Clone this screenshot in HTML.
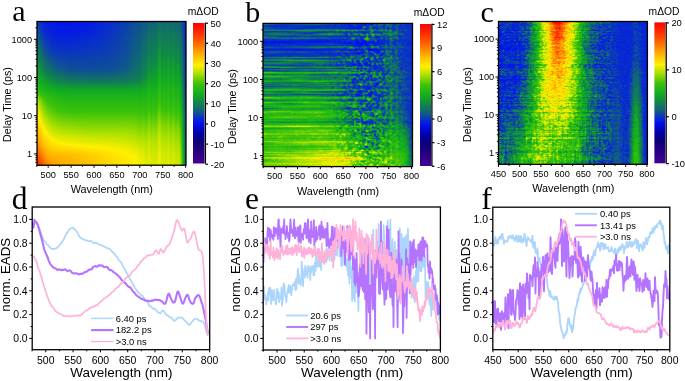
<!DOCTYPE html>
<html><head><meta charset="utf-8"><title>TA figure</title>
<style>
html,body{margin:0;padding:0;background:#fff;}
body{width:685px;height:381px;overflow:hidden;position:relative;font-family:"Liberation Sans",sans-serif;}
canvas{position:absolute;filter:blur(0.45px);}
svg{position:absolute;left:0;top:0;}
</style></head><body>
<canvas id="ha" width="149" height="145" style="left:37px;top:21px;width:149px;height:145px;background:linear-gradient(to right,rgba(0,0,0,0) 70%,rgba(40,190,40,0.5) 80%,rgba(0,20,200,0.8) 100%),linear-gradient(to bottom,#0a28d8 0%,#1050b0 25%,#106890 38%,#20b020 48%,#60c810 68%,#c8e000 82%,#ffd000 94%,#ff9000 100%)"></canvas><canvas id="hb" width="150" height="144" style="left:263px;top:23px;width:150px;height:144px;background:linear-gradient(to right,rgba(0,0,0,0) 50%,rgba(10,50,220,0.55) 65%,rgba(10,40,230,0.7) 92%,rgba(0,20,240,0.95) 100%),linear-gradient(to bottom,#1868a8 0%,#1a80a0 35%,#20a050 60%,#70c818 82%,#d8e400 100%)"></canvas><canvas id="hc" width="150" height="144" style="left:498px;top:21px;width:150px;height:144px;background:linear-gradient(to right,#1040d0 0%,#1050c0 14%,#20a040 22%,#d0e000 28%,#ffb000 35%,#ff5000 40%,#ffb000 45%,#e0e000 52%,#20a040 60%,#1048c0 68%,#0a30e0 85%,#20a050 93%,#0a30e0 98%)"></canvas>
<svg width="685" height="381" viewBox="0 0 685 381" font-family="Liberation Sans" fill="#000">
<defs><linearGradient id="cmg" x1="0" y1="0" x2="0" y2="1"><stop offset="0.000" stop-color="rgb(255,0,0)"/><stop offset="0.070" stop-color="rgb(255,45,0)"/><stop offset="0.140" stop-color="rgb(255,100,0)"/><stop offset="0.220" stop-color="rgb(255,175,0)"/><stop offset="0.300" stop-color="rgb(255,240,0)"/><stop offset="0.360" stop-color="rgb(170,225,0)"/><stop offset="0.430" stop-color="rgb(60,195,10)"/><stop offset="0.500" stop-color="rgb(20,175,30)"/><stop offset="0.536" stop-color="rgb(16,155,50)"/><stop offset="0.571" stop-color="rgb(16,130,80)"/><stop offset="0.607" stop-color="rgb(16,110,105)"/><stop offset="0.643" stop-color="rgb(14,80,150)"/><stop offset="0.679" stop-color="rgb(8,45,205)"/><stop offset="0.714" stop-color="rgb(0,15,240)"/><stop offset="0.780" stop-color="rgb(0,0,170)"/><stop offset="0.840" stop-color="rgb(10,0,120)"/><stop offset="0.920" stop-color="rgb(40,0,130)"/><stop offset="1.000" stop-color="rgb(70,0,150)"/></linearGradient></defs>
<rect x="37.00" y="21.50" width="149.00" height="143.70" fill="none" stroke="#000" stroke-width="1.3"/>
<line x1="36.75" y1="165.20" x2="36.75" y2="166.80" stroke="#000" stroke-width="1.0"/>
<line x1="48.20" y1="165.20" x2="48.20" y2="167.80" stroke="#000" stroke-width="1.0"/>
<text x="48.20" y="177.50" font-size="9.2" text-anchor="middle" >500</text>
<line x1="59.65" y1="165.20" x2="59.65" y2="166.80" stroke="#000" stroke-width="1.0"/>
<line x1="71.10" y1="165.20" x2="71.10" y2="167.80" stroke="#000" stroke-width="1.0"/>
<text x="71.10" y="177.50" font-size="9.2" text-anchor="middle" >550</text>
<line x1="82.55" y1="165.20" x2="82.55" y2="166.80" stroke="#000" stroke-width="1.0"/>
<line x1="94.00" y1="165.20" x2="94.00" y2="167.80" stroke="#000" stroke-width="1.0"/>
<text x="94.00" y="177.50" font-size="9.2" text-anchor="middle" >600</text>
<line x1="105.45" y1="165.20" x2="105.45" y2="166.80" stroke="#000" stroke-width="1.0"/>
<line x1="116.90" y1="165.20" x2="116.90" y2="167.80" stroke="#000" stroke-width="1.0"/>
<text x="116.90" y="177.50" font-size="9.2" text-anchor="middle" >650</text>
<line x1="128.35" y1="165.20" x2="128.35" y2="166.80" stroke="#000" stroke-width="1.0"/>
<line x1="139.80" y1="165.20" x2="139.80" y2="167.80" stroke="#000" stroke-width="1.0"/>
<text x="139.80" y="177.50" font-size="9.2" text-anchor="middle" >700</text>
<line x1="151.25" y1="165.20" x2="151.25" y2="166.80" stroke="#000" stroke-width="1.0"/>
<line x1="162.70" y1="165.20" x2="162.70" y2="167.80" stroke="#000" stroke-width="1.0"/>
<text x="162.70" y="177.50" font-size="9.2" text-anchor="middle" >750</text>
<line x1="174.15" y1="165.20" x2="174.15" y2="166.80" stroke="#000" stroke-width="1.0"/>
<line x1="185.60" y1="165.20" x2="185.60" y2="167.80" stroke="#000" stroke-width="1.0"/>
<text x="185.60" y="177.50" font-size="9.2" text-anchor="middle" >800</text>
<line x1="35.40" y1="162.37" x2="37.00" y2="162.37" stroke="#000" stroke-width="1.0"/>
<line x1="35.40" y1="159.82" x2="37.00" y2="159.82" stroke="#000" stroke-width="1.0"/>
<line x1="35.40" y1="157.60" x2="37.00" y2="157.60" stroke="#000" stroke-width="1.0"/>
<line x1="35.40" y1="155.65" x2="37.00" y2="155.65" stroke="#000" stroke-width="1.0"/>
<line x1="34.00" y1="153.90" x2="37.00" y2="153.90" stroke="#000" stroke-width="1.0"/>
<text x="32.00" y="157.10" font-size="9.2" text-anchor="end" >1</text>
<line x1="35.40" y1="142.40" x2="37.00" y2="142.40" stroke="#000" stroke-width="1.0"/>
<line x1="35.40" y1="135.67" x2="37.00" y2="135.67" stroke="#000" stroke-width="1.0"/>
<line x1="35.40" y1="130.90" x2="37.00" y2="130.90" stroke="#000" stroke-width="1.0"/>
<line x1="35.40" y1="127.20" x2="37.00" y2="127.20" stroke="#000" stroke-width="1.0"/>
<line x1="35.40" y1="124.17" x2="37.00" y2="124.17" stroke="#000" stroke-width="1.0"/>
<line x1="35.40" y1="121.62" x2="37.00" y2="121.62" stroke="#000" stroke-width="1.0"/>
<line x1="35.40" y1="119.40" x2="37.00" y2="119.40" stroke="#000" stroke-width="1.0"/>
<line x1="35.40" y1="117.45" x2="37.00" y2="117.45" stroke="#000" stroke-width="1.0"/>
<line x1="34.00" y1="115.70" x2="37.00" y2="115.70" stroke="#000" stroke-width="1.0"/>
<text x="32.00" y="118.90" font-size="9.2" text-anchor="end" >10</text>
<line x1="35.40" y1="104.20" x2="37.00" y2="104.20" stroke="#000" stroke-width="1.0"/>
<line x1="35.40" y1="97.47" x2="37.00" y2="97.47" stroke="#000" stroke-width="1.0"/>
<line x1="35.40" y1="92.70" x2="37.00" y2="92.70" stroke="#000" stroke-width="1.0"/>
<line x1="35.40" y1="89.00" x2="37.00" y2="89.00" stroke="#000" stroke-width="1.0"/>
<line x1="35.40" y1="85.97" x2="37.00" y2="85.97" stroke="#000" stroke-width="1.0"/>
<line x1="35.40" y1="83.42" x2="37.00" y2="83.42" stroke="#000" stroke-width="1.0"/>
<line x1="35.40" y1="81.20" x2="37.00" y2="81.20" stroke="#000" stroke-width="1.0"/>
<line x1="35.40" y1="79.25" x2="37.00" y2="79.25" stroke="#000" stroke-width="1.0"/>
<line x1="34.00" y1="77.50" x2="37.00" y2="77.50" stroke="#000" stroke-width="1.0"/>
<text x="32.00" y="80.70" font-size="9.2" text-anchor="end" >100</text>
<line x1="35.40" y1="66.00" x2="37.00" y2="66.00" stroke="#000" stroke-width="1.0"/>
<line x1="35.40" y1="59.27" x2="37.00" y2="59.27" stroke="#000" stroke-width="1.0"/>
<line x1="35.40" y1="54.50" x2="37.00" y2="54.50" stroke="#000" stroke-width="1.0"/>
<line x1="35.40" y1="50.80" x2="37.00" y2="50.80" stroke="#000" stroke-width="1.0"/>
<line x1="35.40" y1="47.77" x2="37.00" y2="47.77" stroke="#000" stroke-width="1.0"/>
<line x1="35.40" y1="45.22" x2="37.00" y2="45.22" stroke="#000" stroke-width="1.0"/>
<line x1="35.40" y1="43.00" x2="37.00" y2="43.00" stroke="#000" stroke-width="1.0"/>
<line x1="35.40" y1="41.05" x2="37.00" y2="41.05" stroke="#000" stroke-width="1.0"/>
<line x1="34.00" y1="39.30" x2="37.00" y2="39.30" stroke="#000" stroke-width="1.0"/>
<text x="32.00" y="42.50" font-size="9.2" text-anchor="end" >1000</text>
<line x1="35.40" y1="27.80" x2="37.00" y2="27.80" stroke="#000" stroke-width="1.0"/>
<text x="111.80" y="193.10" font-size="10.85" text-anchor="middle" >Wavelength (nm)</text>
<text x="0.00" y="0.00" font-size="10.7" text-anchor="middle" transform="translate(10.60,104.50) rotate(-90)">Delay Time (ps)</text>
<rect x="193.00" y="23.00" width="11.50" height="140.50" fill="url(#cmg)"/>
<line x1="205.40" y1="22.70" x2="205.40" y2="163.80" stroke="#000" stroke-width="1.3"/>
<line x1="205.40" y1="23.20" x2="208.00" y2="23.20" stroke="#000" stroke-width="1.2"/>
<text x="210.60" y="26.60" font-size="9.4" text-anchor="start" >50</text>
<line x1="205.40" y1="43.35" x2="208.00" y2="43.35" stroke="#000" stroke-width="1.2"/>
<text x="210.60" y="46.75" font-size="9.4" text-anchor="start" >40</text>
<line x1="205.40" y1="63.50" x2="208.00" y2="63.50" stroke="#000" stroke-width="1.2"/>
<text x="210.60" y="66.90" font-size="9.4" text-anchor="start" >30</text>
<line x1="205.40" y1="83.65" x2="208.00" y2="83.65" stroke="#000" stroke-width="1.2"/>
<text x="210.60" y="87.05" font-size="9.4" text-anchor="start" >20</text>
<line x1="205.40" y1="103.80" x2="208.00" y2="103.80" stroke="#000" stroke-width="1.2"/>
<text x="210.60" y="107.20" font-size="9.4" text-anchor="start" >10</text>
<line x1="205.40" y1="123.95" x2="208.00" y2="123.95" stroke="#000" stroke-width="1.2"/>
<text x="210.60" y="127.35" font-size="9.4" text-anchor="start" >0</text>
<line x1="205.40" y1="144.10" x2="208.00" y2="144.10" stroke="#000" stroke-width="1.2"/>
<text x="210.60" y="147.50" font-size="9.4" text-anchor="start" >-10</text>
<line x1="205.40" y1="164.25" x2="208.00" y2="164.25" stroke="#000" stroke-width="1.2"/>
<text x="210.60" y="167.65" font-size="9.4" text-anchor="start" >-20</text>
<text x="187.80" y="14.60" font-size="10.3" text-anchor="start" >m&#916;OD</text>
<text x="12.30" y="21.20" font-size="30" text-anchor="start" font-family="Liberation Serif">a</text>
<rect x="263.00" y="23.40" width="149.50" height="143.20" fill="none" stroke="#000" stroke-width="1.3"/>
<line x1="263.30" y1="166.60" x2="263.30" y2="168.20" stroke="#000" stroke-width="1.0"/>
<line x1="274.70" y1="166.60" x2="274.70" y2="169.20" stroke="#000" stroke-width="1.0"/>
<text x="274.70" y="179.10" font-size="9.2" text-anchor="middle" >500</text>
<line x1="286.10" y1="166.60" x2="286.10" y2="168.20" stroke="#000" stroke-width="1.0"/>
<line x1="297.50" y1="166.60" x2="297.50" y2="169.20" stroke="#000" stroke-width="1.0"/>
<text x="297.50" y="179.10" font-size="9.2" text-anchor="middle" >550</text>
<line x1="308.90" y1="166.60" x2="308.90" y2="168.20" stroke="#000" stroke-width="1.0"/>
<line x1="320.30" y1="166.60" x2="320.30" y2="169.20" stroke="#000" stroke-width="1.0"/>
<text x="320.30" y="179.10" font-size="9.2" text-anchor="middle" >600</text>
<line x1="331.70" y1="166.60" x2="331.70" y2="168.20" stroke="#000" stroke-width="1.0"/>
<line x1="343.10" y1="166.60" x2="343.10" y2="169.20" stroke="#000" stroke-width="1.0"/>
<text x="343.10" y="179.10" font-size="9.2" text-anchor="middle" >650</text>
<line x1="354.50" y1="166.60" x2="354.50" y2="168.20" stroke="#000" stroke-width="1.0"/>
<line x1="365.90" y1="166.60" x2="365.90" y2="169.20" stroke="#000" stroke-width="1.0"/>
<text x="365.90" y="179.10" font-size="9.2" text-anchor="middle" >700</text>
<line x1="377.30" y1="166.60" x2="377.30" y2="168.20" stroke="#000" stroke-width="1.0"/>
<line x1="388.70" y1="166.60" x2="388.70" y2="169.20" stroke="#000" stroke-width="1.0"/>
<text x="388.70" y="179.10" font-size="9.2" text-anchor="middle" >750</text>
<line x1="400.10" y1="166.60" x2="400.10" y2="168.20" stroke="#000" stroke-width="1.0"/>
<line x1="411.50" y1="166.60" x2="411.50" y2="169.20" stroke="#000" stroke-width="1.0"/>
<text x="411.50" y="179.10" font-size="9.2" text-anchor="middle" >800</text>
<line x1="261.40" y1="164.05" x2="263.00" y2="164.05" stroke="#000" stroke-width="1.0"/>
<line x1="261.40" y1="161.50" x2="263.00" y2="161.50" stroke="#000" stroke-width="1.0"/>
<line x1="261.40" y1="159.29" x2="263.00" y2="159.29" stroke="#000" stroke-width="1.0"/>
<line x1="261.40" y1="157.34" x2="263.00" y2="157.34" stroke="#000" stroke-width="1.0"/>
<line x1="260.00" y1="155.60" x2="263.00" y2="155.60" stroke="#000" stroke-width="1.0"/>
<text x="258.00" y="158.80" font-size="9.2" text-anchor="end" >1</text>
<line x1="261.40" y1="144.13" x2="263.00" y2="144.13" stroke="#000" stroke-width="1.0"/>
<line x1="261.40" y1="137.42" x2="263.00" y2="137.42" stroke="#000" stroke-width="1.0"/>
<line x1="261.40" y1="132.66" x2="263.00" y2="132.66" stroke="#000" stroke-width="1.0"/>
<line x1="261.40" y1="128.97" x2="263.00" y2="128.97" stroke="#000" stroke-width="1.0"/>
<line x1="261.40" y1="125.95" x2="263.00" y2="125.95" stroke="#000" stroke-width="1.0"/>
<line x1="261.40" y1="123.40" x2="263.00" y2="123.40" stroke="#000" stroke-width="1.0"/>
<line x1="261.40" y1="121.19" x2="263.00" y2="121.19" stroke="#000" stroke-width="1.0"/>
<line x1="261.40" y1="119.24" x2="263.00" y2="119.24" stroke="#000" stroke-width="1.0"/>
<line x1="260.00" y1="117.50" x2="263.00" y2="117.50" stroke="#000" stroke-width="1.0"/>
<text x="258.00" y="120.70" font-size="9.2" text-anchor="end" >10</text>
<line x1="261.40" y1="106.03" x2="263.00" y2="106.03" stroke="#000" stroke-width="1.0"/>
<line x1="261.40" y1="99.32" x2="263.00" y2="99.32" stroke="#000" stroke-width="1.0"/>
<line x1="261.40" y1="94.56" x2="263.00" y2="94.56" stroke="#000" stroke-width="1.0"/>
<line x1="261.40" y1="90.87" x2="263.00" y2="90.87" stroke="#000" stroke-width="1.0"/>
<line x1="261.40" y1="87.85" x2="263.00" y2="87.85" stroke="#000" stroke-width="1.0"/>
<line x1="261.40" y1="85.30" x2="263.00" y2="85.30" stroke="#000" stroke-width="1.0"/>
<line x1="261.40" y1="83.09" x2="263.00" y2="83.09" stroke="#000" stroke-width="1.0"/>
<line x1="261.40" y1="81.14" x2="263.00" y2="81.14" stroke="#000" stroke-width="1.0"/>
<line x1="260.00" y1="79.40" x2="263.00" y2="79.40" stroke="#000" stroke-width="1.0"/>
<text x="258.00" y="82.60" font-size="9.2" text-anchor="end" >100</text>
<line x1="261.40" y1="67.93" x2="263.00" y2="67.93" stroke="#000" stroke-width="1.0"/>
<line x1="261.40" y1="61.22" x2="263.00" y2="61.22" stroke="#000" stroke-width="1.0"/>
<line x1="261.40" y1="56.46" x2="263.00" y2="56.46" stroke="#000" stroke-width="1.0"/>
<line x1="261.40" y1="52.77" x2="263.00" y2="52.77" stroke="#000" stroke-width="1.0"/>
<line x1="261.40" y1="49.75" x2="263.00" y2="49.75" stroke="#000" stroke-width="1.0"/>
<line x1="261.40" y1="47.20" x2="263.00" y2="47.20" stroke="#000" stroke-width="1.0"/>
<line x1="261.40" y1="44.99" x2="263.00" y2="44.99" stroke="#000" stroke-width="1.0"/>
<line x1="261.40" y1="43.04" x2="263.00" y2="43.04" stroke="#000" stroke-width="1.0"/>
<line x1="260.00" y1="41.30" x2="263.00" y2="41.30" stroke="#000" stroke-width="1.0"/>
<text x="258.00" y="44.50" font-size="9.2" text-anchor="end" >1000</text>
<line x1="261.40" y1="29.83" x2="263.00" y2="29.83" stroke="#000" stroke-width="1.0"/>
<text x="338.05" y="195.00" font-size="10.85" text-anchor="middle" >Wavelength (nm)</text>
<text x="0.00" y="0.00" font-size="10.7" text-anchor="middle" transform="translate(236.00,106.50) rotate(-90)">Delay Time (ps)</text>
<rect x="420.00" y="24.00" width="11.00" height="142.00" fill="url(#cmg)"/>
<line x1="431.90" y1="23.70" x2="431.90" y2="166.30" stroke="#000" stroke-width="1.3"/>
<line x1="431.90" y1="24.40" x2="434.50" y2="24.40" stroke="#000" stroke-width="1.2"/>
<text x="437.10" y="27.80" font-size="9.4" text-anchor="start" >12</text>
<line x1="431.90" y1="48.05" x2="434.50" y2="48.05" stroke="#000" stroke-width="1.2"/>
<text x="437.10" y="51.45" font-size="9.4" text-anchor="start" >9</text>
<line x1="431.90" y1="71.70" x2="434.50" y2="71.70" stroke="#000" stroke-width="1.2"/>
<text x="437.10" y="75.10" font-size="9.4" text-anchor="start" >6</text>
<line x1="431.90" y1="95.35" x2="434.50" y2="95.35" stroke="#000" stroke-width="1.2"/>
<text x="437.10" y="98.75" font-size="9.4" text-anchor="start" >3</text>
<line x1="431.90" y1="119.00" x2="434.50" y2="119.00" stroke="#000" stroke-width="1.2"/>
<text x="437.10" y="122.40" font-size="9.4" text-anchor="start" >0</text>
<line x1="431.90" y1="142.65" x2="434.50" y2="142.65" stroke="#000" stroke-width="1.2"/>
<text x="437.10" y="146.05" font-size="9.4" text-anchor="start" >-3</text>
<line x1="431.90" y1="166.30" x2="434.50" y2="166.30" stroke="#000" stroke-width="1.2"/>
<text x="437.10" y="169.70" font-size="9.4" text-anchor="start" >-6</text>
<text x="413.70" y="16.20" font-size="10.3" text-anchor="start" >m&#916;OD</text>
<text x="245.30" y="21.90" font-size="30" text-anchor="start" font-family="Liberation Serif">b</text>
<rect x="498.50" y="21.50" width="148.90" height="142.80" fill="none" stroke="#000" stroke-width="1.3"/>
<line x1="498.50" y1="164.30" x2="498.50" y2="166.90" stroke="#000" stroke-width="1.0"/>
<text x="498.50" y="176.70" font-size="9.2" text-anchor="middle" >450</text>
<line x1="509.10" y1="164.30" x2="509.10" y2="165.90" stroke="#000" stroke-width="1.0"/>
<line x1="519.70" y1="164.30" x2="519.70" y2="166.90" stroke="#000" stroke-width="1.0"/>
<text x="519.70" y="176.70" font-size="9.2" text-anchor="middle" >500</text>
<line x1="530.30" y1="164.30" x2="530.30" y2="165.90" stroke="#000" stroke-width="1.0"/>
<line x1="540.90" y1="164.30" x2="540.90" y2="166.90" stroke="#000" stroke-width="1.0"/>
<text x="540.90" y="176.70" font-size="9.2" text-anchor="middle" >550</text>
<line x1="551.50" y1="164.30" x2="551.50" y2="165.90" stroke="#000" stroke-width="1.0"/>
<line x1="562.10" y1="164.30" x2="562.10" y2="166.90" stroke="#000" stroke-width="1.0"/>
<text x="562.10" y="176.70" font-size="9.2" text-anchor="middle" >600</text>
<line x1="572.70" y1="164.30" x2="572.70" y2="165.90" stroke="#000" stroke-width="1.0"/>
<line x1="583.30" y1="164.30" x2="583.30" y2="166.90" stroke="#000" stroke-width="1.0"/>
<text x="583.30" y="176.70" font-size="9.2" text-anchor="middle" >650</text>
<line x1="593.90" y1="164.30" x2="593.90" y2="165.90" stroke="#000" stroke-width="1.0"/>
<line x1="604.50" y1="164.30" x2="604.50" y2="166.90" stroke="#000" stroke-width="1.0"/>
<text x="604.50" y="176.70" font-size="9.2" text-anchor="middle" >700</text>
<line x1="615.10" y1="164.30" x2="615.10" y2="165.90" stroke="#000" stroke-width="1.0"/>
<line x1="625.70" y1="164.30" x2="625.70" y2="166.90" stroke="#000" stroke-width="1.0"/>
<text x="625.70" y="176.70" font-size="9.2" text-anchor="middle" >750</text>
<line x1="636.30" y1="164.30" x2="636.30" y2="165.90" stroke="#000" stroke-width="1.0"/>
<line x1="646.90" y1="164.30" x2="646.90" y2="166.90" stroke="#000" stroke-width="1.0"/>
<text x="646.90" y="176.70" font-size="9.2" text-anchor="middle" >800</text>
<line x1="496.90" y1="161.21" x2="498.50" y2="161.21" stroke="#000" stroke-width="1.0"/>
<line x1="496.90" y1="158.67" x2="498.50" y2="158.67" stroke="#000" stroke-width="1.0"/>
<line x1="496.90" y1="156.47" x2="498.50" y2="156.47" stroke="#000" stroke-width="1.0"/>
<line x1="496.90" y1="154.53" x2="498.50" y2="154.53" stroke="#000" stroke-width="1.0"/>
<line x1="495.50" y1="152.80" x2="498.50" y2="152.80" stroke="#000" stroke-width="1.0"/>
<text x="494.20" y="156.00" font-size="9.2" text-anchor="end" >1</text>
<line x1="496.90" y1="141.39" x2="498.50" y2="141.39" stroke="#000" stroke-width="1.0"/>
<line x1="496.90" y1="134.72" x2="498.50" y2="134.72" stroke="#000" stroke-width="1.0"/>
<line x1="496.90" y1="129.98" x2="498.50" y2="129.98" stroke="#000" stroke-width="1.0"/>
<line x1="496.90" y1="126.31" x2="498.50" y2="126.31" stroke="#000" stroke-width="1.0"/>
<line x1="496.90" y1="123.31" x2="498.50" y2="123.31" stroke="#000" stroke-width="1.0"/>
<line x1="496.90" y1="120.77" x2="498.50" y2="120.77" stroke="#000" stroke-width="1.0"/>
<line x1="496.90" y1="118.57" x2="498.50" y2="118.57" stroke="#000" stroke-width="1.0"/>
<line x1="496.90" y1="116.63" x2="498.50" y2="116.63" stroke="#000" stroke-width="1.0"/>
<line x1="495.50" y1="114.90" x2="498.50" y2="114.90" stroke="#000" stroke-width="1.0"/>
<text x="494.20" y="118.10" font-size="9.2" text-anchor="end" >10</text>
<line x1="496.90" y1="103.49" x2="498.50" y2="103.49" stroke="#000" stroke-width="1.0"/>
<line x1="496.90" y1="96.82" x2="498.50" y2="96.82" stroke="#000" stroke-width="1.0"/>
<line x1="496.90" y1="92.08" x2="498.50" y2="92.08" stroke="#000" stroke-width="1.0"/>
<line x1="496.90" y1="88.41" x2="498.50" y2="88.41" stroke="#000" stroke-width="1.0"/>
<line x1="496.90" y1="85.41" x2="498.50" y2="85.41" stroke="#000" stroke-width="1.0"/>
<line x1="496.90" y1="82.87" x2="498.50" y2="82.87" stroke="#000" stroke-width="1.0"/>
<line x1="496.90" y1="80.67" x2="498.50" y2="80.67" stroke="#000" stroke-width="1.0"/>
<line x1="496.90" y1="78.73" x2="498.50" y2="78.73" stroke="#000" stroke-width="1.0"/>
<line x1="495.50" y1="77.00" x2="498.50" y2="77.00" stroke="#000" stroke-width="1.0"/>
<text x="494.20" y="80.20" font-size="9.2" text-anchor="end" >100</text>
<line x1="496.90" y1="65.59" x2="498.50" y2="65.59" stroke="#000" stroke-width="1.0"/>
<line x1="496.90" y1="58.92" x2="498.50" y2="58.92" stroke="#000" stroke-width="1.0"/>
<line x1="496.90" y1="54.18" x2="498.50" y2="54.18" stroke="#000" stroke-width="1.0"/>
<line x1="496.90" y1="50.51" x2="498.50" y2="50.51" stroke="#000" stroke-width="1.0"/>
<line x1="496.90" y1="47.51" x2="498.50" y2="47.51" stroke="#000" stroke-width="1.0"/>
<line x1="496.90" y1="44.97" x2="498.50" y2="44.97" stroke="#000" stroke-width="1.0"/>
<line x1="496.90" y1="42.77" x2="498.50" y2="42.77" stroke="#000" stroke-width="1.0"/>
<line x1="496.90" y1="40.83" x2="498.50" y2="40.83" stroke="#000" stroke-width="1.0"/>
<line x1="495.50" y1="39.10" x2="498.50" y2="39.10" stroke="#000" stroke-width="1.0"/>
<text x="494.20" y="42.30" font-size="9.2" text-anchor="end" >1000</text>
<line x1="496.90" y1="27.69" x2="498.50" y2="27.69" stroke="#000" stroke-width="1.0"/>
<text x="573.25" y="192.20" font-size="10.85" text-anchor="middle" >Wavelength (nm)</text>
<text x="0.00" y="0.00" font-size="10.7" text-anchor="middle" transform="translate(471.40,104.50) rotate(-90)">Delay Time (ps)</text>
<rect x="654.40" y="22.40" width="10.90" height="140.90" fill="url(#cmg)"/>
<line x1="666.20" y1="22.10" x2="666.20" y2="163.60" stroke="#000" stroke-width="1.3"/>
<line x1="666.20" y1="22.90" x2="668.80" y2="22.90" stroke="#000" stroke-width="1.2"/>
<text x="671.40" y="26.30" font-size="9.4" text-anchor="start" >20</text>
<line x1="666.20" y1="69.80" x2="668.80" y2="69.80" stroke="#000" stroke-width="1.2"/>
<text x="671.40" y="73.20" font-size="9.4" text-anchor="start" >10</text>
<line x1="666.20" y1="116.70" x2="668.80" y2="116.70" stroke="#000" stroke-width="1.2"/>
<text x="671.40" y="120.10" font-size="9.4" text-anchor="start" >0</text>
<line x1="666.20" y1="163.60" x2="668.80" y2="163.60" stroke="#000" stroke-width="1.2"/>
<text x="671.40" y="167.00" font-size="9.4" text-anchor="start" >-10</text>
<text x="648.60" y="14.60" font-size="10.3" text-anchor="start" >m&#916;OD</text>
<text x="480.50" y="21.50" font-size="30" text-anchor="start" font-family="Liberation Serif">c</text>
<clipPath id="cd"><rect x="32.2" y="207.0" width="177.5" height="142.7"/></clipPath>
<clipPath id="ce"><rect x="263.2" y="207.0" width="177.2" height="143.0"/></clipPath>
<clipPath id="cf"><rect x="492.8" y="207.2" width="176.99999999999994" height="142.5"/></clipPath>
<polyline points="32.8,219.4 33.4,219.4 34.0,219.8 34.6,220.3 35.2,221.0 35.8,221.8 36.4,222.7 37.0,223.7 37.6,225.1 38.2,226.8 38.8,228.2 39.4,229.3 40.0,230.9 40.6,232.7 41.2,234.1 41.8,235.5 42.4,236.9 43.0,238.4 43.6,239.6 44.2,240.6 44.8,241.4 45.4,242.0 46.0,242.7 46.6,243.8 47.2,244.5 47.8,244.8 48.4,245.5 49.0,246.2 49.6,247.0 50.2,247.7 50.8,248.4 51.4,248.9 52.0,249.0 52.6,248.9 53.2,249.0 53.8,249.1 54.4,248.9 55.0,248.6 55.6,248.5 56.2,248.5 56.8,247.9 57.4,247.2 58.0,246.9 58.6,246.3 59.2,245.5 59.8,244.9 60.4,244.3 61.0,243.4 61.6,242.5 62.2,241.6 62.8,240.6 63.4,239.7 64.0,238.7 64.6,237.4 65.2,236.0 65.8,234.7 66.4,233.5 67.0,232.8 67.6,232.3 68.2,231.4 68.8,230.3 69.4,229.2 70.0,228.6 70.6,228.5 71.2,228.2 71.8,228.0 72.4,227.8 73.0,227.9 73.6,228.3 74.2,228.7 74.8,229.3 75.4,230.0 76.0,230.7 76.6,231.5 77.2,232.4 77.8,233.6 78.4,234.7 79.0,236.0 79.6,236.9 80.2,237.1 80.8,237.8 81.4,238.4 82.0,238.8 82.6,239.1 83.2,239.4 83.8,239.5 84.4,239.8 85.0,240.0 85.6,240.3 86.2,240.4 86.8,240.3 87.4,240.5 88.0,241.3 88.6,241.4 89.2,241.2 89.8,241.2 90.4,241.2 91.0,240.9 91.6,241.0 92.2,241.7 92.8,242.5 93.4,243.1 94.0,243.4 94.6,243.3 95.2,242.8 95.8,242.5 96.4,242.7 97.0,243.5 97.6,243.9 98.2,243.9 98.8,244.3 99.4,244.8 100.0,245.0 100.6,245.1 101.2,245.2 101.8,245.2 102.4,245.5 103.0,246.1 103.6,246.1 104.2,246.4 104.8,247.0 105.4,247.3 106.0,247.5 106.6,247.9 107.2,248.2 107.8,248.3 108.4,248.4 109.0,248.5 109.6,249.0 110.2,249.6 110.8,250.0 111.4,250.6 112.0,251.6 112.6,252.3 113.2,252.4 113.8,252.8 114.4,253.8 115.0,254.7 115.6,255.7 116.2,256.3 116.8,256.6 117.4,257.1 118.0,258.3 118.6,259.6 119.2,260.7 119.8,261.2 120.4,261.6 121.0,262.2 121.6,263.2 122.2,264.6 122.8,265.9 123.4,266.9 124.0,268.0 124.6,268.9 125.2,269.9 125.8,271.3 126.4,272.7 127.0,273.5 127.6,274.5 128.2,275.7 128.8,276.6 129.4,277.7 130.0,278.8 130.6,279.9 131.2,281.0 131.8,282.0 132.4,282.9 133.0,284.2 133.6,285.5 134.2,286.6 134.8,287.8 135.4,288.9 136.0,289.3 136.6,289.8 137.2,290.9 137.8,291.9 138.4,292.6 139.0,293.3 139.6,293.6 140.2,294.2 140.8,294.9 141.4,295.3 142.0,295.4 142.6,295.9 143.2,296.8 143.8,297.7 144.4,298.5 145.0,299.2 145.6,299.9 146.2,300.6 146.8,301.2 147.4,302.1 148.0,303.1 148.6,304.3 149.2,305.7 149.8,306.5 150.4,306.6 151.0,306.7 151.6,307.1 152.2,307.7 152.8,308.4 153.4,308.8 154.0,308.6 154.6,308.6 155.2,309.3 155.8,309.8 156.4,310.3 157.0,311.0 157.6,311.9 158.2,312.6 158.8,312.9 159.4,313.1 160.0,313.4 160.6,313.2 161.2,312.4 161.8,311.4 162.4,310.7 163.0,310.8 163.6,311.2 164.2,311.7 164.8,312.5 165.4,313.5 166.0,314.5 166.6,315.1 167.2,315.4 167.8,315.6 168.4,316.0 169.0,316.7 169.6,317.2 170.2,317.3 170.8,317.3 171.4,317.7 172.0,318.4 172.6,319.3 173.2,320.0 173.8,320.7 174.4,320.9 175.0,320.6 175.6,320.0 176.2,319.4 176.8,318.8 177.4,318.2 178.0,317.7 178.6,317.5 179.2,317.5 179.8,317.6 180.4,317.6 181.0,317.5 181.6,317.4 182.2,317.7 182.8,318.4 183.4,319.0 184.0,319.8 184.6,320.4 185.2,320.8 185.8,321.5 186.4,322.3 187.0,323.0 187.6,323.5 188.2,324.1 188.8,324.9 189.4,324.9 190.0,324.3 190.6,323.7 191.2,323.0 191.8,322.1 192.4,321.2 193.0,320.5 193.6,319.8 194.2,319.3 194.8,319.0 195.4,319.0 196.0,319.0 196.6,318.8 197.2,319.0 197.8,319.7 198.4,320.1 199.0,320.4 199.6,320.6 200.2,320.7 200.8,321.1 201.4,321.4 202.0,321.3 202.6,321.4 203.2,322.2 203.8,323.0 204.4,324.0 205.0,326.2 205.6,328.8 206.2,330.9 206.8,333.0 207.4,334.8 208.0,336.0" fill="none" stroke="#abd5fa" stroke-width="1.7" stroke-linejoin="round" clip-path="url(#cd)"/>
<polyline points="32.8,223.0 33.4,227.6 34.0,223.9 34.6,220.1 35.2,221.3 35.8,221.9 36.4,222.5 37.0,223.2 37.6,224.5 38.2,226.1 38.8,227.9 39.4,230.0 40.0,232.5 40.6,234.9 41.2,237.0 41.8,239.2 42.4,241.4 43.0,244.0 43.6,246.7 44.2,249.1 44.8,250.9 45.4,252.5 46.0,253.8 46.6,254.9 47.2,256.2 47.8,257.8 48.4,259.6 49.0,261.2 49.6,262.5 50.2,263.7 50.8,264.7 51.4,265.4 52.0,266.0 52.6,266.7 53.2,267.3 53.8,267.8 54.4,268.3 55.0,268.3 55.6,268.3 56.2,268.9 56.8,269.6 57.4,269.9 58.0,269.7 58.6,269.5 59.2,269.4 59.8,269.6 60.4,269.8 61.0,269.9 61.6,270.2 62.2,270.0 62.8,269.8 63.4,269.9 64.0,269.7 64.6,269.4 65.2,269.5 65.8,269.7 66.4,270.1 67.0,270.8 67.6,271.2 68.2,270.9 68.8,270.6 69.4,270.4 70.0,270.5 70.6,270.9 71.2,271.7 71.8,272.5 72.4,273.0 73.0,273.2 73.6,273.4 74.2,273.5 74.8,273.4 75.4,273.3 76.0,273.3 76.6,273.4 77.2,273.6 77.8,273.9 78.4,274.3 79.0,274.4 79.6,274.3 80.2,274.1 80.8,273.7 81.4,273.9 82.0,273.9 82.6,273.6 83.2,273.2 83.8,272.8 84.4,272.4 85.0,272.1 85.6,271.9 86.2,271.7 86.8,271.5 87.4,271.2 88.0,270.4 88.6,269.8 89.2,269.9 89.8,269.7 90.4,269.3 91.0,269.3 91.6,269.2 92.2,268.5 92.8,267.4 93.4,266.7 94.0,266.6 94.6,266.4 95.2,266.1 95.8,266.3 96.4,266.7 97.0,266.7 97.6,266.4 98.2,265.9 98.8,265.3 99.4,265.2 100.0,265.6 100.6,265.8 101.2,265.6 101.8,265.4 102.4,265.6 103.0,266.2 103.6,266.8 104.2,267.2 104.8,267.3 105.4,267.1 106.0,266.9 106.6,266.9 107.2,267.1 107.8,267.6 108.4,268.6 109.0,269.5 109.6,270.0 110.2,270.1 110.8,269.9 111.4,270.2 112.0,270.6 112.6,271.0 113.2,271.9 113.8,272.4 114.4,272.5 115.0,272.9 115.6,273.6 116.2,274.1 116.8,274.4 117.4,274.9 118.0,275.5 118.6,276.2 119.2,276.8 119.8,277.3 120.4,278.1 121.0,279.1 121.6,279.9 122.2,280.5 122.8,281.0 123.4,281.7 124.0,282.2 124.6,282.6 125.2,283.1 125.8,283.7 126.4,284.4 127.0,285.1 127.6,285.8 128.2,286.5 128.8,286.9 129.4,287.0 130.0,287.3 130.6,287.9 131.2,288.7 131.8,289.6 132.4,290.5 133.0,291.2 133.6,291.9 134.2,292.6 134.8,293.2 135.4,294.0 136.0,294.9 136.6,295.5 137.2,295.9 137.8,296.3 138.4,296.8 139.0,297.1 139.6,297.5 140.2,298.0 140.8,298.5 141.4,298.9 142.0,298.9 142.6,299.1 143.2,299.6 143.8,299.8 144.4,300.0 145.0,300.4 145.6,300.6 146.2,300.8 146.8,300.9 147.4,300.8 148.0,300.8 148.6,300.9 149.2,301.1 149.8,301.3 150.4,301.2 151.0,300.9 151.6,300.6 152.2,300.5 152.8,300.7 153.4,300.5 154.0,299.9 154.6,299.6 155.2,299.7 155.8,299.8 156.4,299.9 157.0,299.8 157.6,299.9 158.2,300.0 158.8,300.1 159.4,300.1 160.0,300.3 160.6,300.7 161.2,301.1 161.8,301.3 162.4,301.7 163.0,302.4 163.6,303.2 164.2,303.8 164.8,303.9 165.4,303.5 166.0,302.1 166.6,300.0 167.2,297.6 167.8,295.3 168.4,293.7 169.0,293.6 169.6,294.8 170.2,296.5 170.8,298.2 171.4,299.4 172.0,300.5 172.6,301.8 173.2,302.5 173.8,302.5 174.4,302.3 175.0,301.4 175.6,299.4 176.2,296.8 176.8,294.1 177.4,292.0 178.0,291.4 178.6,292.2 179.2,294.0 179.8,295.9 180.4,297.6 181.0,299.5 181.6,301.7 182.2,303.2 182.8,303.7 183.4,303.1 184.0,301.9 184.6,300.2 185.2,298.4 185.8,297.0 186.4,296.0 187.0,295.0 187.6,294.8 188.2,295.9 188.8,297.8 189.4,299.7 190.0,301.0 190.6,302.1 191.2,303.1 191.8,303.5 192.4,303.7 193.0,303.8 193.6,303.0 194.2,301.4 194.8,299.3 195.4,297.7 196.0,297.2 196.6,296.5 197.2,295.8 197.8,295.1 198.4,295.0 199.0,295.4 199.6,296.3 200.2,297.8 200.8,299.9 201.4,301.8 202.0,303.4 202.6,305.3 203.2,307.8 203.8,310.7 204.4,313.7 205.0,316.6 205.6,319.6 206.2,323.0 206.8,326.6 207.4,330.0 208.0,333.6" fill="none" stroke="#b474ff" stroke-width="2.1" stroke-linejoin="round" clip-path="url(#cd)"/>
<polyline points="32.8,256.2 33.4,256.2 34.0,256.8 34.6,257.8 35.2,258.9 35.8,260.2 36.4,261.7 37.0,263.4 37.6,265.6 38.2,267.7 38.8,269.3 39.4,270.7 40.0,272.6 40.6,274.8 41.2,276.7 41.8,278.5 42.4,280.7 43.0,283.1 43.6,285.0 44.2,286.6 44.8,288.4 45.4,290.5 46.0,292.5 46.6,294.2 47.2,296.1 47.8,297.9 48.4,299.4 49.0,300.7 49.6,302.1 50.2,303.3 50.8,304.6 51.4,305.8 52.0,306.3 52.6,306.9 53.2,307.8 53.8,308.6 54.4,309.4 55.0,310.5 55.6,311.2 56.2,311.5 56.8,312.1 57.4,312.4 58.0,312.7 58.6,313.1 59.2,313.5 59.8,313.9 60.4,314.4 61.0,314.5 61.6,314.5 62.2,314.6 62.8,315.2 63.4,315.9 64.0,316.2 64.6,316.2 65.2,316.1 65.8,316.0 66.4,316.0 67.0,316.0 67.6,315.8 68.2,316.0 68.8,316.3 69.4,316.3 70.0,316.4 70.6,316.6 71.2,316.4 71.8,316.1 72.4,316.0 73.0,316.0 73.6,315.8 74.2,315.7 74.8,315.8 75.4,315.8 76.0,315.8 76.6,315.7 77.2,315.5 77.8,315.4 78.4,315.2 79.0,315.5 79.6,315.9 80.2,315.5 80.8,315.0 81.4,314.8 82.0,314.2 82.6,313.4 83.2,313.0 83.8,312.7 84.4,312.1 85.0,311.3 85.6,310.6 86.2,310.3 86.8,310.6 87.4,310.6 88.0,309.6 88.6,308.8 89.2,308.6 89.8,308.4 90.4,308.0 91.0,307.3 91.6,307.1 92.2,307.2 92.8,307.2 93.4,306.9 94.0,306.6 94.6,306.1 95.2,305.7 95.8,305.3 96.4,305.2 97.0,305.3 97.6,304.8 98.2,303.9 98.8,303.4 99.4,302.9 100.0,302.2 100.6,301.7 101.2,301.4 101.8,301.0 102.4,300.5 103.0,299.8 103.6,299.0 104.2,298.5 104.8,298.3 105.4,298.0 106.0,297.4 106.6,296.8 107.2,296.4 107.8,296.1 108.4,295.6 109.0,295.3 109.6,294.7 110.2,294.1 110.8,293.5 111.4,292.9 112.0,292.3 112.6,291.9 113.2,291.6 113.8,291.2 114.4,290.3 115.0,289.2 115.6,288.6 116.2,288.4 116.8,287.8 117.4,287.3 118.0,287.0 118.6,286.5 119.2,285.6 119.8,284.7 120.4,284.3 121.0,283.9 121.6,283.1 122.2,282.4 122.8,282.1 123.4,281.6 124.0,280.6 124.6,279.4 125.2,278.7 125.8,278.3 126.4,277.8 127.0,277.0 127.6,276.3 128.2,276.4 128.8,276.5 129.4,275.7 130.0,274.8 130.6,274.2 131.2,273.4 131.8,272.5 132.4,271.6 133.0,270.9 133.6,270.5 134.2,270.1 134.8,269.5 135.4,268.9 136.0,268.2 136.6,267.4 137.2,266.6 137.8,265.8 138.4,265.2 139.0,264.4 139.6,263.6 140.2,262.6 140.8,261.9 141.4,261.3 142.0,260.7 142.6,260.1 143.2,259.2 143.8,258.5 144.4,258.1 145.0,257.8 145.6,257.3 146.2,256.5 146.8,255.8 147.4,255.4 148.0,255.6 148.6,255.6 149.2,255.1 149.8,254.9 150.4,255.0 151.0,255.0 151.6,255.0 152.2,254.9 152.8,254.6 153.4,254.2 154.0,253.3 154.6,252.2 155.2,251.1 155.8,250.3 156.4,250.5 157.0,251.6 157.6,252.8 158.2,253.8 158.8,254.0 159.4,252.5 160.0,250.4 160.6,249.0 161.2,249.1 161.8,250.0 162.4,251.2 163.0,252.4 163.6,252.6 164.2,251.4 164.8,250.2 165.4,249.3 166.0,248.2 166.6,246.9 167.2,245.8 167.8,245.6 168.4,245.5 169.0,244.7 169.6,243.7 170.2,242.3 170.8,240.8 171.4,239.3 172.0,237.3 172.6,235.4 173.2,233.7 173.8,232.0 174.4,229.7 175.0,226.7 175.6,223.7 176.2,221.4 176.8,220.0 177.4,220.1 178.0,221.1 178.6,222.5 179.2,224.2 179.8,226.0 180.4,227.6 181.0,229.1 181.6,230.1 182.2,230.6 182.8,229.9 183.4,228.7 184.0,228.3 184.6,229.5 185.2,232.2 185.8,235.6 186.4,239.4 187.0,242.1 187.6,242.6 188.2,241.9 188.8,240.8 189.4,239.8 190.0,239.1 190.6,238.5 191.2,237.3 191.8,235.3 192.4,233.6 193.0,232.3 193.6,231.7 194.2,231.9 194.8,233.3 195.4,235.5 196.0,238.1 196.6,240.9 197.2,244.2 197.8,247.3 198.4,249.2 199.0,250.0 199.6,250.3 200.2,250.3 200.8,250.7 201.4,251.4 202.0,252.4 202.6,256.0 203.2,262.3 203.8,269.3 204.4,279.0 205.0,292.2 205.6,306.3 206.2,318.5 206.8,326.4 207.4,331.5 208.0,335.9" fill="none" stroke="#ffb1d9" stroke-width="1.7" stroke-linejoin="round" clip-path="url(#cd)"/>
<polyline points="263.5,291.9 263.9,286.0 264.4,298.9 264.8,299.7 265.3,294.6 265.7,297.9 266.2,304.5 266.6,301.4 267.1,299.6 267.5,299.4 268.0,291.9 268.4,300.5 268.9,288.0 269.3,294.2 269.8,293.7 270.2,287.5 270.7,295.5 271.1,304.1 271.6,294.5 272.0,290.2 272.5,295.8 272.9,300.6 273.4,297.5 273.8,296.5 274.3,289.8 274.7,299.1 275.2,299.4 275.6,303.7 276.1,304.4 276.5,300.4 277.0,288.9 277.4,289.7 277.9,291.3 278.3,297.9 278.8,292.6 279.2,302.4 279.7,297.0 280.1,297.1 280.6,298.6 281.0,296.1 281.5,287.4 281.9,305.7 282.4,300.9 282.8,300.6 283.3,289.1 283.7,283.4 284.2,284.8 284.6,287.0 285.1,296.4 285.5,296.5 286.0,299.2 286.4,302.3 286.9,294.2 287.3,293.0 287.8,289.3 288.2,289.1 288.7,285.0 289.1,292.9 289.6,291.8 290.0,287.9 290.5,285.7 290.9,291.6 291.4,295.3 291.8,288.9 292.3,289.2 292.7,284.6 293.2,285.4 293.6,284.5 294.1,284.1 294.5,282.0 295.0,286.4 295.4,290.1 295.9,278.8 296.3,289.5 296.8,280.3 297.2,279.7 297.7,270.5 298.1,268.9 298.6,283.8 299.0,274.8 299.5,283.5 299.9,279.6 300.4,280.2 300.8,285.1 301.3,277.6 301.7,261.6 302.2,268.6 302.6,281.8 303.1,286.5 303.5,275.9 304.0,272.3 304.4,268.6 304.9,277.5 305.3,265.8 305.8,268.0 306.2,274.5 306.7,274.0 307.1,271.9 307.6,277.8 308.0,266.2 308.5,265.9 308.9,269.4 309.4,271.4 309.8,269.3 310.3,280.1 310.7,267.2 311.2,272.6 311.6,266.4 312.1,270.3 312.5,266.2 313.0,266.2 313.4,275.5 313.9,265.9 314.3,275.2 314.8,262.9 315.2,263.8 315.7,270.9 316.1,253.1 316.6,256.5 317.0,264.6 317.5,266.6 317.9,266.6 318.4,261.8 318.8,256.0 319.3,266.7 319.7,264.4 320.2,256.3 320.6,261.9 321.1,269.9 321.5,261.1 322.0,254.0 322.4,257.2 322.9,257.1 323.3,260.2 323.8,262.4 324.2,252.8 324.7,253.7 325.1,261.6 325.6,260.0 326.0,262.4 326.5,248.1 326.9,250.2 327.4,259.6 327.8,249.8 328.3,255.7 328.7,253.6 329.2,250.1 329.6,260.7 330.1,253.2 330.5,250.4 331.0,251.9 331.4,253.7 331.9,243.9 332.3,247.2 332.8,244.7 333.2,240.0 333.7,257.3 334.1,260.1 334.6,258.4 335.0,240.7 335.5,253.3 335.9,255.0 336.4,247.3 336.8,255.6 337.3,243.2 337.7,243.0 338.2,244.4 338.6,245.0 339.1,243.2 339.5,256.4 340.0,242.5 340.4,246.5 340.9,245.8 341.3,266.2 341.8,244.6 342.2,254.9 342.7,265.3 343.1,243.4 343.6,246.3 344.0,250.7 344.5,243.9 344.9,264.4 345.4,251.9 345.8,266.1 346.3,263.0 346.7,259.4 347.2,270.5 347.6,258.7 348.1,275.5 348.5,248.6 349.0,256.7 349.4,283.8 349.9,240.3 350.3,277.7 350.8,267.0 351.2,266.5 351.7,266.6 352.1,301.2 352.6,257.6 353.0,298.5 353.5,294.8 353.9,281.3 354.4,288.0 354.8,301.6 355.3,279.7 355.7,263.9 356.2,292.5 356.6,273.0 357.1,278.6 357.5,285.0 358.0,295.1 358.4,311.1 358.9,285.0 359.3,279.3 359.8,289.4 360.2,278.8 360.7,244.5 361.1,260.5 361.6,249.1 362.0,279.9 362.5,288.3 362.9,271.4 363.4,247.3 363.8,276.0 364.3,246.7 364.7,265.7 365.2,241.6 365.6,238.1 366.1,238.2 366.5,261.7 367.0,251.1 367.4,268.7 367.9,240.6 368.3,269.6 368.8,252.2 369.2,283.0 369.7,279.3 370.1,258.7 370.6,263.8 371.0,266.2 371.5,269.7 371.9,257.9 372.4,280.1 372.8,253.3 373.3,229.8 373.7,265.5 374.2,260.5 374.6,276.0 375.1,272.2 375.5,264.4 376.0,263.9 376.4,264.0 376.9,250.7 377.3,241.3 377.8,247.9 378.2,259.6 378.7,224.0 379.1,253.8 379.6,245.5 380.0,260.0 380.5,248.2 380.9,262.1 381.4,257.3 381.8,281.4 382.3,253.5 382.7,253.7 383.2,256.6 383.6,225.0 384.1,236.5 384.5,277.2 385.0,261.4 385.4,253.4 385.9,268.8 386.3,247.5 386.8,245.7 387.2,244.4 387.7,220.6 388.1,265.4 388.6,247.7 389.0,249.2 389.5,245.5 389.9,240.4 390.4,219.4 390.8,255.2 391.3,290.0 391.7,270.8 392.2,249.4 392.6,239.2 393.1,255.4 393.5,261.7 394.0,254.4 394.4,270.2 394.9,241.8 395.3,275.4 395.8,261.1 396.2,249.8 396.7,254.8 397.1,266.0 397.6,273.4 398.0,262.6 398.5,271.8 398.9,301.5 399.4,234.6 399.8,228.1 400.3,262.6 400.7,245.5 401.2,262.2 401.6,233.5 402.1,261.5 402.5,280.6 403.0,275.8 403.4,238.0 403.9,249.7 404.3,269.1 404.8,283.3 405.2,236.4 405.7,237.4 406.1,267.7 406.6,244.6 407.0,234.8 407.5,265.4 407.9,228.6 408.4,245.2 408.8,270.6 409.3,253.7 409.7,274.6 410.2,254.5 410.6,282.2 411.1,282.6 411.5,298.0 412.0,280.0 412.4,280.3 412.9,284.1 413.3,295.8 413.8,276.4 414.2,281.7 414.7,302.2 415.1,288.4 415.6,285.4 416.0,270.7 416.5,282.4 416.9,259.7 417.4,254.4 417.8,258.8 418.3,281.4 418.7,267.4 419.2,254.7 419.6,259.0 420.1,265.9 420.5,271.5 421.0,243.3 421.4,271.3 421.9,267.2 422.3,251.6 422.8,255.5 423.2,265.7 423.7,260.8 424.1,267.4 424.6,259.0 425.0,255.6 425.5,298.3 425.9,280.9 426.4,284.0 426.8,289.2 427.3,298.9 427.7,297.3 428.2,281.9 428.6,292.3 429.1,296.6 429.5,304.9 430.0,295.0 430.4,305.3 430.9,305.6 431.3,316.2 431.8,282.4 432.2,305.3 432.7,307.6 433.1,309.8 433.6,303.1 434.0,295.5 434.5,307.2 434.9,303.9 435.4,293.1 435.8,288.7 436.3,304.4 436.7,293.5 437.2,306.4 437.6,314.4 438.1,305.0 438.5,306.3 439.0,307.2 439.4,318.9 439.9,321.0" fill="none" stroke="#abd5fa" stroke-width="1.7" stroke-linejoin="round" clip-path="url(#ce)"/>
<polyline points="263.5,262.5 263.9,246.1 264.4,242.1 264.8,244.1 265.3,238.2 265.7,251.3 266.2,245.8 266.6,242.5 267.1,245.1 267.5,232.5 268.0,227.6 268.4,236.3 268.9,235.6 269.3,228.6 269.8,236.2 270.2,241.4 270.7,229.8 271.1,233.7 271.6,234.5 272.0,235.2 272.5,238.1 272.9,235.6 273.4,239.9 273.8,227.2 274.3,228.9 274.7,236.2 275.2,228.9 275.6,228.1 276.1,231.0 276.5,233.2 277.0,228.4 277.4,234.7 277.9,239.0 278.3,220.6 278.8,219.4 279.2,235.1 279.7,226.6 280.1,239.7 280.6,247.9 281.0,230.4 281.5,228.8 281.9,231.0 282.4,232.7 282.8,230.8 283.3,225.9 283.7,233.4 284.2,219.5 284.6,233.4 285.1,232.1 285.5,239.1 286.0,232.6 286.4,234.3 286.9,226.1 287.3,232.7 287.8,236.4 288.2,237.9 288.7,232.8 289.1,241.4 289.6,239.6 290.0,228.0 290.5,219.4 290.9,225.4 291.4,232.4 291.8,233.1 292.3,230.5 292.7,229.8 293.2,236.1 293.6,228.7 294.1,219.7 294.5,230.5 295.0,238.4 295.4,227.7 295.9,236.4 296.3,236.1 296.8,232.7 297.2,235.1 297.7,227.4 298.1,233.2 298.6,241.8 299.0,232.5 299.5,226.5 299.9,241.5 300.4,225.3 300.8,242.8 301.3,233.9 301.7,236.9 302.2,235.4 302.6,233.6 303.1,239.8 303.5,233.0 304.0,228.6 304.4,233.6 304.9,223.2 305.3,232.5 305.8,223.1 306.2,233.8 306.7,238.3 307.1,237.8 307.6,232.9 308.0,219.4 308.5,231.0 308.9,241.6 309.4,230.5 309.8,237.2 310.3,230.3 310.7,243.3 311.2,221.5 311.6,230.7 312.1,231.7 312.5,237.0 313.0,234.1 313.4,234.5 313.9,220.2 314.3,245.4 314.8,234.9 315.2,229.8 315.7,241.6 316.1,226.8 316.6,235.4 317.0,239.4 317.5,238.0 317.9,234.7 318.4,232.5 318.8,227.0 319.3,234.9 319.7,225.5 320.2,239.5 320.6,238.5 321.1,233.2 321.5,221.7 322.0,237.2 322.4,237.3 322.9,227.0 323.3,231.1 323.8,234.7 324.2,238.2 324.7,231.8 325.1,229.1 325.6,231.1 326.0,228.8 326.5,245.6 326.9,246.1 327.4,222.8 327.8,232.8 328.3,245.1 328.7,244.5 329.2,248.1 329.6,243.9 330.1,239.1 330.5,238.4 331.0,245.1 331.4,239.4 331.9,226.9 332.3,237.7 332.8,226.6 333.2,242.5 333.7,240.0 334.1,237.3 334.6,239.8 335.0,227.9 335.5,235.4 335.9,235.3 336.4,239.8 336.8,238.2 337.3,240.8 337.7,241.2 338.2,231.5 338.6,232.7 339.1,247.3 339.5,235.5 340.0,239.8 340.4,246.1 340.9,239.3 341.3,256.1 341.8,235.1 342.2,236.8 342.7,226.5 343.1,248.3 343.6,239.3 344.0,247.6 344.5,247.5 344.9,264.6 345.4,248.6 345.8,239.9 346.3,239.8 346.7,251.8 347.2,226.1 347.6,239.8 348.1,229.7 348.5,236.2 349.0,260.0 349.4,237.9 349.9,243.4 350.3,258.8 350.8,231.1 351.2,251.6 351.7,235.4 352.1,254.7 352.6,247.0 353.0,269.4 353.5,254.7 353.9,265.0 354.4,282.6 354.8,259.5 355.3,285.6 355.7,277.1 356.2,282.4 356.6,253.0 357.1,272.2 357.5,273.0 358.0,287.1 358.4,296.5 358.9,295.2 359.3,287.7 359.8,264.1 360.2,265.8 360.7,286.1 361.1,252.8 361.6,269.7 362.0,275.6 362.5,288.0 362.9,290.3 363.4,255.2 363.8,292.1 364.3,240.0 364.7,266.3 365.2,299.4 365.6,275.0 366.1,290.7 366.5,333.7 367.0,277.9 367.4,277.0 367.9,238.1 368.3,288.8 368.8,312.2 369.2,287.0 369.7,285.1 370.1,338.4 370.6,286.8 371.0,285.7 371.5,284.1 371.9,261.0 372.4,297.7 372.8,309.3 373.3,305.0 373.7,298.9 374.2,265.5 374.6,271.5 375.1,338.4 375.5,254.7 376.0,250.2 376.4,277.6 376.9,247.3 377.3,252.0 377.8,247.1 378.2,253.3 378.7,273.6 379.1,293.4 379.6,281.4 380.0,294.0 380.5,268.9 380.9,221.6 381.4,260.2 381.8,241.8 382.3,282.9 382.7,289.4 383.2,266.3 383.6,276.1 384.1,292.7 384.5,304.6 385.0,265.4 385.4,299.6 385.9,271.3 386.3,298.7 386.8,226.3 387.2,272.6 387.7,289.7 388.1,255.8 388.6,229.4 389.0,257.2 389.5,277.9 389.9,293.4 390.4,297.4 390.8,283.9 391.3,252.7 391.7,261.7 392.2,296.1 392.6,305.5 393.1,289.6 393.5,327.1 394.0,274.7 394.4,286.8 394.9,291.7 395.3,282.9 395.8,259.6 396.2,259.4 396.7,289.2 397.1,298.6 397.6,327.3 398.0,290.3 398.5,231.1 398.9,258.3 399.4,254.0 399.8,269.4 400.3,299.6 400.7,296.3 401.2,295.5 401.6,259.4 402.1,280.9 402.5,288.9 403.0,333.1 403.4,317.2 403.9,285.1 404.3,306.3 404.8,290.4 405.2,280.7 405.7,278.5 406.1,249.3 406.6,317.7 407.0,287.8 407.5,258.7 407.9,271.5 408.4,267.3 408.8,272.3 409.3,264.4 409.7,293.3 410.2,241.3 410.6,274.1 411.1,256.6 411.5,264.3 412.0,247.8 412.4,242.3 412.9,251.8 413.3,267.9 413.8,240.0 414.2,256.2 414.7,262.3 415.1,254.4 415.6,249.5 416.0,267.1 416.5,251.0 416.9,256.9 417.4,252.3 417.8,254.7 418.3,246.1 418.7,244.2 419.2,260.2 419.6,250.9 420.1,254.7 420.5,241.3 421.0,257.8 421.4,261.0 421.9,251.5 422.3,237.7 422.8,255.9 423.2,237.5 423.7,254.6 424.1,256.6 424.6,240.7 425.0,245.7 425.5,241.7 425.9,246.9 426.4,244.4 426.8,244.2 427.3,245.9 427.7,265.8 428.2,264.3 428.6,272.7 429.1,264.2 429.5,278.5 430.0,261.4 430.4,272.0 430.9,272.8 431.3,268.4 431.8,272.1 432.2,271.2 432.7,282.4 433.1,278.8 433.6,288.4 434.0,289.5 434.5,287.4 434.9,285.3 435.4,289.9 435.8,299.6 436.3,297.5 436.7,295.5 437.2,298.4 437.6,314.6 438.1,302.2 438.5,305.4 439.0,313.8 439.4,308.8 439.9,304.7" fill="none" stroke="#b474ff" stroke-width="1.8" stroke-linejoin="round" clip-path="url(#ce)"/>
<polyline points="263.5,240.2 263.9,242.4 264.4,242.0 264.8,246.8 265.3,244.6 265.7,253.3 266.2,244.6 266.6,245.1 267.1,244.7 267.5,251.3 268.0,246.4 268.4,254.6 268.9,248.6 269.3,254.4 269.8,258.8 270.2,249.2 270.7,241.1 271.1,254.6 271.6,255.0 272.0,252.7 272.5,253.1 272.9,257.3 273.4,247.4 273.8,253.3 274.3,260.1 274.7,251.7 275.2,253.4 275.6,253.5 276.1,257.6 276.5,248.2 277.0,252.5 277.4,257.2 277.9,258.6 278.3,249.9 278.8,255.5 279.2,253.3 279.7,255.5 280.1,259.3 280.6,248.2 281.0,250.4 281.5,252.2 281.9,245.5 282.4,246.6 282.8,252.1 283.3,255.1 283.7,253.2 284.2,250.8 284.6,252.4 285.1,254.0 285.5,253.5 286.0,246.4 286.4,245.9 286.9,254.5 287.3,245.1 287.8,254.6 288.2,253.7 288.7,248.6 289.1,251.4 289.6,253.5 290.0,249.7 290.5,248.1 290.9,253.5 291.4,253.3 291.8,255.0 292.3,247.2 292.7,252.2 293.2,251.0 293.6,254.6 294.1,249.9 294.5,247.1 295.0,252.0 295.4,244.6 295.9,247.1 296.3,250.3 296.8,255.3 297.2,245.6 297.7,249.1 298.1,249.2 298.6,243.4 299.0,252.3 299.5,248.7 299.9,249.8 300.4,251.6 300.8,246.2 301.3,246.3 301.7,256.1 302.2,250.9 302.6,255.1 303.1,256.5 303.5,252.4 304.0,247.4 304.4,258.0 304.9,250.1 305.3,248.8 305.8,252.5 306.2,254.5 306.7,253.1 307.1,249.6 307.6,254.5 308.0,248.2 308.5,252.5 308.9,250.0 309.4,247.4 309.8,253.7 310.3,252.9 310.7,249.0 311.2,248.8 311.6,251.7 312.1,255.2 312.5,256.9 313.0,249.8 313.4,254.3 313.9,255.8 314.3,247.7 314.8,251.5 315.2,246.5 315.7,251.9 316.1,255.2 316.6,254.0 317.0,256.4 317.5,253.3 317.9,248.6 318.4,253.1 318.8,259.2 319.3,249.2 319.7,262.6 320.2,254.2 320.6,254.2 321.1,251.5 321.5,260.8 322.0,243.1 322.4,257.7 322.9,261.9 323.3,256.7 323.8,257.4 324.2,264.1 324.7,251.2 325.1,259.1 325.6,252.4 326.0,255.6 326.5,260.4 326.9,252.1 327.4,256.0 327.8,249.9 328.3,253.3 328.7,255.8 329.2,255.0 329.6,251.1 330.1,251.4 330.5,252.4 331.0,249.2 331.4,246.9 331.9,261.4 332.3,249.8 332.8,241.9 333.2,267.4 333.7,251.0 334.1,240.9 334.6,244.7 335.0,239.2 335.5,252.5 335.9,252.2 336.4,224.6 336.8,228.4 337.3,238.8 337.7,228.9 338.2,234.8 338.6,235.2 339.1,247.6 339.5,248.2 340.0,243.6 340.4,225.1 340.9,231.4 341.3,228.2 341.8,234.9 342.2,234.6 342.7,231.5 343.1,240.7 343.6,235.6 344.0,226.4 344.5,238.1 344.9,234.0 345.4,235.5 345.8,237.7 346.3,230.6 346.7,241.0 347.2,228.2 347.6,255.3 348.1,243.3 348.5,243.8 349.0,226.2 349.4,237.1 349.9,225.4 350.3,227.3 350.8,241.6 351.2,251.3 351.7,240.4 352.1,242.7 352.6,228.8 353.0,219.4 353.5,255.4 353.9,226.5 354.4,232.4 354.8,238.9 355.3,221.3 355.7,225.3 356.2,241.3 356.6,232.0 357.1,240.0 357.5,250.3 358.0,245.1 358.4,243.9 358.9,248.0 359.3,228.4 359.8,241.4 360.2,266.8 360.7,257.5 361.1,244.0 361.6,230.6 362.0,242.9 362.5,251.3 362.9,237.7 363.4,263.4 363.8,239.0 364.3,244.0 364.7,246.2 365.2,251.9 365.6,246.5 366.1,273.6 366.5,233.9 367.0,254.2 367.4,253.6 367.9,235.5 368.3,243.8 368.8,238.6 369.2,238.5 369.7,250.3 370.1,261.7 370.6,242.4 371.0,253.8 371.5,247.4 371.9,234.7 372.4,246.0 372.8,249.6 373.3,273.8 373.7,253.6 374.2,249.5 374.6,257.0 375.1,262.9 375.5,254.1 376.0,259.3 376.4,229.7 376.9,245.4 377.3,245.2 377.8,253.6 378.2,255.5 378.7,259.3 379.1,255.4 379.6,257.2 380.0,253.1 380.5,262.9 380.9,254.9 381.4,242.9 381.8,266.4 382.3,255.0 382.7,268.3 383.2,258.0 383.6,256.1 384.1,254.7 384.5,243.2 385.0,266.4 385.4,281.6 385.9,255.6 386.3,262.9 386.8,258.2 387.2,249.5 387.7,250.6 388.1,270.7 388.6,269.7 389.0,256.3 389.5,271.7 389.9,258.1 390.4,256.8 390.8,258.6 391.3,278.4 391.7,270.9 392.2,261.6 392.6,277.5 393.1,274.7 393.5,264.5 394.0,249.9 394.4,258.2 394.9,259.9 395.3,273.7 395.8,273.5 396.2,279.1 396.7,264.2 397.1,266.7 397.6,299.1 398.0,283.4 398.5,295.1 398.9,279.3 399.4,277.0 399.8,274.9 400.3,284.1 400.7,303.6 401.2,278.2 401.6,277.6 402.1,281.3 402.5,266.3 403.0,275.4 403.4,276.6 403.9,284.0 404.3,288.4 404.8,292.8 405.2,282.0 405.7,288.3 406.1,283.5 406.6,275.9 407.0,266.2 407.5,286.4 407.9,280.1 408.4,282.8 408.8,286.6 409.3,281.7 409.7,287.9 410.2,288.2 410.6,290.8 411.1,286.7 411.5,278.2 412.0,283.3 412.4,292.0 412.9,288.9 413.3,293.1 413.8,298.3 414.2,293.6 414.7,289.6 415.1,293.7 415.6,287.6 416.0,300.9 416.5,296.2 416.9,292.0 417.4,304.3 417.8,303.0 418.3,310.8 418.7,307.3 419.2,309.8 419.6,314.9 420.1,321.2 420.5,309.6 421.0,313.1 421.4,314.3 421.9,315.0 422.3,306.4 422.8,310.3 423.2,311.3 423.7,306.9 424.1,308.1 424.6,301.4 425.0,306.1 425.5,303.1 425.9,298.9 426.4,299.4 426.8,300.0 427.3,290.6 427.7,296.1 428.2,288.2 428.6,297.6 429.1,295.8 429.5,287.5 430.0,293.4 430.4,291.4 430.9,289.8 431.3,291.0 431.8,291.2 432.2,287.4 432.7,300.7 433.1,293.4 433.6,297.6 434.0,308.7 434.5,302.2 434.9,309.8 435.4,312.5 435.8,314.7 436.3,318.3 436.7,322.4 437.2,322.9 437.6,322.9 438.1,332.2 438.5,329.6 439.0,334.3 439.4,333.2 439.9,338.4" fill="none" stroke="#ffb1d9" stroke-width="1.7" stroke-linejoin="round" clip-path="url(#ce)"/>
<polyline points="493.0,243.4 493.5,245.1 494.0,245.9 494.5,240.2 495.0,239.8 495.5,237.0 496.0,242.8 496.5,243.8 497.0,241.5 497.5,240.0 498.0,243.5 498.5,240.0 499.0,237.3 499.5,238.3 500.0,236.8 500.5,239.0 501.0,237.7 501.5,234.3 502.0,238.5 502.5,233.9 503.0,237.7 503.5,240.3 504.0,243.9 504.5,240.2 505.0,241.9 505.5,241.1 506.0,241.4 506.5,241.4 507.0,241.2 507.5,241.6 508.0,238.0 508.5,236.6 509.0,235.9 509.5,237.9 510.0,236.8 510.5,237.3 511.0,236.5 511.5,235.7 512.0,238.6 512.5,237.8 513.0,235.5 513.5,238.4 514.0,238.1 514.5,240.8 515.0,240.6 515.5,238.0 516.0,235.6 516.5,237.1 517.0,239.7 517.5,241.8 518.0,238.7 518.5,235.5 519.0,241.3 519.5,239.1 520.0,237.0 520.5,241.4 521.0,236.0 521.5,242.6 522.0,239.6 522.5,241.6 523.0,242.0 523.5,237.8 524.0,237.5 524.5,233.7 525.0,237.4 525.5,242.2 526.0,240.0 526.5,246.3 527.0,242.1 527.5,237.3 528.0,239.7 528.5,237.9 529.0,239.1 529.5,239.9 530.0,240.1 530.5,240.9 531.0,240.6 531.5,242.6 532.0,238.7 532.5,235.6 533.0,245.7 533.5,247.8 534.0,247.5 534.5,242.0 535.0,242.7 535.5,252.6 536.0,250.9 536.5,253.9 537.0,254.0 537.5,248.5 538.0,259.3 538.5,259.0 539.0,260.9 539.5,258.0 540.0,260.9 540.5,264.7 541.0,263.8 541.5,264.0 542.0,265.5 542.5,267.6 543.0,268.8 543.5,271.0 544.0,272.4 544.5,272.7 545.0,272.5 545.5,269.8 546.0,273.7 546.5,277.5 547.0,278.7 547.5,286.3 548.0,288.0 548.5,290.4 549.0,291.4 549.5,296.1 550.0,290.7 550.5,292.8 551.0,296.6 551.5,297.5 552.0,297.0 552.5,296.4 553.0,298.5 553.5,299.6 554.0,298.8 554.5,299.3 555.0,296.6 555.5,298.0 556.0,299.0 556.5,296.5 557.0,297.7 557.5,300.1 558.0,302.3 558.5,310.0 559.0,311.9 559.5,313.9 560.0,321.7 560.5,326.0 561.0,326.3 561.5,330.7 562.0,331.4 562.5,332.7 563.0,333.1 563.5,338.4 564.0,337.3 564.5,335.2 565.0,335.1 565.5,334.6 566.0,331.5 566.5,333.1 567.0,330.9 567.5,324.3 568.0,319.0 568.5,318.3 569.0,318.4 569.5,322.5 570.0,326.0 570.5,326.3 571.0,328.1 571.5,325.3 572.0,332.2 572.5,330.4 573.0,329.8 573.5,323.6 574.0,319.4 574.5,315.4 575.0,314.0 575.5,308.2 576.0,307.4 576.5,306.6 577.0,303.7 577.5,299.3 578.0,301.3 578.5,297.5 579.0,294.2 579.5,292.2 580.0,293.4 580.5,288.4 581.0,290.5 581.5,289.1 582.0,288.4 582.5,286.5 583.0,283.8 583.5,284.6 584.0,281.9 584.5,278.8 585.0,279.1 585.5,278.8 586.0,274.2 586.5,270.6 587.0,267.8 587.5,268.6 588.0,266.0 588.5,261.0 589.0,262.2 589.5,267.0 590.0,267.0 590.5,261.9 591.0,259.2 591.5,261.7 592.0,256.7 592.5,256.9 593.0,259.0 593.5,254.0 594.0,250.6 594.5,252.2 595.0,255.6 595.5,251.8 596.0,248.6 596.5,247.6 597.0,246.0 597.5,246.0 598.0,242.5 598.5,247.2 599.0,246.9 599.5,244.4 600.0,250.7 600.5,248.9 601.0,242.9 601.5,245.8 602.0,242.8 602.5,243.5 603.0,245.1 603.5,249.4 604.0,249.1 604.5,244.0 605.0,244.0 605.5,244.7 606.0,248.0 606.5,247.9 607.0,248.4 607.5,247.9 608.0,247.3 608.5,249.8 609.0,251.6 609.5,251.3 610.0,251.4 610.5,251.2 611.0,248.5 611.5,247.1 612.0,249.5 612.5,251.1 613.0,251.1 613.5,252.4 614.0,253.1 614.5,250.7 615.0,248.4 615.5,253.8 616.0,254.7 616.5,257.0 617.0,252.9 617.5,249.4 618.0,252.5 618.5,251.5 619.0,248.3 619.5,247.2 620.0,247.1 620.5,250.2 621.0,248.4 621.5,246.9 622.0,244.1 622.5,245.9 623.0,247.1 623.5,245.7 624.0,253.1 624.5,246.7 625.0,247.1 625.5,248.7 626.0,247.3 626.5,243.3 627.0,241.6 627.5,246.4 628.0,247.4 628.5,246.4 629.0,245.6 629.5,241.1 630.0,242.1 630.5,244.4 631.0,246.8 631.5,242.1 632.0,245.2 632.5,246.5 633.0,242.3 633.5,244.8 634.0,244.3 634.5,241.3 635.0,243.0 635.5,239.2 636.0,241.9 636.5,239.4 637.0,248.0 637.5,244.4 638.0,240.6 638.5,242.9 639.0,251.2 639.5,246.2 640.0,246.5 640.5,245.3 641.0,244.2 641.5,247.3 642.0,247.0 642.5,250.6 643.0,248.2 643.5,242.2 644.0,244.8 644.5,247.8 645.0,243.8 645.5,241.7 646.0,237.9 646.5,239.7 647.0,244.3 647.5,240.3 648.0,240.8 648.5,236.9 649.0,237.2 649.5,237.2 650.0,233.0 650.5,232.4 651.0,231.9 651.5,233.9 652.0,232.9 652.5,228.1 653.0,230.6 653.5,232.5 654.0,231.7 654.5,226.5 655.0,229.1 655.5,228.2 656.0,226.3 656.5,225.5 657.0,227.2 657.5,224.0 658.0,223.8 658.5,223.4 659.0,222.2 659.5,223.8 660.0,220.3 660.5,221.2 661.0,225.0 661.5,223.1 662.0,228.9 662.5,229.5 663.0,225.7 663.5,233.3 664.0,235.5 664.5,243.0 665.0,242.0 665.5,245.5 666.0,249.1 666.5,247.0 667.0,246.3 667.5,251.7 668.0,253.6 668.5,249.1 669.0,244.2" fill="none" stroke="#abd5fa" stroke-width="1.8" stroke-linejoin="round" clip-path="url(#cf)"/>
<polyline points="493.0,322.2 493.5,309.4 494.0,301.1 494.5,322.1 495.0,301.3 495.5,323.1 496.0,316.0 496.5,326.6 497.0,309.3 497.5,310.1 498.0,308.6 498.5,317.4 499.0,321.5 499.5,320.9 500.0,313.2 500.5,321.8 501.0,329.7 501.5,316.8 502.0,311.1 502.5,322.2 503.0,323.2 503.5,313.5 504.0,313.7 504.5,323.7 505.0,314.2 505.5,297.4 506.0,310.9 506.5,314.4 507.0,320.2 507.5,311.5 508.0,294.2 508.5,328.2 509.0,296.5 509.5,305.7 510.0,289.7 510.5,289.6 511.0,313.8 511.5,314.8 512.0,301.1 512.5,290.9 513.0,289.9 513.5,310.7 514.0,314.2 514.5,311.6 515.0,320.0 515.5,312.6 516.0,300.2 516.5,299.6 517.0,296.9 517.5,290.0 518.0,291.1 518.5,304.4 519.0,295.2 519.5,319.0 520.0,283.1 520.5,296.8 521.0,316.1 521.5,287.0 522.0,290.4 522.5,318.6 523.0,284.4 523.5,289.8 524.0,295.5 524.5,308.5 525.0,319.1 525.5,283.8 526.0,293.9 526.5,291.9 527.0,273.4 527.5,280.4 528.0,283.8 528.5,298.1 529.0,283.9 529.5,309.2 530.0,274.7 530.5,278.1 531.0,276.0 531.5,279.5 532.0,278.4 532.5,286.1 533.0,273.2 533.5,265.3 534.0,276.2 534.5,270.7 535.0,257.5 535.5,293.6 536.0,270.1 536.5,275.5 537.0,276.3 537.5,261.8 538.0,270.0 538.5,268.0 539.0,297.5 539.5,281.7 540.0,298.0 540.5,271.5 541.0,278.0 541.5,265.1 542.0,270.1 542.5,270.6 543.0,256.7 543.5,282.1 544.0,291.1 544.5,269.8 545.0,261.5 545.5,255.3 546.0,261.6 546.5,275.9 547.0,254.8 547.5,253.2 548.0,272.2 548.5,257.7 549.0,259.2 549.5,268.2 550.0,270.7 550.5,237.3 551.0,252.4 551.5,272.9 552.0,273.9 552.5,259.5 553.0,255.0 553.5,248.5 554.0,257.3 554.5,251.5 555.0,264.3 555.5,267.7 556.0,246.5 556.5,254.2 557.0,256.7 557.5,260.8 558.0,247.3 558.5,238.5 559.0,244.3 559.5,233.6 560.0,235.3 560.5,243.1 561.0,219.4 561.5,238.2 562.0,266.1 562.5,229.2 563.0,238.7 563.5,261.2 564.0,261.5 564.5,256.7 565.0,231.7 565.5,227.2 566.0,258.7 566.5,276.5 567.0,231.1 567.5,245.6 568.0,241.3 568.5,254.6 569.0,263.6 569.5,277.9 570.0,268.6 570.5,257.9 571.0,265.1 571.5,256.1 572.0,256.0 572.5,276.6 573.0,264.5 573.5,257.0 574.0,259.8 574.5,259.0 575.0,238.2 575.5,241.4 576.0,262.8 576.5,261.8 577.0,250.5 577.5,264.8 578.0,277.4 578.5,241.9 579.0,268.5 579.5,275.6 580.0,259.3 580.5,246.6 581.0,253.0 581.5,274.6 582.0,281.8 582.5,260.4 583.0,257.5 583.5,258.4 584.0,262.3 584.5,266.6 585.0,280.9 585.5,261.5 586.0,263.4 586.5,270.8 587.0,276.7 587.5,261.4 588.0,255.1 588.5,265.4 589.0,266.3 589.5,269.2 590.0,271.1 590.5,279.4 591.0,280.8 591.5,271.7 592.0,276.7 592.5,279.3 593.0,289.8 593.5,298.1 594.0,300.0 594.5,305.7 595.0,294.3 595.5,298.1 596.0,289.7 596.5,308.4 597.0,282.7 597.5,298.3 598.0,292.5 598.5,296.4 599.0,296.7 599.5,288.2 600.0,305.3 600.5,297.1 601.0,297.6 601.5,294.1 602.0,301.6 602.5,287.2 603.0,288.4 603.5,290.0 604.0,298.0 604.5,294.6 605.0,287.2 605.5,297.0 606.0,291.7 606.5,279.8 607.0,296.6 607.5,285.0 608.0,288.3 608.5,279.7 609.0,278.8 609.5,276.3 610.0,269.7 610.5,275.9 611.0,270.0 611.5,271.2 612.0,270.5 612.5,267.9 613.0,269.7 613.5,265.5 614.0,273.3 614.5,260.8 615.0,261.5 615.5,265.1 616.0,254.9 616.5,262.5 617.0,270.6 617.5,267.7 618.0,270.7 618.5,264.6 619.0,260.9 619.5,270.1 620.0,261.8 620.5,261.8 621.0,265.8 621.5,262.6 622.0,264.2 622.5,274.7 623.0,277.5 623.5,290.8 624.0,277.9 624.5,282.1 625.0,275.6 625.5,277.6 626.0,280.0 626.5,269.9 627.0,256.9 627.5,267.8 628.0,278.7 628.5,267.6 629.0,276.9 629.5,270.8 630.0,266.2 630.5,276.2 631.0,266.9 631.5,259.4 632.0,272.7 632.5,272.0 633.0,274.8 633.5,261.4 634.0,264.1 634.5,279.9 635.0,266.7 635.5,273.4 636.0,281.8 636.5,291.0 637.0,282.5 637.5,274.9 638.0,286.7 638.5,279.2 639.0,286.2 639.5,291.0 640.0,278.3 640.5,282.2 641.0,283.9 641.5,283.0 642.0,286.3 642.5,291.7 643.0,280.1 643.5,280.0 644.0,290.1 644.5,281.8 645.0,284.9 645.5,273.3 646.0,285.7 646.5,286.9 647.0,284.0 647.5,278.5 648.0,288.9 648.5,290.0 649.0,283.5 649.5,280.6 650.0,289.4 650.5,293.2 651.0,294.3 651.5,298.7 652.0,301.6 652.5,307.0 653.0,300.3 653.5,291.0 654.0,293.2 654.5,301.1 655.0,277.1 655.5,289.6 656.0,293.0 656.5,290.7 657.0,290.8 657.5,291.7 658.0,296.6 658.5,311.9 659.0,325.3 659.5,322.4 660.0,325.3 660.5,337.8 661.0,333.2 661.5,336.6 662.0,319.4 662.5,310.8 663.0,307.1 663.5,294.9 664.0,285.5 664.5,283.5 665.0,286.9 665.5,271.0 666.0,279.7 666.5,279.3 667.0,298.4 667.5,286.0 668.0,293.0 668.5,293.3 669.0,299.8" fill="none" stroke="#b474ff" stroke-width="1.9" stroke-linejoin="round" clip-path="url(#cf)"/>
<polyline points="493.0,333.0 493.5,331.6 494.0,329.5 494.5,329.6 495.0,330.3 495.5,328.6 496.0,325.6 496.5,325.6 497.0,325.9 497.5,326.3 498.0,326.3 498.5,324.4 499.0,327.7 499.5,327.3 500.0,325.0 500.5,323.9 501.0,322.6 501.5,323.1 502.0,326.1 502.5,323.8 503.0,320.7 503.5,322.0 504.0,324.7 504.5,326.2 505.0,329.6 505.5,328.0 506.0,325.6 506.5,324.5 507.0,320.9 507.5,320.6 508.0,322.7 508.5,323.5 509.0,323.4 509.5,320.4 510.0,320.8 510.5,323.9 511.0,328.0 511.5,328.1 512.0,326.0 512.5,323.0 513.0,322.6 513.5,325.0 514.0,325.9 514.5,326.2 515.0,324.8 515.5,323.6 516.0,321.7 516.5,322.1 517.0,323.8 517.5,322.9 518.0,322.6 518.5,324.6 519.0,325.3 519.5,327.3 520.0,327.5 520.5,323.8 521.0,324.0 521.5,323.3 522.0,322.5 522.5,320.6 523.0,319.4 523.5,317.6 524.0,317.0 524.5,318.8 525.0,318.2 525.5,317.7 526.0,319.3 526.5,321.7 527.0,322.8 527.5,319.5 528.0,315.8 528.5,316.6 529.0,319.2 529.5,318.2 530.0,317.8 530.5,316.6 531.0,315.0 531.5,313.8 532.0,315.0 532.5,312.6 533.0,310.1 533.5,308.5 534.0,307.5 534.5,309.4 535.0,311.2 535.5,310.8 536.0,307.5 536.5,304.2 537.0,301.6 537.5,298.6 538.0,297.1 538.5,296.8 539.0,297.7 539.5,299.0 540.0,298.4 540.5,296.1 541.0,292.1 541.5,287.5 542.0,281.5 542.5,278.1 543.0,279.0 543.5,277.1 544.0,276.7 544.5,276.5 545.0,274.9 545.5,274.1 546.0,275.1 546.5,276.0 547.0,272.4 547.5,268.3 548.0,265.4 548.5,264.2 549.0,262.8 549.5,263.3 550.0,262.0 550.5,260.5 551.0,256.2 551.5,250.7 552.0,250.7 552.5,250.8 553.0,250.2 553.5,251.0 554.0,248.0 554.5,244.2 555.0,242.0 555.5,244.0 556.0,246.5 556.5,246.2 557.0,242.4 557.5,241.9 558.0,241.4 558.5,240.4 559.0,239.7 559.5,237.7 560.0,234.1 560.5,231.8 561.0,231.8 561.5,230.1 562.0,225.1 562.5,223.0 563.0,223.4 563.5,220.1 564.0,221.7 564.5,221.9 565.0,221.4 565.5,222.8 566.0,223.9 566.5,225.2 567.0,228.9 567.5,231.9 568.0,233.0 568.5,233.6 569.0,235.0 569.5,237.9 570.0,240.7 570.5,240.2 571.0,238.5 571.5,241.2 572.0,245.1 572.5,244.2 573.0,242.5 573.5,242.6 574.0,245.9 574.5,247.6 575.0,250.1 575.5,250.5 576.0,248.0 576.5,249.5 577.0,252.9 577.5,257.2 578.0,258.1 578.5,257.6 579.0,257.8 579.5,259.2 580.0,260.3 580.5,261.7 581.0,262.9 581.5,266.4 582.0,268.9 582.5,270.3 583.0,272.0 583.5,272.2 584.0,271.8 584.5,272.6 585.0,274.0 585.5,275.9 586.0,278.9 586.5,281.9 587.0,284.5 587.5,284.0 588.0,284.0 588.5,286.5 589.0,288.3 589.5,289.2 590.0,291.4 590.5,292.0 591.0,292.7 591.5,294.8 592.0,295.2 592.5,297.9 593.0,302.1 593.5,304.8 594.0,305.5 594.5,305.5 595.0,305.4 595.5,306.1 596.0,308.8 596.5,311.6 597.0,312.5 597.5,312.6 598.0,312.8 598.5,313.2 599.0,313.4 599.5,313.6 600.0,313.8 600.5,314.3 601.0,314.9 601.5,316.9 602.0,319.0 602.5,319.3 603.0,318.9 603.5,318.2 604.0,318.9 604.5,319.6 605.0,320.5 605.5,322.3 606.0,322.8 606.5,323.8 607.0,323.8 607.5,323.5 608.0,324.3 608.5,324.8 609.0,325.1 609.5,325.7 610.0,325.4 610.5,323.9 611.0,323.1 611.5,323.9 612.0,324.2 612.5,324.9 613.0,326.7 613.5,326.9 614.0,325.5 614.5,326.2 615.0,327.2 615.5,326.7 616.0,326.2 616.5,326.2 617.0,327.4 617.5,327.0 618.0,326.3 618.5,327.3 619.0,327.4 619.5,327.8 620.0,329.5 620.5,330.2 621.0,329.9 621.5,329.1 622.0,327.6 622.5,326.7 623.0,328.4 623.5,328.7 624.0,328.3 624.5,328.4 625.0,327.8 625.5,328.3 626.0,327.5 626.5,327.2 627.0,327.7 627.5,328.1 628.0,327.4 628.5,327.8 629.0,327.3 629.5,328.2 630.0,329.4 630.5,328.5 631.0,328.4 631.5,328.7 632.0,328.9 632.5,329.1 633.0,328.7 633.5,330.0 634.0,332.5 634.5,331.8 635.0,330.3 635.5,330.4 636.0,331.1 636.5,332.3 637.0,332.5 637.5,331.9 638.0,330.4 638.5,330.5 639.0,331.5 639.5,331.7 640.0,332.0 640.5,332.5 641.0,332.1 641.5,331.1 642.0,330.3 642.5,330.7 643.0,331.3 643.5,331.6 644.0,332.4 644.5,331.9 645.0,331.2 645.5,331.4 646.0,332.0 646.5,332.1 647.0,331.7 647.5,329.1 648.0,327.7 648.5,328.2 649.0,329.4 649.5,329.4 650.0,328.3 650.5,327.0 651.0,326.3 651.5,326.9 652.0,327.0 652.5,326.7 653.0,325.9 653.5,325.2 654.0,326.6 654.5,327.0 655.0,325.7 655.5,324.7 656.0,323.4 656.5,323.2 657.0,323.3 657.5,322.6 658.0,322.2 658.5,321.2 659.0,321.3 659.5,320.3 660.0,321.8 660.5,323.9 661.0,327.2 661.5,328.6 662.0,328.2 662.5,327.8 663.0,328.3 663.5,330.1 664.0,330.5 664.5,329.3 665.0,329.1 665.5,331.3 666.0,332.8 666.5,332.7 667.0,333.3 667.5,334.2 668.0,335.1 668.5,335.0 669.0,335.4" fill="none" stroke="#ffb1d9" stroke-width="1.8" stroke-linejoin="round" clip-path="url(#cf)"/>
<rect x="32.20" y="207.00" width="177.50" height="142.70" fill="none" stroke="#000" stroke-width="1.3"/>
<line x1="32.15" y1="349.70" x2="32.15" y2="351.30" stroke="#000" stroke-width="1.0"/>
<line x1="45.80" y1="349.70" x2="45.80" y2="352.30" stroke="#000" stroke-width="1.0"/>
<text x="45.80" y="363.50" font-size="10.5" text-anchor="middle" >500</text>
<line x1="59.45" y1="349.70" x2="59.45" y2="351.30" stroke="#000" stroke-width="1.0"/>
<line x1="73.10" y1="349.70" x2="73.10" y2="352.30" stroke="#000" stroke-width="1.0"/>
<text x="73.10" y="363.50" font-size="10.5" text-anchor="middle" >550</text>
<line x1="86.75" y1="349.70" x2="86.75" y2="351.30" stroke="#000" stroke-width="1.0"/>
<line x1="100.40" y1="349.70" x2="100.40" y2="352.30" stroke="#000" stroke-width="1.0"/>
<text x="100.40" y="363.50" font-size="10.5" text-anchor="middle" >600</text>
<line x1="114.05" y1="349.70" x2="114.05" y2="351.30" stroke="#000" stroke-width="1.0"/>
<line x1="127.70" y1="349.70" x2="127.70" y2="352.30" stroke="#000" stroke-width="1.0"/>
<text x="127.70" y="363.50" font-size="10.5" text-anchor="middle" >650</text>
<line x1="141.35" y1="349.70" x2="141.35" y2="351.30" stroke="#000" stroke-width="1.0"/>
<line x1="155.00" y1="349.70" x2="155.00" y2="352.30" stroke="#000" stroke-width="1.0"/>
<text x="155.00" y="363.50" font-size="10.5" text-anchor="middle" >700</text>
<line x1="168.65" y1="349.70" x2="168.65" y2="351.30" stroke="#000" stroke-width="1.0"/>
<line x1="182.30" y1="349.70" x2="182.30" y2="352.30" stroke="#000" stroke-width="1.0"/>
<text x="182.30" y="363.50" font-size="10.5" text-anchor="middle" >750</text>
<line x1="195.95" y1="349.70" x2="195.95" y2="351.30" stroke="#000" stroke-width="1.0"/>
<line x1="209.60" y1="349.70" x2="209.60" y2="352.30" stroke="#000" stroke-width="1.0"/>
<text x="209.60" y="363.50" font-size="10.5" text-anchor="middle" >800</text>
<line x1="29.20" y1="338.40" x2="32.20" y2="338.40" stroke="#000" stroke-width="1.0"/>
<text x="27.60" y="342.10" font-size="10.4" text-anchor="end" >0.0</text>
<line x1="30.60" y1="326.50" x2="32.20" y2="326.50" stroke="#000" stroke-width="1.0"/>
<line x1="29.20" y1="314.60" x2="32.20" y2="314.60" stroke="#000" stroke-width="1.0"/>
<text x="27.60" y="318.30" font-size="10.4" text-anchor="end" >0.2</text>
<line x1="30.60" y1="302.70" x2="32.20" y2="302.70" stroke="#000" stroke-width="1.0"/>
<line x1="29.20" y1="290.80" x2="32.20" y2="290.80" stroke="#000" stroke-width="1.0"/>
<text x="27.60" y="294.50" font-size="10.4" text-anchor="end" >0.4</text>
<line x1="30.60" y1="278.90" x2="32.20" y2="278.90" stroke="#000" stroke-width="1.0"/>
<line x1="29.20" y1="267.00" x2="32.20" y2="267.00" stroke="#000" stroke-width="1.0"/>
<text x="27.60" y="270.70" font-size="10.4" text-anchor="end" >0.6</text>
<line x1="30.60" y1="255.10" x2="32.20" y2="255.10" stroke="#000" stroke-width="1.0"/>
<line x1="29.20" y1="243.20" x2="32.20" y2="243.20" stroke="#000" stroke-width="1.0"/>
<text x="27.60" y="246.90" font-size="10.4" text-anchor="end" >0.8</text>
<line x1="30.60" y1="231.30" x2="32.20" y2="231.30" stroke="#000" stroke-width="1.0"/>
<line x1="29.20" y1="219.40" x2="32.20" y2="219.40" stroke="#000" stroke-width="1.0"/>
<text x="27.60" y="223.10" font-size="10.4" text-anchor="end" >1.0</text>
<text x="121.35" y="377.40" font-size="13.5" text-anchor="middle" >Wavelength (nm)</text>
<text x="0.00" y="0.00" font-size="13.3" text-anchor="middle" transform="translate(10.00,274.8) rotate(-90)">norm. EADS</text>
<text x="11.80" y="209.30" font-size="31.5" text-anchor="start" font-family="Liberation Serif">d</text>
<line x1="91.10" y1="318.40" x2="113.40" y2="318.40" stroke="#abd5fa" stroke-width="1.4"/>
<text x="115.70" y="321.70" font-size="9.4" text-anchor="start" >6.40 ps</text>
<line x1="91.10" y1="330.10" x2="113.40" y2="330.10" stroke="#b474ff" stroke-width="2.2"/>
<text x="115.70" y="333.40" font-size="9.4" text-anchor="start" >182.2 ps</text>
<line x1="91.10" y1="341.50" x2="113.40" y2="341.50" stroke="#ffb1d9" stroke-width="1.4"/>
<text x="115.70" y="344.80" font-size="9.4" text-anchor="start" >&gt;3.0 ns</text>
<rect x="263.20" y="207.00" width="177.20" height="143.00" fill="none" stroke="#000" stroke-width="1.3"/>
<line x1="263.38" y1="350.00" x2="263.38" y2="351.60" stroke="#000" stroke-width="1.0"/>
<line x1="277.00" y1="350.00" x2="277.00" y2="352.60" stroke="#000" stroke-width="1.0"/>
<text x="277.00" y="363.50" font-size="10.5" text-anchor="middle" >500</text>
<line x1="290.62" y1="350.00" x2="290.62" y2="351.60" stroke="#000" stroke-width="1.0"/>
<line x1="304.23" y1="350.00" x2="304.23" y2="352.60" stroke="#000" stroke-width="1.0"/>
<text x="304.23" y="363.50" font-size="10.5" text-anchor="middle" >550</text>
<line x1="317.85" y1="350.00" x2="317.85" y2="351.60" stroke="#000" stroke-width="1.0"/>
<line x1="331.46" y1="350.00" x2="331.46" y2="352.60" stroke="#000" stroke-width="1.0"/>
<text x="331.46" y="363.50" font-size="10.5" text-anchor="middle" >600</text>
<line x1="345.07" y1="350.00" x2="345.07" y2="351.60" stroke="#000" stroke-width="1.0"/>
<line x1="358.69" y1="350.00" x2="358.69" y2="352.60" stroke="#000" stroke-width="1.0"/>
<text x="358.69" y="363.50" font-size="10.5" text-anchor="middle" >650</text>
<line x1="372.31" y1="350.00" x2="372.31" y2="351.60" stroke="#000" stroke-width="1.0"/>
<line x1="385.92" y1="350.00" x2="385.92" y2="352.60" stroke="#000" stroke-width="1.0"/>
<text x="385.92" y="363.50" font-size="10.5" text-anchor="middle" >700</text>
<line x1="399.53" y1="350.00" x2="399.53" y2="351.60" stroke="#000" stroke-width="1.0"/>
<line x1="413.15" y1="350.00" x2="413.15" y2="352.60" stroke="#000" stroke-width="1.0"/>
<text x="413.15" y="363.50" font-size="10.5" text-anchor="middle" >750</text>
<line x1="426.76" y1="350.00" x2="426.76" y2="351.60" stroke="#000" stroke-width="1.0"/>
<line x1="440.38" y1="350.00" x2="440.38" y2="352.60" stroke="#000" stroke-width="1.0"/>
<text x="440.38" y="363.50" font-size="10.5" text-anchor="middle" >800</text>
<line x1="261.60" y1="350.30" x2="263.20" y2="350.30" stroke="#000" stroke-width="1.0"/>
<line x1="260.20" y1="338.40" x2="263.20" y2="338.40" stroke="#000" stroke-width="1.0"/>
<text x="258.60" y="342.10" font-size="10.4" text-anchor="end" >0.0</text>
<line x1="261.60" y1="326.50" x2="263.20" y2="326.50" stroke="#000" stroke-width="1.0"/>
<line x1="260.20" y1="314.60" x2="263.20" y2="314.60" stroke="#000" stroke-width="1.0"/>
<text x="258.60" y="318.30" font-size="10.4" text-anchor="end" >0.2</text>
<line x1="261.60" y1="302.70" x2="263.20" y2="302.70" stroke="#000" stroke-width="1.0"/>
<line x1="260.20" y1="290.80" x2="263.20" y2="290.80" stroke="#000" stroke-width="1.0"/>
<text x="258.60" y="294.50" font-size="10.4" text-anchor="end" >0.4</text>
<line x1="261.60" y1="278.90" x2="263.20" y2="278.90" stroke="#000" stroke-width="1.0"/>
<line x1="260.20" y1="267.00" x2="263.20" y2="267.00" stroke="#000" stroke-width="1.0"/>
<text x="258.60" y="270.70" font-size="10.4" text-anchor="end" >0.6</text>
<line x1="261.60" y1="255.10" x2="263.20" y2="255.10" stroke="#000" stroke-width="1.0"/>
<line x1="260.20" y1="243.20" x2="263.20" y2="243.20" stroke="#000" stroke-width="1.0"/>
<text x="258.60" y="246.90" font-size="10.4" text-anchor="end" >0.8</text>
<line x1="261.60" y1="231.30" x2="263.20" y2="231.30" stroke="#000" stroke-width="1.0"/>
<line x1="260.20" y1="219.40" x2="263.20" y2="219.40" stroke="#000" stroke-width="1.0"/>
<text x="258.60" y="223.10" font-size="10.4" text-anchor="end" >1.0</text>
<text x="352.20" y="377.40" font-size="13.5" text-anchor="middle" >Wavelength (nm)</text>
<text x="0.00" y="0.00" font-size="13.3" text-anchor="middle" transform="translate(240.10,274.8) rotate(-90)">norm. EADS</text>
<text x="245.00" y="209.30" font-size="31.5" text-anchor="start" font-family="Liberation Serif">e</text>
<line x1="286.20" y1="315.50" x2="308.20" y2="315.50" stroke="#abd5fa" stroke-width="1.8"/>
<text x="310.20" y="318.80" font-size="9.4" text-anchor="start" >20.6 ps</text>
<line x1="286.20" y1="327.00" x2="308.20" y2="327.00" stroke="#b474ff" stroke-width="1.9"/>
<text x="310.20" y="330.30" font-size="9.4" text-anchor="start" >297 ps</text>
<line x1="286.20" y1="338.40" x2="308.20" y2="338.40" stroke="#ffb1d9" stroke-width="1.8"/>
<text x="310.20" y="341.70" font-size="9.4" text-anchor="start" >&gt;3.0 ns</text>
<rect x="492.80" y="207.20" width="177.00" height="142.50" fill="none" stroke="#000" stroke-width="1.3"/>
<line x1="492.94" y1="349.70" x2="492.94" y2="352.30" stroke="#000" stroke-width="1.0"/>
<text x="492.94" y="363.50" font-size="10.5" text-anchor="middle" >450</text>
<line x1="505.57" y1="349.70" x2="505.57" y2="351.30" stroke="#000" stroke-width="1.0"/>
<line x1="518.20" y1="349.70" x2="518.20" y2="352.30" stroke="#000" stroke-width="1.0"/>
<text x="518.20" y="363.50" font-size="10.5" text-anchor="middle" >500</text>
<line x1="530.83" y1="349.70" x2="530.83" y2="351.30" stroke="#000" stroke-width="1.0"/>
<line x1="543.46" y1="349.70" x2="543.46" y2="352.30" stroke="#000" stroke-width="1.0"/>
<text x="543.46" y="363.50" font-size="10.5" text-anchor="middle" >550</text>
<line x1="556.09" y1="349.70" x2="556.09" y2="351.30" stroke="#000" stroke-width="1.0"/>
<line x1="568.72" y1="349.70" x2="568.72" y2="352.30" stroke="#000" stroke-width="1.0"/>
<text x="568.72" y="363.50" font-size="10.5" text-anchor="middle" >600</text>
<line x1="581.35" y1="349.70" x2="581.35" y2="351.30" stroke="#000" stroke-width="1.0"/>
<line x1="593.98" y1="349.70" x2="593.98" y2="352.30" stroke="#000" stroke-width="1.0"/>
<text x="593.98" y="363.50" font-size="10.5" text-anchor="middle" >650</text>
<line x1="606.61" y1="349.70" x2="606.61" y2="351.30" stroke="#000" stroke-width="1.0"/>
<line x1="619.24" y1="349.70" x2="619.24" y2="352.30" stroke="#000" stroke-width="1.0"/>
<text x="619.24" y="363.50" font-size="10.5" text-anchor="middle" >700</text>
<line x1="631.87" y1="349.70" x2="631.87" y2="351.30" stroke="#000" stroke-width="1.0"/>
<line x1="644.50" y1="349.70" x2="644.50" y2="352.30" stroke="#000" stroke-width="1.0"/>
<text x="644.50" y="363.50" font-size="10.5" text-anchor="middle" >750</text>
<line x1="657.13" y1="349.70" x2="657.13" y2="351.30" stroke="#000" stroke-width="1.0"/>
<line x1="669.76" y1="349.70" x2="669.76" y2="352.30" stroke="#000" stroke-width="1.0"/>
<text x="669.76" y="363.50" font-size="10.5" text-anchor="middle" >800</text>
<line x1="489.80" y1="338.40" x2="492.80" y2="338.40" stroke="#000" stroke-width="1.0"/>
<text x="488.00" y="342.10" font-size="10.4" text-anchor="end" >0.0</text>
<line x1="491.20" y1="326.50" x2="492.80" y2="326.50" stroke="#000" stroke-width="1.0"/>
<line x1="489.80" y1="314.60" x2="492.80" y2="314.60" stroke="#000" stroke-width="1.0"/>
<text x="488.00" y="318.30" font-size="10.4" text-anchor="end" >0.2</text>
<line x1="491.20" y1="302.70" x2="492.80" y2="302.70" stroke="#000" stroke-width="1.0"/>
<line x1="489.80" y1="290.80" x2="492.80" y2="290.80" stroke="#000" stroke-width="1.0"/>
<text x="488.00" y="294.50" font-size="10.4" text-anchor="end" >0.4</text>
<line x1="491.20" y1="278.90" x2="492.80" y2="278.90" stroke="#000" stroke-width="1.0"/>
<line x1="489.80" y1="267.00" x2="492.80" y2="267.00" stroke="#000" stroke-width="1.0"/>
<text x="488.00" y="270.70" font-size="10.4" text-anchor="end" >0.6</text>
<line x1="491.20" y1="255.10" x2="492.80" y2="255.10" stroke="#000" stroke-width="1.0"/>
<line x1="489.80" y1="243.20" x2="492.80" y2="243.20" stroke="#000" stroke-width="1.0"/>
<text x="488.00" y="246.90" font-size="10.4" text-anchor="end" >0.8</text>
<line x1="491.20" y1="231.30" x2="492.80" y2="231.30" stroke="#000" stroke-width="1.0"/>
<line x1="489.80" y1="219.40" x2="492.80" y2="219.40" stroke="#000" stroke-width="1.0"/>
<text x="488.00" y="223.10" font-size="10.4" text-anchor="end" >1.0</text>
<text x="581.70" y="377.40" font-size="13.5" text-anchor="middle" >Wavelength (nm)</text>
<text x="0.00" y="0.00" font-size="13.3" text-anchor="middle" transform="translate(470.20,274.8) rotate(-90)">norm. EADS</text>
<text x="481.20" y="209.30" font-size="31.5" text-anchor="start" font-family="Liberation Serif">f</text>
<line x1="575.00" y1="213.80" x2="596.90" y2="213.80" stroke="#abd5fa" stroke-width="1.8"/>
<text x="599.90" y="217.10" font-size="9.4" text-anchor="start" >0.40 ps</text>
<line x1="575.00" y1="225.30" x2="596.90" y2="225.30" stroke="#b474ff" stroke-width="1.9"/>
<text x="599.90" y="228.60" font-size="9.4" text-anchor="start" >13.41 ps</text>
<line x1="575.00" y1="236.70" x2="596.90" y2="236.70" stroke="#ffb1d9" stroke-width="1.8"/>
<text x="599.90" y="240.00" font-size="9.4" text-anchor="start" >&gt;3.0 ns</text>
</svg>
<script>
(function(){
var C=[[0.0,70,0,150],[0.08,40,0,130],[0.16,10,0,120],[0.22,0,0,170],[0.286,0,15,240],[0.321,8,45,205],[0.357,14,80,150],[0.393,16,110,105],[0.429,16,130,80],[0.464,16,155,50],[0.5,20,175,30],[0.57,60,195,10],[0.64,170,225,0],[0.7,255,240,0],[0.78,255,175,0],[0.86,255,100,0],[0.93,255,45,0],[1.0,255,0,0]];
function col(t){for(var i=1;i<C.length;i++){if(t<=C[i][0]||i==C.length-1){var a=C[i-1],b=C[i];var f=(t-a[0])/(b[0]-a[0]);if(f<0)f=0;if(f>1)f=1;return [a[1]+(b[1]-a[1])*f,a[2]+(b[2]-a[2])*f,a[3]+(b[3]-a[3])*f];}}}
var A="#$%&'()*+,-./0123456789:;=>?@ABCDEFGHIJKLMNOPQRSTUVWXYZ[]^_`abcdefghijklmnopqrstuvwxyz{|}~";var N=A.length;var M={};for(var i=0;i<N;i++)M[A.charAt(i)]=i;
var D={"a":"BOB5AkAA@w@V@7?y?e?T?G?:?/?#>u>m>g>b>]>X>S>O>K>I>H>H>H>H>H>H>H>H>I>J>L>N>P>S>U>W>Z>]>`>b>d>g>i>l>n>p>s>u>y>~?)?1?9?B?K?S?[?d?l?t?}@)@1@9@B@J@S@[@d@m@vA#A,A6A@AIARA]AfAoAxB&B/B9BFBRB`BnB{C,C:CHCUCdCoCxD&D0D:DGDTDoE1E.E)E9EbF?FHE~EnF'FDF5F,F=FiGMGrGVF{F[FhF}FgF[G#GBG#FWFUFzG7FnF@F9FRFJEwEFDbCfBRAF@eBVB;AqAG@|@Z@;?}?h?W?K???2?&>x>p>j>e>`>Z>V>Q>N>K>J>J>J>J>J>J>J>J>K>L>N>P>S>U>W>Z>]>`>b>e>g>i>l>n>q>s>v>x>|?%?,?4?=?E?N?V?_?g?o?x@$@,@4@=@F@N@V@_@h@q@zA'A0A9ADAMAVA`AjAsA|B)B3B>BIBVBdBqC#C0C>CLCYCgCrC|D)D3D?DJDXDsE5E2E-E>EgFEFNF'EsF,FJF;F1FCFpGVG|G`G&FbFoG)FnFbG*GJG*F^F]G%G@FvFGFAFYFQE~ELDgCiBTAG@eBaBFAzAOA(@b@C@'?n?^?P?D?7?+>}>t>n>i>d>_>Y>U>Q>O>N>N>N>N>N>N>N>N>N>P>Q>T>V>Y>[>_>a>d>f>i>k>n>p>r>u>w>z>}?$?*?1?9?B?J?S?[?d?l?u?}@)@1@:@C@K@S@]@e@m@vA#A,A6A@AIARA]AfAoAxB&B/B9BDBOB[BjBwC(C6CDCQC`CmCxD%D/D9DDDPD^DyE=E9E3EEEoFNFWF0E{F5FSFEF:FMF{GcH-GmG2FmFzG5FyFmG6GWG6FiFhG1GMG&FRFKFeF^F,EUDnCnBWAH@fBmBRB(AXA1@j@J@.?t?d?V?I?=?0?&>y>s>m>h>d>_>Y>U>S>R>Q>Q>Q>Q>Q>Q>R>R>S>U>X>Z>^>`>c>e>h>j>m>p>r>u>w>z>|?#?&?*?/?6???G?P?X?a?j?r?z@'@/@7@A@I@Q@Y@c@k@t@}A*A3A=AFAPAYAcAlAvB#B,B5B@BJBUBcBpB}C/C=CJCXCfCsC~D+D5D@DKDVDeE%EEEAE;ELEwFXFcF9F(F@F_FOFFFXG+GqH=G{G@FyG+GCG*FyGDGeGDFuFtG?GZG3F_FWFrFjF8EaDwCtBZAI@fByB^B3AcA9@r@R@5?{?j?]?O?C?6?+>~>x>r>m>h>c>^>Y>W>V>U>U>U>U>U>U>U>V>W>Y>]>_>b>e>g>j>l>o>r>t>w>y>|?#?%?(?+?/?4?;?D?M?U?^?g?o?x@$@,@5@>@G@O@W@a@i@r@zA'A0A9ACAMAVA`AiAsA|B)B2B=BFBPB]BiBvC(C5CCCQC_ClCzD)D2D;DFDQD^DlE,EMEIECETF$FcFmFDF1FIFjFZFPFdG7H#HLH.GMG*G7GPG6G)GQGsGQG%G$GLGiGAFkFdG#FwFEEkE$C{B_AJ@fC)BiB>AmAC@z@Y@=@%?p?c?U?H?;?0?'>}>w>r>l>g>b>^>[>Y>Y>Y>Y>Y>Y>Y>Y>Z>[>^>a>c>f>i>k>n>q>s>v>y>{>~?%?'?*?-?0?4?9?A?J?R?Z?d?l?u?}@*@2@;@D@M@U@^@g@o@xA$A-A6AAAJASA]AgApAyB&B0B9BCBMBWBcBpB}C.C;CJCWCeCsD$D/D8DBDLDWDdDrE3ETEQEKE]F,FmFwFMF;FSFtFeF[FoGEH1H[H=GZG6GEG^GDG6G_H%G_G1G0GYGwGNFwFqG0G(FPEvE,D%BbAL@gC5BuBIAvALA&@b@D@,?w?i?[?N?B?6?,?%>|>v>q>k>f>b>`>^>^>^>^>^>^>^>^>_>`>b>e>h>j>m>p>r>u>x>{>}?$?'?*?,?/?2?5?9?@?G?O?W?a?i?r?z@'@/@8@B@J@S@[@e@m@v@~A+A4A>AGAPAZAdAmAvB$B-B6B@BJBSB^BjBvC'C4CCCPC^ClCyD+D5D?DHDSD_DjDyE:E]EXEREeF5FwG&FWFEF^G#FpFfFzGQH@HkHKGhGCGQGkGPGCGmH3GlG?G=GgH)G[G'F}G>G5F]F%E5D+BeAM@gCBC$BTB%AUA/@j@K@3?}?o?b?T?G?;?2?+?%>{>v>p>k>g>d>c>b>b>b>b>b>b>b>c>d>g>i>l>o>r>t>w>z>}?$?&?)?,?/?2?4?7?:???E?L?U?^?g?o?x@$@-@5@?@H@P@Y@b@k@s@|A(A1A:ADAMAWAaAjAsA}B*B3B=BGBPBYBeBpB|C-C;CICVCeCrD$D1D=DEDODYDeDqE$EBEeEaEYElF?G%G0FaFNFhG.F{FqG)G^HNHzHZGuGPG_GxG^GPGzHBGzGKGJGuH7GjG4G-GKGCFiF/E?D1BiAN@gCPC2BaB1AbA9@s@T@;@)?w?i?[?N?C?8?1?+?%>|>v>q>l>i>h>h>h>h>h>h>h>h>i>j>l>o>r>u>w>z>}?$?'?*?-?/?2?5?8?;???B?F?L?S?[?e?m?v?~@+@3@=@E@N@V@`@i@q@zA&A/A7AAAJATA^AgApAyB'B0B9BCBMBVB`BjBvC&C3CBCOC]CkCxD*D7DCDLDUD`DkDxE+EJEmEiEbEtFHG0G;FlFXFsG:G*F|G5GkH^I.HjH'G^GmH+GlG^H,HQH,GXGWH'HGGxGBG:GYGQFvF;EID9BmAP@hCbCDBqBAApAGA#@`@F@3@$?r?e?W?K?B?9?3?-?(>~>y>t>q>p>p>p>p>p>p>p>p>p>r>t>w>z>|?#?&?)?,?/?2?5?7?:?>?A?D?G?J?N?T?[?d?m?u?}@*@2@;@D@M@U@^@g@o@xA$A-A5A?AGAPAZAdAmAvB#B,B5B?BIBRB[BeBoB{C+C8CGCTCcCpC~D/D>DIDQD[DfDrD~E2EREvEqEkE}FRG;GHFwFdG#GGG6G,GCGzHnI@H{H6GlG|H:G{GlH;HbH;GhGfH6HWH+GPGJGiGaG(FIETDBBsAS@jCwCXC)BSB%AWA2@m@S@@@0?~?p?c?V?L?D?>?7?2?,?&>~>{>z>y>y>y>y>y>y>z>z>|>~?%?(?*?-?0?3?6?9?=?@?C?E?H?K?N?Q?T?X?_?f?n?v?~@*@3@;@D@L@U@^@f@n@vA#A+A3A;AEAMAVA`AiArA{B(B1B:BDBMBVB`BjBtC#C0C>CLCYChCuD'D5DCDNDWDaDlDxE)E9EYE~EzEsF+F]GHGTG&FpG/GUGEG:GQH-I$ISI1HHG|H0HLH/G|HMHtHMGwGvHHHjH=GaGZGzGrG8FWEbDLBzAX@mD0CnC?BhB8AjAC@|@a@M@=@.?|?n?b?W?P?I?D?>?7?2?-?*?)?)?)?)?)?)?)?)?)?+?-?0?3?6?8?;???B?E?H?K?N?Q?S?V?Y?]?`?d?j?q?x@$@,@4@=@E@M@U@^@f@n@v@~A*A2A:ACAKASA]AfAnAwB$B-B6B@BIBRBZBdBmBwC'C3CBCPC_ClCzD,D:DIDTD]DgDrD~E/EAEbF+F'E|F4FhGUGbG3F|G=GdGSGIGaH>I6IgIEHYH1HBH^H@H1H`I*H_H,H*HYH|HNGqGkH/H'GIFgEoDWC&A]@pDHD(CTB}BMA|ASA/@o@Z@J@;@,?z?n?d?[?U?O?I?D?>?9?6?4?4?4?4?4?4?4?4?5?6?9?;???B?E?H?K?N?Q?S?V?Y?]?`?c?f?i?l?p?u?|@'@/@6@?@G@N@V@_@f@n@v@}A)A1A8AAAIAQAYAbAkAtA|B)B2B;BDBMBVB_BhBqB{C*C7CFCTCcCqD#D1D@DNDYDcDlDxE(E6EHEjF4F0F*F?FsGbGoG@G,GJGrGbGWGpHOIIIzIWHlHCHSHpHQHBHqI=HqH>H;HlI2HaH&G|HAH8GYFvE|DcC.Ab@sD_D?CkC6BaB2AeA?@}@i@W@H@9@+?z?p?h?b?[?U?O?J?E?B?A?A?A?A?A?A?A?A?A?C?E?H?K?N?Q?S?V?Y?]?`?c?f?i?l?n?q?t?w?{@$@+@2@9@B@I@P@X@`@h@o@v@~A)A0A8A@AHAOAWA`AhApAyB&B.B7B@BIBQBZBcBlBuC#C.C;CJCXCgCuD'D6DEDSD_DhDrD}E.E>EOErF>F9F3FIF~GoG|GMG9GXH$GpGfH#H`I[J2IkH}HSHeI%HcHSI'IPI'HNHMH~IFHrH7H0HSHKGkG*F.DnC6Ag@vDvDVD$CKBuBEAuANA0@v@e@U@F@7@*?{?s?m?g?a?[?U?Q?N?M?L?L?L?L?L?L?L?M?N?Q?S?V?Y?]?`?c?f?i?l?n?q?t?w?z?}@$@'@+@0@6@>@E@L@S@Z@b@i@p@wA#A*A1A8A@AGANAUA^AeAmAvA~B+B3B;BEBMBVB_BgBpByC&C2C@CNC]CkCzD,D:DJDXDeDnDwE'E5EDEVEzFGFCF=FRG-G{H.GYGFGfH2G~GuH2HpInJFI~I3HeHvI7HuHeI9IcI8H`H_I3IXI(HHHBHeH]G{G9F=DyC?Al@yE0DmD:CaC,BXB*A^A?A(@s@c@S@D@5@+@#?y?s?m?g?b?]?Y?X?X?X?X?X?X?X?X?Y?Z?]?`?c?f?i?l?n?q?t?w?z?}@$@'@*@,@/@3@6@;@B@I@O@V@^@e@l@r@yA$A+A2A8A@AGANAUA[AdAkAsA{B'B0B8BABIBRBZBcBkBtB|C*C5CDCRCaCpC~D1D@DOD^DjDsD}E-E;EKE_F&FPFMFFF]G8H,H;GgGRGsHAH0H'HBI%J%JYJ5IEHvI+III*HvIKIvIKHqHoIFIlI:HYHSHwHnH/GIFJE)CGAq@|EHE'DQCvCABkB:AmAMA5A$@p@`@P@B@7@/@(?~?y?s?m?i?f?e?d?d?d?d?d?d?e?e?g?i?l?n?q?t?w?z?}@$@'@*@,@/@2@5@8@;@?@C@G@M@S@Z@a@h@n@u@{A&A-A3A:AAAHANAUA[AcAjAqAyB%B-B5B>BFBNBVB_BgBoBxC$C.C9CGCVCeCtD'D5DEDTDcDoDxE'E3EBEREfF/FYFVFOFgGDH9HIGsG`H$HPH@H5HPI5J7JnJIIWI+I=I[I;I*I^J,I]I%I$IXI~ILHkHdI,I$HAGXFXE4COAvA#E_E>DgD/CUB}BLA}A[ADA1@}@m@]@N@C@:@4@.@(@#?y?u?r?p?p?p?p?p?p?p?p?q?r?t?w?z?}@$@'@*@,@/@2@5@8@;@?@B@E@G@K@N@S@X@_@e@l@r@x@~A(A/A5A;ABAIAOAUA[AcAiAoAwA~B*B2B:BCBKBSB[BdBlBtB|C(C1C>CKCZCiCxD+D:DJDYDiDtD~E,E9EHEXEmF7FcF`FXFqGOHFHVH$GlH1H_HMHDH`IFJJK%J[IiI;INImILI;IoJ?IoI6I4IjJ4I_H{HuI>I5HQGhFfE@CVA{A'EvEUD}DECjC4B^B1AkARA@A.@z@j@[@P@G@A@:@4@.@)@$?~?|?|?|?|?|?|?|?|?}?~@$@'@*@-@/@2@5@8@;@?@A@D@G@J@M@P@S@V@Y@_@d@j@o@u@{A%A+A1A7A>ADAJAPAVA]AcAiAoAuA|B'B/B7B@BHBOBWB`BhBpBxC#C,C5CACOC_CnC}D0D@DOD_DnDzE'E2E@ENE`EtF?FlFiFbFzGYHRHcH/GxH?HlH[HQHnIUJ[K7JnIyILI_I~I]IKJ$JPJ#IFIEIzJFIoI/I(INIFHaGvFrEJC_B$A*F1ElE8D[D#CHBqBCA{AbANA=A+@w@i@]@T@N@H@B@;@5@1@.@-@,@,@,@,@,@,@,@,@.@0@3@5@8@;@?@A@D@G@J@M@O@R@U@X@Z@^@a@e@i@n@s@yA#A(A.A4A9A@AFAKAQAWA^AcAiAoAtA{B%B-B4B=BEBLBTB]BdBlBtB|C'C/C9CECSCcCrD%D4DDDTDdDsE#E-E7EEEUEfE{FGFtFqFkG'GeH_HpH;H'HJHyHhH_H{IdJkKIJ~J,IYImJ0IkIYJ2JaJ2ITIRJ-JVI~I=I6I^ITHnH'F~ESCfB)A.FIF'EODrD8C^C(BUB0AsA_ALA:A)@v@k@b@[@U@O@I@C@?@;@9@9@9@8@8@8@8@8@9@:@=@?@B@E@G@J@M@O@R@U@W@Z@^@`@c@f@h@k@n@r@w@|A&A+A1A6A=ABAHAMARAXA^AdAiAoAtAzB$B*B1B9BABIBQBXBaBiBpBxC$C+C3C>CICWCgCvD*D9DIDYDiDyE)E2E>EKE[EmF&FOF}FzFsG0GnHjH{HFH1HUI(HsHiI*IqJyKXK0J9IgIyJ?IxIgJ@JoJ@IaI`J:JeJ/IJICIkIbHzH2G+E[ClB.A1FaF?EgE-DOCsC;BhBBB'AoA]AJA8A)@y@p@i@c@]@V@P@L@I@G@G@F@F@F@F@F@F@F@G@I@K@N@P@S@U@X@Z@^@`@c@e@h@j@m@o@r@u@x@|A$A)A.A4A9A?ADAIAOATAYA_AeAjAoAtAyB#B(B/B6B>BFBNBUB^BeBmBtB|C(C/C7CBCMC[CkC{D.D?DND_DoD~E/E8EDEQEbEtF-FVG)G&F{G9GxHuI*HQH;H`I3H~HtI5I}K+KgK?JFIrJ)JKJ'IrJMJ|JLIlIkJGJrJ;IUINIwInI)H=G4EdCrB2A5FxFVE~EEDfD,CPB{BTB8B$AmAYAHA7A+@~@w@q@k@e@_@Y@V@T@T@S@S@S@R@R@R@R@S@U@W@Z@]@_@b@d@f@i@k@n@p@r@u@w@y@|@~A%A)A-A2A7A=ABAGALAQAVA[AaAfAkApAuAzB#B(B-B3B:BCBJBRBYBbBjBqByC$C,C3C;CFCQC`CoD#D3DDDSDdDtE(E4E?EJEXEiEzF4F_G1G.G'GBH%I$I5H[HEHjI?I,H~I@J,K8KuKLJRI}J4JWJ3I}JYK,JXIwIvJSJ~JHIaIYJ&IzI4HGG>ElCxB7A9G3FoF9E[D}DBCeC1BgBJB4A}AjAVAFA9A0A)@~@x@r@l@g@d@b@a@a@a@`@`@`@_@`@a@b@d@f@i@k@m@o@q@t@v@x@z@|A#A%A'A)A,A.A2A6A;A@AEAJAOASAXA^AcAgAlAqAvAzB#B(B-B2B8B@BGBOBVB_BfBnBuB}C(C0C7C@CJCUCdCtD(D8DHDXDiDyE-E:EEEPE_EoF%F;FgG:G6G0GKH/I/IAHfHOHuIII6I,IKJ8KFL'KYJ_J,JAJcJ?J,JeK9JeJ&J%J`K/JTIlIeJ2J*I@HPGGEsC~B;A>GKG*FQEsE7DWCyCEBxB[BEB0AyAfATAGA>A6A0A)A#@y@t@q@o@n@n@m@m@m@l@l@l@m@n@p@r@t@v@x@z@}A#A%A'A)A+A-A/A1A3A5A8A;A@ADAIAMARAVA[A`AeAiAnArAwA{B$B(B-B2B7B>BEBLBSB[BcBkBrByC%C,C4C;CDCMCYChCxD,D=DMD^DoE#E3EAEJEVEeEuF+FCFnGCG@G8GSH8I:ILHpHYI#ITIBI6IUJDKSL4KgJjJ7JLJoJJJ7JqKGJqJ1J0JlK=JaIvIpJ?J5IJHZGPEzD(BAACGdGBFiF.ENDmD1CXC.BmBVBAB,AuAdAUALAEA>A7A1A+A%@~@|@{@{@z@z@y@y@x@x@y@z@|@~A$A&A(A*A,A-A/A1A3A5A7A9A;A>A@ABAEAIAMAQAVAZA_AcAhAlApAuAyA}B%B*B.B2B7B=BBBIBPBXB`BgBoBvB~C)C0C8C@CHCQC^CmC|D1DBDRDcDtE(E8EFEPE]EkE{F2FJFvGKGHGAG]HCIFIWHzHcI-I`ILIAIaJOKaLCKuJvJCJWJ{JVJCJ}KSJ}J=J:JxKIJmJ%I{JJJBIUHeGYF&D.BFAGG{GYG$FFEeE&DECkCAB~BgBQB;B(ArAdAZASALAEA?A8A3A/A-A,A,A+A*A*A)A)A)A)A+A,A.A0A1A3A5A7A8A:A=A?A@ABADAEAGAIAKANARAVAZA_AcAgAkAoAsAwA{B#B'B+B/B3B7B=BABGBNBUB]BdBlBsBzC&C-C4C=CDCLCUCbCqD%D5DGDWDhDyE-E?ELEVEbEqF&F8FPF}GTGPGIGeHLIQIcI(HmI7IkIVIKIkJ[KnLQL&K&JNJdK+JbJNK-KaK-JHJFK(KVJyJ0J*JVJNIaHoGbF-D3BJAKH6GqG=F]E{E;DYC~CRC3BwBbBLB6B$ArAiAaAYASALAFAAA=A:A9A8A8A7A6A6A5A5A6A7A8A:A;A>A?AAACADAFAGAIAKALANAOAQASAUAWA[A_AcAgAkAoArAvAzA~B&B*B-B1B5B9B>BBBFBLBRBYBbBiBpBwC#C*C1C9CACHCPCYCfCuD)D:DKD]DmD~E3EDERE]EhEwF,F@FWG)G]GXGQGnHVI]IoI2HvIBIuIbIUIuJgK{L`L3K2JYJoK7JmJYK9KnK9JSJQK4KcK(J;J5JcJYIlHyGkF5D9BOAOHNH,GTFtF5EQDnD4CeCEC,BrB[BFB3B$AvAoAhAaAZASANAJAHAGAFAFAEADACACABACADAEAFAHAIAKALANAOAPARASAUAVAXAYAZA]A_AaAeAhAlAoAsAvAzA~B%B)B,B0B3B7B;B?BCBGBKBPBWB_BfBmBuB|C'C.C5C>CECLCTC^CjCyD-D?DPDbDrE'E8EJEWEbEnE}F2FFF_G0GeGaGYGvH`IgIzI=I$ILJ$IlI`J$JsL,LnLAK?JeJzKDJyJeKFKzKEJ_J]KAKpK4JGJ@JnJfIvI'GtF=D@BSASHfHDGlG/FLEgE&DHCwCVC=C%BkBUBBB2B(A|AvAoAhAbA[AWAUATASARAQAQAPAOAOAOAPAQARATAUAVAWAYAZA[A]A_A`AaAcAdAeAgAhAkAmAqAtAwA{A~B%B)B,B0B3B6B:B>BABEBHBLBPBUB[BcBkBrByC$C+C2C:CBCICPCXCbCnC}D2DDDUDfDwE,E>EPE^EhEtF'F9FMFfG8GnGjGbH#HjIrJ)IGI.IVJ/IwIjJ.J~L9L|LNKJJpK)KPK(JpKRL+KQJiJhKLK}KAJRJKJzJqJ%I0G}FEDFBXAWH}H[H'GGFcE|E:D[D,ChCNC5B{BeBPBAB6B.B'A|AuAoAiAeAcAbAaA`A_A^A]A]A[A[A]A^A_A`AaAbAdAeAfAgAhAiAjAkAmAnAoApArAtAvAyA|B$B'B*B-B0B3B6B9B>BABDBGBJBMBQBUBZBaBhBoBvB}C(C/C7C?CFCMCTC]CfCrD%D6DHDYDkD}E2EDEUEdEnEzF-F@FTFmG@GvGrGjH+HsI}J4IQI7IaJ:J%ItJ9K.LGM.L[KVJ{K5K[K3J{K_L7K^JtJsKXL-KMJ^JVK*J}J0I:H)FLDLB]A[I8HtH?G^FyF5ENDnD?CyC_CFC.BsB`BOBEB=B5B.B'A|AvArApAoAnAmAlAkAjAiAiAiAiAjAkAlAmAnAoApAqArAsAtAuAvAvAwAxAyA{A}B#B&B)B,B/B2B5B7B:B>BABDBGBJBMBPBSBVBYB_BfBlBsB{C&C-C4C;CCCJCQCXCaCjCvD)D:DMD_DpE&E7EIE[EiEtF$F3FFFZFtGHG~GzGrH4H}J,J@I[IBIkJEJ/I~JDK9LTM=LjKcK*KAKhK?K*KkLEKjK#J~KeL:KYJiJbK5K-J:IEH2FTDRBbA`IQI/HVGuG4FKEdE&DQD.CpCWC?C'BnB_BSBKBDB=B4B.B(B$A}A|A{AzAyAxAwAvAuAuAuAvAwAxAxAyAzA{A|A|A}A~B#B$B$B%B&B'B(B*B,B/B1B4B7B9B=B@BBBEBHBKBMBPBSBUBXB[B_BdBjBqBxC#C*C1C8C@CGCNCUC]CeCnC{D.D@DQDdDuE+E=EOEaEoEzF*F9FMFbF{GPH+H'G{H=I*J7JKIgILIvJPJ:J-JOKFLbMKLwKoK5KMKtKKK5KwLRKvK.K-KqLHKfJtJmKBK9JFIOH;F[DWBgAdIiIGHnH1GLFcEyE:DfDBD&CiCPC7C#BoBdBZBSBKBDB=B6B2B/B.B,B+B*B)B'B&B%B%B%B&B'B'B(B)B)B*B+B+B,B-B-B.B/B/B0B1B2B3B5B8B:B>B@BCBEBHBJBMBOBQBTBVBYB[B_BbBeBjBpBvB}C(C/C6C>CECLCSCZCbCjCsD#D3DEDVDiD{E1ECEUEhEvF$F0FAFTFiG'GXH4H/H'HGI5JDJWIqIVJ$J]JFJ7JZKRLpMYM)K|KBKYL%KWKBL'L`L'K:K9K~LUKsK$JyKOKFJRIZHFFdD^BkAgJ%I`I+HJGeF{F4ERD|DXD;C~CeCLC5C%BvBmBeB]BUBMBGBBB?B=B;B9B8B6B4B3B2B1B1B2B2B3B3B4B5B5B6B6B7B7B8B8B9B9B:B;B;B>B@BBBDBGBIBKBNBPBRBUBWBYB[B_BaBcBfBhBlBpBvB}C(C/C6C>CDCKCRCYCaChCpCyD)D9DKD^DpE%E7EJE]EoE}F+F8FIF[FqG/GbH>H9H1HQIAJPJdI}IbJ0JiJRJDJgK`M#MjM8L-KOKgL3KeKOL5LoL5KHKGL0LeL%K0K*K]KTJ_IfHPFlDeBoAkJ>IyIEHeH#G8FOElE9DqDTD9C{CcCLC:C.C%BxBpBhB`BXBSBOBMBKBIBGBEBCBAB@B?B?B?B?B@B@BABABABBBBBCBCBCBDBDBEBEBFBFBHBIBLBNBPBRBTBWBYB[B^B`BcBeBgBiBkBnBpBsBxB~C(C/C6C>CECLCSCYCaChCoCwD$D0DADRDeDwE-E@EREeEwF)F4FAFQFeFzG8GlHIHEH=H[ILJ^JrJ.IoJ>JwJ`JQJuKoM3M{MIL=K^KuLCKtK^LEM#LEKVKUL@LuL4K?K8KlKcJmIsH[FuDkBsAmJVJ5I_I#H>GTFjF*ETE/DnDRD7CzCdCQCEC:C1C(B{BrBkBeBaB^B[BXBVBSBQBNBLBKBKBKBKBLBLBLBLBMBMBMBNBNBNBNBOBOBOBPBPBRBSBUBWBZB]B_BaBcBeBgBiBlBnBpBrBtBvByB|C$C*C1C7C?CFCMCTCZCbCiCpCwC~D+D8DIDZDmE#E5EHEZEmF$F2F=FJFZFnG(GCGvHTHPHHHhIYJlK$J;I{JKK)JnJ`K&K~MDN1MZLLKmL(LRL&KlLUM3LTKeKdLOM)LDKNKGK{KrJ{J$HgF~DqBwApJoJOIyI>HYGpG)FFEoEJE+DlDQD6C{CiC[CPCFC=C2C)B}BvBrBnBkBhBeBbB_B[BYBXBWBWBWBWBXBXBXBXBXBXBYBYBYBYBYBYBZBZBZB]B^B`BbBdBfBhBjBlBnBqBsBuBwByB{B}C#C%C(C-C2C9CACGCNCUC]CcCjCqCxD#D*D3DADPDcDuE+E?EQEdEvF,F;FFFSFdFxG1GMH%HaH[HSHsIfJzK2JIJ,JYK7J{JmK4L1MUNCMlL]K{L7LcL6K{LeMDLeKtKsL`M9LTK^KVL/L&K.J1HsG,DwBzArK+JiJ6IXHuH/GEFbF.EeEFE)DjDOD6D$CrCfC[CQCGC=C3C,C'C#B{BxBtBpBmBjBgBeBdBdBdBdBdBdBdBdBdBeBeBeBeBeBeBeBeBeBfBgBhBjBlBnBpBrBtBvBxBzB|B~C$C&C(C*C,C.C1C5C;CBCICPCVC^CeCkCrCyD$D*D2D;DIDXDkD}E4EGEYEmF#F5FEFOF]FmG%G;GWH0HlHhH_I#IsK,KAJVJ9JgKFK-J{KCLAMgNUM}LmL.LHLrLFL.LuMULuL'L&LpMKLdKlKfL?L5K=J?I#G5D~B~AtKDK%JQItI3HKGaF}FJF#EaECE'DhDOD:D,C|CqCfCZCOCFC>C8C3C/C+C'C#B{BwBsBqBpBpBpBpBpBpBpBpBpBpBpBpBoBoBoBoBoBoBpBqBrBtBvBxByB{B}C#C%C'C)C+C-C/C0C2C4C6C9C?CDCKCQCXC`CfCmCsCzD%D+D2D:DDDPDaDsE)E=EOEcEuF,F?FMFXFfFwG/GFGbH:HwHsHkI/J$K:KOJeJGJuKTK;K-KRLPMwNfN1L|L>LWM&LUL>M)MfM(L6L5M#M[LtK{KuLOLFKLJMI/G?E(C&AvK]K?JkJ2IOHgG|G;FeF>EzE^E@E$DgDRDCD5D*CzCnCcCXCPCJCEC@C:C6C1C,C(C$B~B}B|B|B|B|B{B{B{B{B{B{BzBzBzBzBzBzBzBzB{B|B~C#C%C'C)C+C-C.C0C2C4C6C7C9C;C>C@CCCGCMCSCZCaChCnCuC|D&D-D3D:DBDLDXDiD{E2EEEXEkE~F4FHFVFbFoG$G8GPGmHFI'I#HwI=J1KHK^JrJUK'KcKKK;KbL`N*NvNBM0LNLgM5LeLNM8MuM8LFLEM3MkM'L/L(L_LUK[J[I;GIE.C*AxKvKXK)JMIkI&H;GWG$FXF8EwEYE=E#DjDYDLD?D2D&CvCkCbC[CUCPCKCEC@C:C5C1C.C-C,C,C,C+C+C+C*C*C*C*C)C)C)C(C(C(C(C(C)C*C,C-C/C1C2C4C6C8C9C;C>C@CACCCECGCICKCPCUC[CcCiCpCvC}D(D.D5D;DCDJDSDaDqE'E:EMEaEtF*F>FQF`FlFyG.GCGZGwHQI2I/I'IIJ>KUKkK$JdK5KrKYKKKpLoN9O)NQM@L^LwMFLuL^MHN)MHLVLTMCM{M7L?L8LnLfKkJkIHGRE5C-A{L2KqKCJhJ*IAHWGsG?FsFSF4ErEUE:E%DpDbDTDGD9D-C}CtCmCfCaCZCTCNCICCC?C;C9C8C8C7C7C7C6C6C5C5C5C4C4C3C3C3C2C2C2C3C4C5C7C9C:C=C?C@CBCDCECGCICJCLCNCOCQCTCXC^CeCkCrCxD#D)D0D6D>DDDKDRD[DiDyE/ECEVEiE|F3FGFZFiFuG&G7GMGeH&H]I?I:I3IVJKKcKxK2JrKDL$KhKZL#L~NIO8NaMOLnM*MUM(LmMXN8MWLfLeMRN.MGLOLHL~LuKzJyIUG]E;C1A}LKL.K^K'JEI]HsH2GZG2FmFNF/EnERE;E*DxDjD[DND@D3D)C~CwCpCjCdC^CVCPCKCHCFCECECDCDCCCCCBCBCACAC@C@C?C?C>C>C=C=C>C?C@CBCCCECFCHCJCKCMCNCPCRCSCUCVCXCZC]CaCgCmCsCzD$D+D1D8D?DFDLDSDZDdDqE%E7EKE_ErF)F=FPFcFrF~G/GBGWGpH1HhIJIGI@IcJXKpL*K@K$KRL2KwKiL2M1NXOHNqM`L}M:MfM8L}MhNIMhLvLtMcN>MWL_LXM1M(L-K+IbGfEBC5B#LdLHKwKBJaIxI2HNGuGMG+FhFHF*EkESEAE1E#DpDbDSDGD;D2D+D$CzCsClCeC_CXCTCRCQCQCPCOCOCNCNCMCLCLCKCJCJCICHCHCGCGCHCICJCLCMCOCPCRCSCUCVCXCYC[C]C_C`CbCcCfCjCoCuC|D&D-D3D9DADGDNDTDZDcDlDxE-E@ESEgEzF1FEFXFlF{G+G9GKGbGzH;HsIUISILIpJfK~L7KNK1KaLAL)KxLBMANhOXO$MoM1MJMuMHM0MxNXMwM)M(MrNNMgLoLhMBM8L>K:IoGpEIC8B%L|LaL5K]J|J7INHjH4GhGEG%FbFCF&EkEXEHE7E(DvDgDYDMDDD=D4D-D%CzCsClCfCbC`C_C^C]C[CZCZCYCXCWCWCVCUCTCTCSCRCRCQCRCSCTCUCWCXCZC[C]C_C`CbCcCeCfCgCiCjClCoCrCxC~D(D.D5D;DBDIDODVD]DcDjDtE$E5EHE[EoF&F:FNFbFuG(G4GCGUGlH(HGH~IbI`IYI|JsL/LFK[K@KoLOL8L*LPMPNxOhO3N#MAMYN)MXMAN+NhN+M9M7N&N^MwL~LwMQMHLMKII{GyEOC=B'M8LzLOKwK:JSIjI)HPH&G`G?F{F[F?F&EoE^EME>E-DzDlD`DVDMDED=D4D-D%CyCsCnClCkCjCiChCgCfCfCeCdCcCbCaC`C_C_C^C]C]C]C^C_C`CbCcCdCfCgChCjCkClCnCoCpCrCsCuCwC{D$D*D1D7D>DDDKDQDWD_DeDkDrD|E,E>EPEdExF/FCFWFkF~G1G>GLG_GvH2HRI-ImIlIfJ-K$L=LSKjKNK}L^LGL9L`M`O+OwODN2MPMjN8MhMPN;NxN:MIMHN5NnN*M1M+MbMXL]KXJ,H'EUCAB*MRM7LjL6KVJpJ)IEHlHBG{GYG8FuFWF?F*EuEeESECE2E$DsDiD`DWDNDFD=D4D,D%C|CzCxCwCvCuCtCsCrCqCqCpCoCnCmClCkCjCiChChCiCjClCmCnCoCqCrCsCtCvCwCxCzC{C|C}D#D%D)D.D4D:DBDHDNDTD[DbDhDnDuD|E)E5EGEYEnF%F8FMFaFtG,G;GHGVGiH$H>H^I9IyIxIrJ:K1LKLbKxK]L/LmLVLILoMoO:P+OSNCMaMyNIMwMaNKO+NKMYMWNFN}N:MBM:MqMhLlKgJ8H0E]CEB,MkMQM(LRKsK0JGIcI-HaH=GwGVG5FtF[FFF4F#EnE]EKE;E.E#DvDmDdDZDQDID@D8D3D0D/D-D,D+D*D)D(D'D&D$D#C~C}C|C{CzCyCxCxCyCzC{C|C~D#D$D%D&D'D)D*D+D,D-D/D0D1D3D7D=DCDIDODUD]DcDiDoDuD{E&E-E5ECETEgEzF1FEFYFmG$G7GGGSGbGuH0HJHjIGJ*J*J%JJKALZLqL+KmL?L}LfLXM#N#OKP:OdNRMqN-NXN+MqN[O;N[MiMhNVO1NJMRMKN%MxL|KvJFH:EdCIB/N'MkMCLnL4KOJhJ(IPI'H`H?GyGYG;F~FiFVFDF2E|EkE[EMEBE7E.E%DwDnDeD[DTDNDKDJDHDGDFDEDCDBDAD?D>D=D;D9D8D7D6D5D4D4D4D5D6D7D8D:D;D=D>D?D@DADBDCDDDEDGDHDJDNDSDXD_DeDkDqDwD}E'E-E3E9EAEJEVEgEyF0FDFVFjF}G3GGGVGbGpH'H?HYHyIVJ:J:J6J[KSLmM'L>K~LQM2LwLjM4N3O[PLOuNdN%N?NjN=N%NlOMNlMzMxNgOCN[McM]N5N,M0L)JSHFEkCNB2NAN(M^M.LSKpK.JMIvINI+HgHFH&GfGLG6G#FmFZFHF5F%EtEhE^ESEJE@E6E,E#DwDrDoDmDkDjDhDgDeDdDcDaD`D^D]D[DYDXDVDUDTDTDTDUDVDWDXDYDZD[D]D^D_D`DaDbDcDdDeDfDhDlDpDvD|E%E+E1E7E>EDEIEOEUE]EeEqF$F5FHFZFmG#G5GHGZGhGsH$H7HOHkI/IiJNJNJJJpKhM%M;LRL6LeMFM.L}MGNFOnP^P*NuN6NPN{NNN6N}O_N}N/N-NxOSNmMtMnNGN>MBL9JbHQEsCSB7NZNCMyMLLrL5KRJtJCIwIVI5HrHSH6GyGdGPG=G*FsFbFPFBF5F+E}EsEiE_EUEKECE>E9E7E5E4E2E1E/E-E,E*E)E'E&E$D~D}D{DzDyDxDyDyDzD{D|D}D~E#E#E$E%E&E'E(E)E)E*E,E-E1E5E;EAEGELEREWE^EdEiEoEuE{F'F2FAFRFdFtG)G:GLG^GoG|H*H6HIHbH}ICI}JcJdJ`K*K~M;MRLiLLLzMZMCM4MZNXP$PpP;O*NHNbO0N`NHO3OpO2NAN@O-OfN~N)N#NYNOMSLJJqH]E{CYB;NsN]N8MiM5LWKwK?JlJFJ%IcICI%HeHLH5G~GkGWGDG1F|FmFaFVFLFBF7F,E~EuEmEgEcEaE_E]E[EYEWEUESEREPENELEKEIEGEEEDECEBEBECEDEDEEEFEGEGEHEIEJEJEKELEMEMENEOEQETEXE^EdEiEnEtEyF#F(F-F3F8F?FGFQF`FoG#G3GDGSGdGtH(H4H=HJH[HtI4IVJ5JwJyJvKAL9MSMjM#LcM3MpMWMHMnNlP6Q%PMO;NZNsOBNqNYOEP%ODNRNQO?OwO3N;N4NkNbMeLZK#HiF(C`BAO0NwNTN*MULzL@KgK8JqJPJ2IqISI7HzHeHPH=H(GqG^GLG=G0G%FwFlFbFWFMFCF9F3F/F-F+F)F'F%F#E}E{EyEwEvEtErEpEnElEjEiEhEhEiEiEjEjEkElElEmEnEnEoEpEpEqEqErEsEuExE|F%F*F/F4F9F?FDFIFOFTFYF`FgFqF}G0G?GNG^GmG{H.H>HIHQH]HoI+IHIjJJK0K2K0KWLPMjN$M9LxMIN(MlM]N%O#PIQ7P`ONNlO(OTO'NlOVP7OVNeNcOQP,OFNMNGN|NsMvLlK1HtF0CgBFOJO4NpNGMuM@LeL1KcK?J|J_JBJ%IfIMI6H~HjHVHBH.GxGiG[GPGFG:G0G%FwFmFdF^FYFVFTFRFPFMFKFIFGFEFCFAF?F=F9F7F5F3F2F1F1F1F2F2F3F3F4F4F5F5F6F7F7F8F8F9F9F:F;F?FCFHFMFQFVF[FaFfFkFpFuFzG#G*G3G@GMG[GjGwH)H7HEHSH^HeHoI%I>IZI~J_KEKHKFKnLhN%N:MOM1M_N=N$MqN8O5P[QJPqO`N}O:OfO8N}OiPIOhNvNuOcP?OWN_NXO2O(N+L|KAI$F9CmBKOcOOO/NeN7MbM-LYL/KjKLK/JoJSJ8I|IfIPI;I'HoHZHHH8H+G|GqGfGZGOGEG9G1G*G&G#F}FzFxFvFtFqFoFmFjFhFfFdFaF_F]FZFXFWFWFWFWFXFXFYFYFYFZFZF[F[F]F]F]F^F^F_F`FcFfFkFoFtFyF}G&G+G/G4G9G?GDGJGSG_GkGwH(H5HBHOH]HiHrHxI&I7IPInJ5JsKZK^K]L(M#N=NRMfMHMtNRN8N(NLOIPnQ]Q'OrO3OLOwOJO3OzPZOzO+O*OuPPOiNqNjODO:N=M0KOI/FBCsBPO|OiOKO&NWN(MRM$LXL7KwK[K@K%JgJNJ8J#IjITI@I+HtHdHVHKH@H4H)GzGoGdGZGTGOGLGJGGGEGBG@G>G:G8G5G3G0G.G+G)G'G$F~F}F}F}F}F~F~F~G#G#G#G#G$G$G$G%G%G%G%G&G'G*G-G1G6G:G@GDGHGMGQGVGZG`GdGjGrG|H,H7HDHOH[HgHsI#I*I/I8IJIdJ%JJK+KpKsKsL@M9NSNiM|M^N-NhNMN=N`O[Q$QnQ8P'OEO_P-O]OEP/PmP/O>O;P*PcO{O&N|OUOLNNMAK^I;FKCyBUP9P'OgODNwNJMxMLM&LcLGL+KmKSK9J}JgJQJ;J&ImIXIEI4I'HwHlHaHUHIH>H3H)G~GzGwGtGrGoGlGjGgGeGbG_G]GYGWGTGQGOGLGJGIGIGIGIGIGIGIGJGJGJGJGJGJGKGKGKGKGKGLGMGOGRGVG[G`GdGhGlGpGuGyG}H%H*H/H7HAHKHVHaHlHvI%I/I:IBIEINI`IxJ:J`KAL)L.L-LWMQNkO$N7MtNCN|NbNQNsOoQ7R%QKP9OWOpP?OnOWPBP~PBOOONP=PtP0O8O1OhO_NaMRKmIHFSD#BZPUPDP'OcO;NmNAMsMOM1LrLXL?L%KhKPK9K$JkJUJ@J+ItIdIVIJI?I2I'HxHmHbHXHQHLHIHFHDHAH>H;H8H5H3H0H-H+H(H%H#G|GyGwGvGvGvGvGvGvGvGvGvGvGvGvGvGvGwGwGwGwGwGxGzG}H%H)H-H1H5H9H=HAHEHIHMHQHWH^HgHpHzI'I1I:IEIOIXI_IbIjIzJ6JUJyK[LDLHLGLpMkO'O;NON/NYO6NxNfO,P'QKR8Q_PLOjP'PRP%OjPUQ5PTOcObPOQ+PDOLOEO{OqNsMdK}ITF^D*B`PtPcPGP'O^O4NgN?MyM[MBM(LlLSL:L$KjKUK@K+JsJ_JKJ:J-I~IsIhI]IQIFI:I1I*I%H~H|HyHvHtHqHoHlHiHgHdHaH_H[HYHVHTHRHPHPHPHPHPHPHPHPHPHPHPHPHPHPHPHPHPHPHPHQHSHVHYH^HaHeHiHlHpHtHwH{H~I&I+I1I9ICIKITI^IgIpIyJ&J+J-J4JDJ[JxK@K|LdLgLeM0N)OBOVNiNHNrONO2N}OBP=QaRMQsPbP#P;PgP9O~PjQJPiOwOvPdQ@PXOaOYP3P)O+MxL2IdFiD2BfQ8Q(PiPIP%OZO1NhNFN*MmMUM=M%LjLTL?L+KsK`KLK8K&JsJgJZJPJEJ9J/J$IvImIgIbI_I]IZIWIUIRIPIMIKIIIFIDIAI?I;I9I7I5I4I3I3I3I3I3I3I3I3I3I3I3I3I3I3I3I3I3I3I4I6I8I;I?ICIFIIIMIPISIVIZI^IaIfIlIsI{J'J/J8JAJIJQJZJ_JaJfJtK.KIKjLHM-M.M*MPNHO_OrO'NcO0OhOLO9OZPUQxRdR-PxP9PRP}PPP8Q$QaQ#P1P0PzQVPoOwOpPJP@OBN0LFItFuD;BmQ]QKQ0PmPJP#OXO3NpNUN=N%MjMSM=M(LqL^LKL8L&KqK`KQKEK:K0K%JwJmJcJXJPJJJFJCJAJ?J=J:J8J5J3J1J/J-J+J(J&J$I~I|IzIyIyIxIxIxIxIxIxIxIxIxIxIxIxIxIxIxIxIyIyI{I}J$J'J)J,J/J2J5J8J;J?JBJEJIJNJUJ]JeJmJuJ|K(K0K8K=K>KCKOKcK{L=LuMWMUMNMrNgO|P2ODN~OKP&OfOSOtPnR3R|REQ2PPPjQ8PhPPQ;QxQ:PIPHQ5QnQ*P1P+PbPWOXNGLZJ(G&DEBtR#QoQTQ4PnPIP#O]O>O#NhNQN:N%MlMXMFM4M#LoL^LML>L0L%KwKmKdKYKPKFK=K4K.K+K)K'K%K#J}J{JyJwJuJtJrJpJnJlJjJhJgJeJdJdJdJdJdJdJdJdJdJdJdJdJdJdJdJdJdJdJdJdJfJhJjJlJoJqJtJvJyJ{J~K$K'K*K-K2K9KAKHKOKWK_KfKnKuKxKyK}L+L=LRLnMFN&M}MsN7O*P?POO`O>OgPBP$OmP0Q*RLS7R^QKPiQ%QPQ#PhQSR3QRPaP`QMR)QBPJPCPyPoOpN^LoJ9G3DOB{RGR5QwQXQ6PoPKP(OgONO7N~NiNSN?N,MxMhMXMIM8M*LxLlLaLWLNLEL;L2L)K}KuKpKmKkKiKhKfKdKcKaK`K^K]KZKXKWKUKTKRKPKOKNKNKNKNKNKNKNKNKNKNKNKNKNKNKNKNKNKNKNKOKPKQKSKUKXKZK]K_KaKcKeKgKjKlKoKtKyL$L+L2L9LALHLNLULXLXL[LeLtM*MCMtNQNIN=NYOJP]PlO|OZP&P]P?P*PJQCReSPRuQcQ$Q=QhQ:Q#QkRKQjPxPwQeRAQYPbPZQ4Q*P+NtM'JKGBDYC'RkRYR?Q|Q[Q8PrPQP4OyOcONO9O%NnN]NMN?N0M~MqMcMVMKMAM7M/M'LzLrLiLaLZLULRLPLOLNLLLKLJLHLGLFLDLCLBLAL?L>L=L:L9L9L8L8L8L8L8L8L8L8L8L8L8L8L8L8L8L8L8L9L9L:L;L>L?LALCLELFLHLJLLLMLOLQLTLXL^LeLkLqLxL~M)M/M6M8M7M9MBMNM^MsNFN|NqNbN|OjPzQ-P=OvPAPwPYPEPdQ]R}ShS0QzQ;QTR#QRQ;R&RcR&Q3Q2Q}RXQqPyPrQLQBPCO.M;J]GODcC.S1R}RcRDR$Q_Q=PzP_PGP2O{OgOSOAO0O#NrNeNXNLN@N4N*M}MuMmMeM]MTMMMEM?M9M7M6M5M4M2M1M0M/M.M-M,M+M*M)M(M'M&M%M%M$M$M$M$M$M$M$M$M$M$M$M$M$M$M$M$M$M$M$M$M%M&M'M)M*M+M-M.M/M1M2M3M5M6M9M=MBMHMNMTMZMaMgMmMsMuMtMuMzN(N5NHNtOJO=O*OBP-Q=QJPXP5P]Q5PtP_P}QuS9T$SHR5QSQlR;QjQSR>RzR>QLQJR8RpR-Q4Q-QdQYPZOEMPJnG]DmC5SUSES*RiRIR(QeQFQ,PrP_PKP7P%OpObOTOIO>O2O'NxNnNeN]NUNMNFN?N7N0N)N#M{MyMxMwMvMuMuMtMsMsMrMqMpMpMoMnMmMmMlMkMkMkMkMkMkMkMkMkMkMkMkMkMkMkMkMkMkMkMkMkMlMlMmMnMoMpMqMrMsMtMuMvMwMxMzM~N&N+N1N6N=NCNHNNNSNUNSNSNWN_NiNyOFOuOeOOOePMQZQhPuPQPxQQQ1PxQ:R1SRT;SaRMQkR'RSR&QkRUS5RUQdQbRPS+REQLQEQ{QqPqO[MeK#GkDwC=S{SkSPS2RoRPR0QoQVQAQ-PwPePSPCP4P)O{OqOhO^OTOKOCO:O4O-O&N|NuNnNhNcN_N]N[N[NZNZNYNYNYNXNXNWNWNVNVNUNUNTNTNTNSNSNSNSNSNSNSNSNSNSNSNSNSNSNSNSNSNSNSNTNTNTNUNUNVNWNWNXNXNYNZNZN[N]N^NaNeNjNoNtNzO#O(O-O2O3O1O0O2O7O@OLOrPCP/OtP*PmQxR(Q5PmQ6QlQLQ5QSRJSjTSSxReR&R?RjR=R%RmSMRlQzQyRgSCR[QcQ]R6R,Q,OrMyK4GxE$CDTLT:S{S]S>RzRZR>R%QlQYQHQ5Q$PqPdPXPOPGP>P5P,P$OyOrOlOeO_OXOROKOFOAO=O;O:O:O:O:O9O9O9O9O8O8O8O8O8O7O7O7O7O6O6O6O6O6O6O6O6O6O6O6O6O6O6O6O6O6O6O6O6O6O7O7O7O7O8O8O8O9O9O9O9O:O:O;O=O?OCOHOLOQOUOZO`OeOiOjOgOeOfOiOnOxP@PkPTP9PJQ.R8RDQPQ+QQR)QeQNQlRbT%TjT1R{R;RUS$RRR;S&ScS%R3R1R|SWRqQxQrRKRAQAP)N/KEH)E.CLU)TrTUT4SoSNS-RlRRR=R*QtQcQQQAQ4Q)P}PtPlPdP[PSPLPFP@P9P3P-P'O}OwOsOpOnOnOnOnOnOmOmOmOmOmOmOmOmOmOmOmOmOlOlOlOlOlOlOlOlOlOlOlOlOlOlOlOlOlOlOlOlOlOlOlOmOmOmOmOmOmOmOmOmOmOnOnOnOoOqOuOyO}P%P)P-P2P6P:P:P7P4P4P6P9PCPeQ1PuPYPhQKRSR^QjQDQjRAQ|QfR&RxT:U#TGS3RPRiS7RfRNS8SuS7RFRDS1SjS&R-R'R^RSQRP:N@KSH5E8CTUnUYU8TqTLT(SaS@S$RjRVRDR2Q|QlQ_QTQKQBQ9Q0Q(P|PuPoPiPcP]PVPPPKPEP@P>P;P;P;P;P;P;P;P;P;P;P;P;P;P;P;P;P;P;P;P;P;P;P;P;P;P;P;P;P;P;P;P;P;P;P;P;P;P;P;P;P;P;P;P;P;P;P;P;P;P;P;P;P;P=P?PBPEPIPMPQPUPXP]PaPaP[PXPWPXP[PcQ'QOQ5PuQ&QeRlRvR%Q[R$RWR5QzR:S0TNU6TYSFRcRzSIRwR_SIT)SGRTRRS@SxS4R=R5RlRbQaPINMKaHAEBC]V^VFU~UVU-TbT9SrSTS;S(RqR^RKR:R,Q}QsQjQaQWQNQFQ>Q7Q1Q+Q%P{PvPpPjPfPcPbPaPaPaPaPaPaPaPaPaPaPaPaPaPaPaPaPaPaPaPaPaPaPaPaPaPaPaPaPaPaPaPaPaPaPaPaPaPaPaPaPaPaPaPaPaPaPaPaPaPaPaPbPbPdPgPjPmPpPtPwPzP~Q%Q$P|PxPwPwPyQ#QCQjQPQ2Q?Q}S(S0R;QrR9RmRKR2RNSCTbUITlSWRsS.SXS*RnSWT6STRbR`SMT(SARIRBRxRnQnPUNYKlHLELCfWOW5VjV>UmU@TpTHT'SkSUSAS-RvReRURIR?R4R*Q}QsQjQbQ[QUQOQIQCQ>Q7Q1Q-Q*Q)Q(Q(Q(Q(Q(Q(Q(Q(Q(Q(Q(Q(Q(Q(Q(Q(Q(Q(Q(Q(Q(Q(Q(Q(Q(Q(Q(Q(Q(Q(Q(Q(Q(Q(Q(Q(Q(Q(Q(Q(Q(Q(Q(Q(Q(Q(Q(Q(Q(Q(Q(Q(Q)Q+Q-Q0Q2Q5Q8Q;Q?QBQEQDQ>Q9Q7Q7Q8Q?Q_R(QkQLQWR8S@SHRRR+ROS%R`RGRbSVTtU[T}ShS'S?SiS9R|SfTESbRoRlSYT4SMRTRNS(RzQyPbNfKxHWEVCnXAX%WUW$VOUzUJT{TWT=T&SnSXSES2R~RrRgR[RQRFR;R1R)Q~QxQsQmQgQaQ[QUQQQNQLQLQLQLQLQLQLQLQLQLQLQLQLQLQLQLQLQLQLQLQLQLQLQLQLQLQLQLQLQLQLQLQLQLQLQLQLQLQLQLQLQLQLQLQLQLQLQLQLQLQLQLQLQMQNQPQRQUQWQYQ]Q_QbQdQcQ]QXQUQTQUQZQyRCR(QeQpRQSWS_RiRBReS:RtRZRuSjU*UmU2SyS8SOSxSIS/StTRSoR{RxSeT@SYRaRYS3S)R)PnNqL'HcE`CwY3XqXAWhW2VXV$UQU+TkTST>T(SoS]SKS>S1S&RwRlRaRVRMRFR@R9R4R.R(Q~QyQtQqQpQpQpQpQpQpQpQpQpQpQpQpQpQpQpQpQpQpQpQpQpQpQpQpQpQpQpQpQpQpQpQpQpQpQpQpQpQpQpQpQpQpQpQpQpQpQpQpQpQpQpQpQpQpQqQsQuQwQyQ{Q}R#R%R'R%Q{QvQsQqQqQvR8R^RBQ~R,RiSoSvS#RWRzSOS,RoS,S|U=V#UDT.SIS_T+SWS>T&T`S|S+S(SqTLSeRmRfS@S5R4PyN}L3HnEjD$Z%YaY,XOWqW6VZV(U[U>U%TjTTT>T)SuSfSYSMSAS4S)RzRqRjRdR^RWRQRLRFR@R;R8R7R6R6R6R6R6R6R6R6R6R6R6R6R6R6R6R6R6R6R6R6R6R6R6R6R6R6R6R6R6R6R6R6R6R6R6R6R6R6R6R6R6R6R6R6R6R6R6R6R6R6R6R7R7R8R9R:R=R>R@RBRCRERFRDR=R7R3R1R1R5RSRxR[R:RES$T)T0S9RnS3SeSAS&S@T3UOV4UUT?SYSoT:SgSLT3TnT-S8S4S}TXSqRxRrSKSARAQ)O,L?HxEtD,ZsZOYtY6XSWqW4VZV/UlURU:U#TiTSTBT2T%StSgSZSMSBS8S1S+S%R{RuRoRjRdR`R]RZRZRZRZRZRZRZRZRZRZRZRZRZRZRZRZRZRZRZRZRZRZRZRZRZRZRZRZRZRZRZRZRZRZRZRZRZRZRZRZRZRZRZRZRZRZRZRZRZRZRZRZRZRZR[R]R^R_R`RaRbRcReRfRcR[RURQRNRMRQRnS5RuRTR^S=TATHSPS'SISySUS:STTFUbVGUgTPSjT#TKSvSZTBT{T:SESAT-TdS|S(R}SWSMRMQ4O8LJI'E}D5[c[=Z^YxY4XNWjW/V_V=U~UfUNU6T|TjTYTLT>T0T#SrSfS[STSNSHSBS;S6S0S*S&S#R~R}R}R}R}R}R}R}R}R}R}R}R}R}R}R}R}R}R}R}R}R}R}R}R}R}R}R}R}R}R}R}R}R}R}R}R}R}R}R}R}R}R}R}R}R}R}R}R}R}R}R}R}R~R~R~S#S$S$S%S&S'S'S(S%RyRsRnRkRjRmS,SPS2RnRvSTTXT_SgS>S_T2SjSOShTYUtVYUyTbS{T3TZT)SjTPU-THSRSMT9TqT-S4S-SdSYRYQAOELVI2F+D>]L]$[BZXYnY'X?W_W.VhVLV2UvU_UGU3U#TqTcTTTFT8T+S~SvSpSjSdS^SXSRSLSHSESDSCSCSCSCSCSCSCSCSCSCSCSCSCSCSCSCSCSCSCSCSCSCSCSCSCSCSCSCSCSCSCSCSCSCSCSCSCSCSCSCSCSCSCSCSCSCSCSCSCSCSCSCSCSDSDSDSESESESFSFSFSGSCS:S4S.S+S)S+SHSkSLS*S2SmTpTvS}STSuTHT#SdS|TnV,VmV/TtT0TETlT:SzTaU=TWSbS]THU#T;SCS=SrShRhQOORLcI>F4DG^*]][x[/ZCYUXkX+WVW2VrVXV?V%UkUVUEU6U'TuTgTXTLTBT9T3T-T'S}SwSrSlShSeSdScScScScScScScScScScScScScScScScScScScScScScScScScScScScScScScScScScScScScScScScScScScScScScScScScScScScScScScSdSdSdSdSdSdSdSdS`SXSQSKSGSDSGSbT(SfSCSKT(U+U0T8SkT/T_T8SyT5U'VAW%VDU,TETYU#TMT1TtUOTjSsSnTZU4TMSUSNT(SzRyQaObLqIIF>DN^Y^.]H[ZZlY}Y4XPWyWTW7VyV_VEV-UuUdUTUFU6U(TvTiT_TWTPTJTET?T8T2T-T(T&T$T$T$T$T$T$T$T$T$T$T$T$T$T$T$T$T$T$T$T$T$T$T$T$T$T$T$T$T$T$T$T$T$T$T$T$T$T$T$T$T$T$T$T$T$T$T$T$T$T$T$T$T$T$T$T$T$T$T$T$T$T$T$T$S|StSmSgScS`SaS|TBT#S]SdTAUDUHTPT&TFTuTPT4TLU>VWW;VZUCT[ToU9TdTGU-UeU#T,T'ToUJTcSjSdT=T2S1QtOtM#ITFFDU_&^W]o]$[3ZDYVXqX>WtWVW:V|VcVJV5V$UqUbUSUDU5U)T{TsTmTgTaTZTUTOTITETBTAT@T@T@T@T@T@T@T@T@T@T@T@T@T@T@T@T@T@T@T@T@T@T@T@T@T@T@T@T@T@T@T@T@T@T@T@T@T@T@T@T@T@T@T@T@T@T@T@T@T@T@T@T@T@T@T@T@T@T@T@T@T@T@T;T3T,T&S}SzS{T9T[T;SuS|TXU[UaThT>T^U0ThTLTdUUVoWSVrUYTrU*UPTzT_UDU|U9TDT?U*UaTyT%SzTTTJSIR-P+M2I`FND[_M^}^8]H[WZgYxY5X]X6WuWXW>W#VgVQV@V0U}UoU`URUEU:U2U,U&T|TvTqTkTeTaT^T]T[T[T[T[T[T[T[T[T[T[T[T[T[T[T[T[T[T[T[T[T[T[T[T[T[T[T[T[T[T[T[T[T[T[T[T[T[T[T[T[T[T[T[T[T[T[T[T[T[T[T[T[T[T[T[T[T[T[T[T[T[T[T[TWTOTHTBT=T8T9TSTuTUT1T8TqUsUxU#TUTuUHU#TdT{UmW*WkW-UrU-UBUhU5TvU[V7UQT[TVUBUxU4T=T5TlTbS`RDP?MBIkFVDb_s_G^^]m[z[,Z=YUX|XUX6WvWZW@W&VmV[VLV=V.U{UnUaUVUNUHUBU;U5U0U*U$T|TyTxTwTwTwTwTwTwTwTwTwTwTwTwTwTwTwTwTwTwTwTwTwTwTwTwTwTwTwTwTwTwTwTwTwTwTwTwTwTwTwTwTwTwTwTwTwTwTwTwTwTwTwTwTwTwTwTwTwTwTwTwTwTwTwTsTkTdT]TWTSTSTnU2TnTJTPU,V.V3U:TmU1U`U:T{U6V(WBX&WEV-UFUYV$UNU1UtVOUjTsTnUYV3ULTTTMU'TySwRZPRMRIwF_Dh`>_m_&^4]A[NZ^YvY@XtXUX7WxW]WCW,VwVhVXVJV:V-U|UrUjUdU^UWUQULUFU@U;U8U7U6U6U6U6U6U6U6U6U6U6U6U6U6U6U6U6U6U6U6U6U6U6U6U6U6U6U6U6U6U6U6U6U6U6U6U6U6U6U6U6U6U6U6U6U6U6U6U6U6U6U6U6U6U6U6U6U6U6U6U6U6U6U6U2U*U#TxTsTnTnU+ULU+TcTiUEVGVKURU(UIUxURU6UNV@WZX>W]VEU^UqV;UfUIV/VgV%U.U)UqVLUeTlTeU?U4T2RpPfMbJ&FgDn`d`6_K^X]e[p[#Z9Y`Y6XsXUX8WxW_WIW6W'VtVfVVVIV;V1V)V#UyUsUmUhUbU[UWUTUSURURURURURURURURURURURURURURURURURURURURURURURURURURURURURURURURURURURURURURURURURURURURURURURURURURURURURURURURURURURURURURURUNUFU>U7U1U,U,UEUeUDT{U%U]V_VcUjU@UaV3UjUNUgVWWrXUWtV]UuV,VSU}UaVGV~V=UFUAV,VdU|U'T|UVULTJS*PyMqJ1FoDua.`]_p^|^+]6[DZZY~YUY5XsXUX8WzWeWRWCW3W%VrVdVWVMVEV?V8V2V,V'U}UwUsUpUoUnUnUnUnUnUnUnUnUnUnUnUnUnUnUnUnUnUnUnUnUnUnUnUnUnUnUnUnUnUnUnUnUnUnUnUnUnUnUnUnUnUnUnUnUnUnUnUnUnUnUnUnUnUnUnUnUnUnUnUnUnUnUnUjUbUYURULUGUFU_U~U^U7U>UtVvVzV&UWUxVKV%UfU~VoX-XmX0VtV0VEVkV8UxV_W9VTU^UXVDV{V7U?U8UnUdTaSAQ0N%J=FwD{aTa&`9_D^N]X[eZzZBYtYSY4XsXUX:X$WnW_WOWAW1W#VsViVaVZVTVNVHVCV=V6V2V/V.V-V-V-V-V-V-V-V-V-V-V-V-V-V-V-V-V-V-V-V-V-V-V-V-V-V-V-V-V-V-V-V-V-V-V-V-V-V-V-V-V-V-V-V-V-V-V-V-V-V-V-V-V-V-V-V-V-V-V-V-V-V-V-V)U}UuUnUhUbUaUyV;UvUPUUV0W1W6V>UpV3VcV>U}V9W*XEY)XHW/VHV]W&VPV4VvWRVlUuUpV[W6VOUVUPV)U{TxSVQDN4JHG#E%a{aL`__i^q]z]*[>ZbZ7YrYRY3XrXVX@X-WzWkW]WMW?W2W(V|VvVpVjVdV_VXVRVNVKVJVIVIVIVIVIVIVIVIVIVIVIVIVIVIVIVIVIVIVIVIVIVIVIVIVIVIVIVIVIVIVIVIVIVIVIVIVIVIVIVIVIVIVIVIVIVIVIVIVIVIVIVIVIVIVIVIVIVIVIVIVIVIVIVEV=V4V-V&U|U{V6VUV3UjUnVHWJWNVUV+VKVzVUV9VQWCX]YAX`WGV`VtW>VhVLW1WjW'V1V+VtWNVgUoUhVBV6U3SmQXNDJSG+E+bFara'`0_8^A]K[_[$ZVZ3YpYQY2XsX[XIX9X*WxWiWZWNWDW;W5W/W)W#VzVtVnVjVgVfVeVeVeVeVeVeVeVeVeVeVeVeVeVeVeVeVeVeVeVeVeVeVeVeVeVeVeVeVeVeVeVeVeVeVeVeVeVeVeVeVeVeVeVeVeVeVeVeVeVeVeVeVeVeVeVeVeVeVeVeVeVeVeVaVXVPVIVBV:V8VPVoVLV&V*VaWbWfVmVCVcW5VmVQViWZXtYXXwW_VwW/WUW#VdWIX%W?VIVDW/WfV~V*V#VYVNUKT'QlNTJ`G3E1blb;aL`T_[^c]l[~[DZuZQZ1YnYOY2XwXeXUXFX7X(WvWjW`WWWQWKWEW?W9W3W-W)W&W%W$W$W$W$W$W$W$W$W$W$W$W$W$W$W$W$W$W$W$W$W$W$W$W$W$W$W$W$W$W$W$W$W$W$W$W$W$W$W$W$W$W$W$W$W$W$W$W$W$W$W$W$W$W$W$W$W$W$W$W$W$W$W$V|VtVlVdV]VUVSVkW,VfV?VCVxWyW}W(VZV{WMW(ViW$WrY/YpY2WwW3WGWnW;V{WbX=WWVaV[WGW}W9VBV:VqVfUcT>R#NdJkG;E7c6bbaq`x_~_(^1]C[d[7ZpZOZ.YlYOY7Y$XqXbXSXDX6X)W{WsWmWgWaWZWUWOWIWEWBWAW@W@W@W@W@W@W@W@W@W@W@W@W@W@W@W@W@W@W@W@W@W@W@W@W@W@W@W@W@W@W@W@W@W@W@W@W@W@W@W@W@W@W@W@W@W@W@W@W@W@W@W@W@W@W@W@W@W@W@W@W@W@W@W;W3W+W#VwVpVnW(WFV~VWVZW4X4X8W@VrW6WfW@W$W;X-YHZ+YJX2WKW_X)WSW6WyXTWoVxVsW_X9WRVYVRW,V~UyTSR6NsJvGDE?c]c*b9a@`E_J^R]c]'[V[2ZmZLZ,YkYSYAY0X~XoXaXRXEX:X2X,X&W|WwWqWkWfWaW^W]W]W]W]W]W]W]W]W[W[W[W[W[W[W[W[W[W[W[W[W[W[W[W[W[W[W[W[W[W[W[W[W[W[W[W[W[W[W[W[W[W[W[W[W[W[W[W[W[W[W[W[W[W[W[W[W[W[W[W[W[W[W[W[WWWOWFW>W6W.W+WBW_W;VpVsWLXMXPWWW-WNW}WWW;WTXEY`ZCYbXJWcWvXAWkWNX4XlX*W3W.WvXQWjVqVjWDW9V4TjRJO&K%GKEEd%cOb^ac`h_l^t^']G[v[Q[/ZjZIZ,YpY^YMY>Y/X}XoXbXWXOXIXCX=X6X1X+X&W}WzWyWxWxWxWxWxWxWxWxWxWxWxWxWxWxWxWwWwWwWwWwWwWwWwWwWwWwWwWwWwWwWwWwWwWwWwWwWwWwWwWwWwWwWwWwWwWwWwWwWwWwWwWwWwWwWwWwWwWwWwWwWwWwWwWrWjWbWXWPWHWEW[WxWTW,W/WdXeXiWpWEWfX8WoWSWlX]YwZZYzXbWzX2XXX&WfXLY'XBWKWFX1XiX%W,W&W[WQVLU$R^O6K0GSEKdHcrc#b)a-`1_8^I]h]:[q[O[,ZhZJZ1YzYkY[YMY>Y/Y#XuXmXgXaXZXTXOXIXCX?X;X:X9X9X9X9X8X8X8X8X8X8X7X7X7X7X7X7X7X6X6X6X6X6X6X6X6X6X6X6X6X6X6X6X6X6X6X6X6X6X6X6X6X6X6X6X6X6X6X6X6X6X6X6X6X6X6X6X6X5X5X5X5X4X4X0X'W{WrWjWbW_WtX4WmWDWGW|X|Y$X+W^W}XPX+WkX'XtZ2ZsZ5XyX5XJXpX>W~XdY@XYWcW^XIY$X=WDW>WsWiVdU9RqOFK=G[EQdid6cDbJaN`S_Z^k^.]]]6[p[M[+ZiZPZ>Z-YzYlY]YOYBY7Y/Y)Y#XyXsXnXhXbX^XZXXXXXWXWXWXVXVXVXVXUXUXUXTXTXTXSXSXSXSXRXRXRXRXRXRXRXRXRXRXRXRXRXRXRXRXRXRXRXRXRXRXRXRXRXRXRXRXRXRXRXRXRXRXRXRXRXQXQXPXPXOXOXNXNXIXAX7X.X&WzWvX0XLX(W]W_X7Y7Y;XCWuX8XhXCX'X?Y0ZJ[.ZMY4XMXbY+XUX9X{YWXqW{WuXbY;XTW[WUX/X$V{UPS)OUKHGdEWe-dVcebjao`t_|_1^Q]~]X]4[n[L[,ZpZ]ZMZ>Z.Y|YnYbYVYOYHYCY=Y6Y0Y+Y%X|XyXxXwXvXvXuXuXtXtXsXsXrXrXqXqXqXpXpXoXoXnXnXnXnXnXnXnXnXnXnXnXnXnXnXnXnXnXnXnXnXnXnXnXnXnXnXnXnXnXnXnXnXnXnXnXnXmXlXlXkXjXjXiXhXgXbXXXOXGX>X5X2XHXeX@WtWvXOYOYSXZX0XPY#XZX?XVYHZb[FZeYLXeXyYCXmXQY6YoY,X6X1XyYSXlWtWmXGX;W5UgS=OfKSGlE^eLdvd(c-b2a8`C_T^t^E]z]V]2[l[M[3Z|ZlZ^ZNZ@Z1Z$YvYoYhYbY]YVYPYJYEY@Y=Y:Y9Y8Y8Y7Y6Y6Y5Y4Y4Y3Y2Y2Y1Y0Y0Y/Y.Y.Y.Y-Y-Y-Y-Y-Y-Y-Y-Y-Y-Y-Y-Y-Y-Y-Y-Y-Y-Y-Y-Y-Y-Y-Y-Y-Y-Y-Y-Y-Y-Y-Y-Y-Y-Y-Y,Y+Y*Y)Y(Y'Y&Y%Y#XzXqXhX_XUXMXJX`X|XXX/X2XgYgYkXrXHXiY:XrXVXnY`Zy[^Z|YeX}Y4YZY)XiYOZ*YEXNXIY4YkY'X/X(X_XSWMU|SPOuK_GtEdele9dHcMbSaZ`e_v_:^h^A]x]S]0[m[S[@[/Z}ZnZ`ZQZDZ9Z1Z+Z%Y|YvYpYjYeY`Y]YZYYYXYWYVYUYTYSYRYRYQYPYOYNYMYLYLYKYJYJYIYIYIYIYIYIYIYIYIYIYIYIYIYIYIYIYIYIYIYIYIYIYIYIYIYIYIYIYIYIYIYIYIYIYHYGYFYEYCYBYAY?Y>Y=Y6Y-Y#XvXnXeXbXwY7XpXGXJX~Z#Z&Y-X`Y$YSY-XnY)Yw[5[u[7Y|Y8YLYsYAY$YgZBY]XfXaYLZ'Y?XGX@XvXkWeV6SdP(KjG|Ekf/eYdgcmbsa{a*`=_^_.^c^=]u]Q]0[s[`[O[@[1[#ZqZdZYZQZKZEZ?Z9Z3Z-Z(Z#Y{YyYxYwYvYuYtYsYrYpYoYnYmYlYkYjYiYhYgYfYfYeYeYeYeYeYeYeYeYeYeYeYeYeYeYeYeYeYeYeYeYeYeYeYeYeYeYeYeYeYeYeYeYeYeYdYcYaY`Y^Y[YZYXYVYUYOYEY;Y2Y)X}XyY2YOY+X`XbY:Z9Z>YEXwY;YkYEY)YBZ2[L]0[OZ7YPYdZ.YXY;Y~ZYYtX}XxYdZ>YWX_XXY1Y&W|VMSwP8KuH(EqfOeye*d0c7bAaL```$_P_(^_^9]q]Q]6]#[o[`[Q[B[4['ZyZqZkZeZ_ZXZSZMZGZCZ?Z=Z:Z9Z8Z7Z5Z4Z3Z1Z0Z/Z.Z,Z+Z*Z)Z'Z&Z%Z%Z$Z$Z$Z$Z$Z$Z$Z$Z$Z$Z$Z$Z$Z$Z$Z$Z$Z$Z$Z$Z$Z$Z$Z$Z$Z$Z$Z$Z$Z$Z$Z$Z$Z$Z#Y}Y{YzYxYvYtYrYpYnYhY^YSYJYAY8Y5YKYgYCXwXzYRZQZUY^Y3YSZ&Y^YBYYZJ[c]F[fZOYhY|ZFYpYTZ9ZqZ/Y9Y4Y{ZUYoXwXpYIY>X7VdT/PHL%H0Ewfof=eJdQcXbbana&`G_s_K_$^Z^5]q]V]C]2]#[q[b[S[G[=[4[.[(Z~ZxZsZmZgZbZ_Z[ZZZXZWZUZTZRZQZPZNZMZKZJZHZGZEZDZCZAZAZ@Z@Z@Z@Z@Z@Z@Z@Z@Z@Z@Z@Z@Z@Z@Z@Z@Z@Z@Z@Z@Z@Z@Z@Z@Z@Z@Z@Z@Z@Z@Z@Z@Z@Z?Z=Z:Z8Z5Z3Z1Z/Z,Z*Z$YvYlYbYYYQYMYcY~Y[Y3Y6YjZiZmYuYLYlZ>YuYZYrZb[z]][|ZgZ$Z7Z^Z,YlZQ[+ZGYQYLZ6ZlZ)Y2Y,YaYUXOV{TDPXL0H8E}g2f]ejdqcxc&b4aI`j`9_m_F^{^V^4]v]c]R]C]4]%[s[g[][T[N[H[B[;[5[0[*[%Z}Z{ZyZwZvZtZrZqZoZnZlZjZiZgZeZdZbZ`Z_Z^Z]Z[Z[Z[Z[Z[Z[Z[Z[Z[Z[Z[Z[Z[Z[Z[Z[Z[Z[Z[Z[Z[Z[Z[Z[Z[Z[Z[Z[Z[Z[Z[Z[Z[Z[ZYZWZUZRZPZMZKZHZFZCZ=Z1Z'YzYqYiYfYzZ:YsYLYNZ%[#['Z0YdZ'ZUZ1YrZ-Zy]4]s]6Z~Z;ZOZuZDZ(Zi[CZ_YjYeZN['ZAYKYDYxYmXhW5TWPhL;HAF'gRf{f-e4d=cHbVaka0`]`2_h_@^w^T^9^%]r]c]S]E]6])[{[t[m[h[b[[[U[O[J[E[A[>[;[:[8[6[4[2[0[/[-[+[)['[%[$Z~Z|ZzZyZxZwZwZwZwZwZwZwZwZwZwZwZwZwZwZwZwZwZwZwZwZwZwZwZwZwZwZwZwZwZwZwZwZwZwZuZsZpZmZkZhZeZbZ_Z]ZUZJZ@Z5Z-Z%Y}Z6ZRZ/YdYgZ>[:[?ZIY|Z@ZmZIZ.ZF[4]K^-]N[9ZTZh[0Z[Z@[$[YZvZ%Y|Zf[>ZXYcY]Z3Z(Y#WLTlPwLGHIF-gqg?fMeTd]cibxb1aSa#`U`,_b_:^u^Y^E^4^&]s]e]V]I]?]7]0]*]%[{[u[o[j[e[a[^[[[Y[W[U[S[Q[O[M[K[I[G[D[B[@[>[;[9[8[7[6[6[6[6[6[6[6[6[6[6[6[6[6[6[6[6[6[6[6[6[6[6[6[6[6[6[6[6[6[6[6[6[6[5[4[1[.[+[([%Z~Z{ZxZuZnZcZWZNZEZ=Z9ZNZjZGY|Z#ZU[R[UZaZ8ZW[(ZbZGZ^[L]b^C]e[QZl[#[HZsZX[;[q[1Z>Z8Z}[UZpY{YtZKZAY:WcU#Q+LRHPF4h4g_fmetd}d-c>bTavaE`w`N`&_[_8^y^e^T^F^6^(]v]i]_]V]P]J]D]?]8]2]-](]$[}[z[x[v[s[q[o[m[k[h[f[d[b[`[][Z[X[V[T[S[R[R[R[R[R[R[R[R[R[R[R[R[R[R[R[R[R[R[R[R[R[R[R[R[R[R[R[R[R[R[R[R[R[Q[P[M[J[F[C[@[;[8[4[1[*ZzZpZfZ^ZUZQZf[%Z_Z8Z:Zm[i[mZxZPZp[AZyZ_Zv[d]x^Y]{[i[([:[`[/Zp[S]+[IZUZP[8[m[+Z6Z0ZdZXYRWzU7Q:L_HXF:hTg~g0f7eBdOc`bwb=aha=`p`G_|_X_=_(^t^f^V^H^9^,]~]v]p]j]d]_]X]R]L]G]C]@]>]:]8]5]3]0].],])]']$[~[|[y[w[t[r[p[o[o[n[n[n[n[n[n[n[n[n[n[n[n[n[n[n[n[n[n[n[n[n[n[n[n[n[n[n[n[n[n[n[n[m[k[h[e[a[^[Y[U[Q[N[J[B[6[+Z~ZuZmZjZ~[=ZwZPZS[)]$]([4Zi[+[X[4Zw[1[{^2^p^5]$[@[R[v[G[,[j]C[`ZnZi[P]'[CZOZHZ{ZpYjX4ULQKLjHaFAhthBgPfWebdpd%c>b_b.a_a5`h`A_y_]_H_7_)^v^h^Y^L^B^9^3^-^']~]x]r]m]g]c]`]]]Z]W]T]R]O]M]J]G]E]B]@]=]9]7]4]2]0]/].].].].].].].].].].].].].].].].].].].].].].].]-]-]-]-]-]-]-]-]-]-],]*]']#[{[w[s[o[k[g[c[Z[O[D[9[0[([%[9[T[2ZiZk[A]:]?[L[$[C[o[M[2[J]6^I_)^L]:[W[j]1[_[D]%]Y[w[)[$[g]>[ZZgZ`[5[*Z%XKU`QZLuHiFGi7hbgpfwf&e4dGc`c%bPb$aVa-`b`>_}_i_X_I_:_+^y^m^c^Z^T^N^H^B^=^6^0^+^'^#]|]z]w]t]q]o]l]i]g]d]a]^][]X]U]R]P]N]L]L]K]K]K]K]K]K]K]K]K]K]K]K]K]K]K]K]J]J]J]J]J]J]J]J]J]J]J]J]J]J]I]I]H]F]C]?]9]5]1],](]$[{[s[g[[[Q[I[A[=[Q[l[J[$[&[W]Q]U[c[;[Y])[d[J[a]L^__>^b]Q[n]$]G[u[Z]:]o]0[@[:[}]S[pZ}Zv[L[@Z;XaUrQjM$HqFMiWi%h3g:fFeTdhd$cFbrbFaxaOa'`_`C`._z_k_]_M_?_2_(^|^v^p^j^d^^^X^R^M^I^E^B^?^;^8^6^3^0^-^*^'^%]~]{]x]u]r]p]n]l]k]k]k]k]k]j]j]j]j]j]j]i]i]i]i]i]i]i]h]h]h]h]h]g]g]g]g]g]f]f]f]f]e]d]b]^]Y]T]P]K]F]B]=]8]/]#[t[j[a[X[T[h]&[a[:[=[n]g]j[x[Q[o]?[x[_[u]a^q_P^t]e]&]7]Z],[n]N^%]D[T[N]4]g]'[5[.[`[TZOXsV'QwM.HxFSiwiDhRgZffeue+dEcgc6bhb>aqaIa%`f`Q`A`1_~_p_b_U_J_C_;_6_0_*_$^z^u^p^k^h^e^b^_^[^X^U^R^P^M^J^G^D^A^>^:^8^5^3^1^0^0^/^/^/^.^.^.^.^-^-^-^,^,^,^+^+^+^*^*^*^)^)^)^(^(^'^'^'^&^&^%^%^#]}]y]t]o]j]e]`][]V]Q]H];]/]%[x[o[l[~];[v[Q[R]&]z]~]/[f]']Q]/[r]+]r_&_a_(]v]7]J]l]>]$]`^6]U[f[a]F]w]8[G[@[q[fZaY(V6R(M7I$FYj9idhrgzg)f8eKded+cWc,b`b6alaHa,`t`d`T`F`7`)_x_n_f_`_Y_S_M_H_B_;_6_2_._+_(_%_#^|^y^v^s^p^m^j^g^e^b^_^[^X^V^T^S^R^R^Q^Q^Q^P^P^O^O^N^N^M^M^L^L^K^K^J^J^I^H^H^G^F^F^E^D^D^C^C^B^A^?^;^7^2^-^(^#]z]t]o]j]a]T]H]=]3]*]&]8]Q]/[g[h]:^1^4]C[y]9]d]B](]>^'_5_p_7^*]H]Z]|]N]4]p^F]f[v[q]U^*]I[W[Q]%[vZrY8VER3MBI+F`jYj'i5h>gIfWeke(dKcxcMc%bXb1akaPa;a+`x`j`Z`L`@`5`-`'_}_w_q_k_f_`_Z_V_R_O_L_I_F_C_@_>_:_7_4_1_._+_(_%_#^|^y^x^v^v^u^t^t^s^r^r^q^p^p^o^n^n^m^l^k^k^j^i^h^h^g^f^e^d^c^b^a^`^_^^^]^Z^W^S^N^H^C^=^7^1^,^&]y]l]`]T]J]B]=]O]h]E[|[}]O^E^H]V]/]L]v]S]9]O^7_E_~_G^9]X]j^/]_]E^#^U]u]*]%]f^9]X[h[b]4])[%YHVSR@MKI2FfjyjGiUh^ghfwf.eHdkd;cncFb{bTb2asa_aNa@a0`~`p`c`X`Q`J`D`?`8`2`,`'_~_y_v_s_p_m_j_g_d_a_^_Z_X_U_R_O_L_I_F_C_A_?_>_=_;_:_9_8_7_7_6_5_4_3_2_1_1_0_/_._-_,_+_*_)_'_&_%_$_#^~^|^{^z^y^w^s^n^i^c^]^V^Q^K^E^?^5^(]x]l]b]X]S]e]}]Z]4]5]c^X^Z]j]C]_^+]f]L]a^H_T`1_U^I]i]z^@]o]T^3^e^)]:]5]u^I]h[x[q]E]8[5YXVbRLMTI9Flk=jgiuh}h+g:fNehe/d]d3chcAbwbUb:b&aradaTaFa7a*`|`t`n`h`b`]`V`P`J`E`A`=`9`6`4`1`.`+`(`%_~_{_x_v_s_p_m_j_g_e_c_a_`___^_]_[_Z_Y_X_W_V_T_S_R_Q_P_O_N_M_L_J_I_H_F_E_C_B_@_?_>_;_:_8_6_2_-_'^}^w^q^k^e^_^X^N^A^3^']y]p]j]{^6]p]J]J]w^k^m]|]V]q^>]w]^]r^X_d`@_e^Y]y^-^O]~]e^C^s^8]K]F^(^X]x],]%]T]I[FYhVpRWM^IBFrk]k*j8iAhKgZfnf+eOd}dTd-ccc>bxb^bJb9b*axaiaZaNaDa;a5a/a)a#`z`t`n`i`e`a`^`Z`W`T`Q`O`L`I`F`C`@`=`9`6`4`1`.`+`)`(`&`%`$`#_}_|_{_z_x_w_v_t_s_r_q_o_n_m_k_j_h_f_e_c_a_`_^_[_Z_X_V_T_R_N_H_B_;_5_._(^}^w^q^g^X^K^@^4^*^%^5^L^)]`]`^/^~_#^3]i^(^O^-]p^'^i_s`N_s^i^,^>^_^2]u^R_&^H][]U^7^h^+]=]5]d]X[UYwV~RdMgIIFxk|kJjXi`hkgzg1fKeoeAdudOd)cac@c%bmb^bNb?b0a~araga`aXaSaMaGaAa:a5a0a+a(a%`~`{`x`u`r`o`l`j`g`d`a`^`Z`W`T`R`O`M`K`J`H`G`E`D`B`A`?`>`;`:`9`7`6`4`3`1`0`.`,`*`(`'`%`#_}_{_y_w_u_s_q_n_j_d_^_V_O_I_B_:_4_-_#^q^d^W^L^B^;^K^b^?]u]t^C_5_6^G]|^:^b^?^%^8^z`&`]`&^x^=^N^o^B^)^b_5^W]k]f^H^v^:]L]F]t]h[fZ*W0RoMqIPF~l@kijwj#i.h>gQfkf2ebe9dqdKd'cccHc4c$brbcbTbFb8b.b&a|avaqakaea_aYaSaOaLaHaFaCa@a=a9a6a3a0a-a+a(a%`~`{`x`u`s`p`n`m`k`i`h`f`e`c`a```^`[`Z`X`V`U`S`Q`P`N`L`J`G`E`C`A`?`;`9`7`5`3`0`-`(_~_x_q_j_c_[_T_M_F_;_-^{^o^d^X^R^b^w^T^.^-^W_H_I^Y^3^M^s^Q^6^I_.`5`l`5_,^M^^^~^R^8^r_E^h]{]v^W_)^J]]]V^']x[vZ:W?R{MzIWG(l_l,k:jCiNh^gqg.fSf&e[e5dmdJd)clcXcHc8c*bwbjb]bRbJbDb>b7b1b,b&a|awasaoalaiafacaaa^aZaWaTaQaNaKaHaFaCa@a=a9a7a5a3a1a/a-a,a*a(a&a$`~`}`{`y`w`u`s`r`p`n`k`i`f`d`a`_`]`Y`W`T`R`O`M`I`D`>`6`/`(_|_u_n_f___S_E_7_*^z^p^i^w_0^j^C^B^l_[_[^m^F^`_)^c^I^Z_?`E`z`D_;^^^n_1^c^I_%_T^w^/^*^g_8^Z]m]f^6^+])ZJWMS+N'I_G.l~lLkZjcinh}h3gNfsfGe|eWe3dldLd2c{clc]cNc?c0c$bvbnbhbbb[bUbObJbDb?b9b6b3b0b-b*b'b$a~a{axauaraoalaiafacaaa^aZaXaVaTaRaPaNaLaJaHaFaDaBa@a>a;a9a7a5a3a0a.a+a(a&a#`|`z`w`t`q`o`l`i`e```Y`Q`J`B`:`2`+`#_w_l_^_O_B_5_*_#_1_F_#^X^V_#_n_o_$^Y^r_:^u^Z^l_O`Ta,`S_K^m^}_A^r^Y_4_c_*^@^:^v_H^j]}]v^G^:]9ZYWZS6N0IgG4mBllkzk&j0i@hSgng6fgfAeyeUe2dpdVdCd2d$cqcccTcGc=c5c.c(c#bybsbmbhbcb^bZbWbTbQbNbKbHbEbBb?b=b9b6b3b0b-b*b'b%a~a|ayawauasaqanalajahaeacaaa_a]aYaWaUaSaPaMaJaGaDaAa>a:a7a5a2a/a,a(a$`{`t`m`e`]`T`L`D`;`4`(_v_g_Y_M_B_9_H_[_8^n^l_7`%`%_6^m_(_M_*^m^}_``da;`b_[^}_1_Q_&^j_D_r_9^P^K_*_W^y^1^*^V^K]JZjWiSCN9InG:mbm/l>kFjPi`hsh1gWg+fbf?eweUe6dzdgdVdHd8d*cxckcacXcRcLcGcAc:c4c/c)c%b~bzbxbubrboblbibfbcb`b]bZbWbTbQbNbKbHbFbCbAb>b;b8b6b4b1b/b,b*b(b%b#a|azawauarapamaiafaca`a]aXaUaRaOaKaHaEa@a:a3a+a#`w`n`f`^`U`M`A`1`#_q_e_X_P_^_q_M_'_$_L`8`7_J_#_:___=^~_2_p`saJ`q_k_1_A_a_5^y_S`%_I^`^Z_9_f_,^A^:^g^Z]YZyWwSNNDIuGAn&mPl_kgjqj$i7hRgxgLg'faf>exeZeBe.dzdld^dNd@d3d)c}cwcqckcec`cYcScNcJcFcCc@c=c9c6c3c0c.c+c(c%b~b{bxbubrboblbjbgbdbbb_b[bYbVbSbQbNbLbIbFbDbAb>b;b8b5b2b/b+b(b%a}azavasaoalahaeaaa[aUaNaFa=a4a,a#`w`n`f`Y`J`:`-_|_p_g_t`)_c_;_8_``K`J_]_6_M_q_N_3_D`$a&aXa#_z_B_Q_p_F_-_c`4_Y^p^k_I_u_;^Q^J^v^j]j[,X)SZNMI|GGnImsm%l-k7jGiYhth>gogJg'fbfAe~egeSeDe5e'dudgdZdPdIdBd;d6d0d*d$c{cvcqcmcjcgcdcac^cZcWcTcQcNcKcHcEcAc>c:c7c4c1c.c+c)c&c#b|bybvbsbpbmbjbhbebbb_b[bXbUbRbNbJbFbCb?b:b6b3b/b+b'b$a{awapaia`aWaNaEa=a3a*`~`r`b`S`E`6`*_}`,`?_w_P_L_r`]`[_n_H__`%___D_T`3a4afa1`-_P_a_~_T_=_r`C_h_#^z_W`'_K^a^Y_(^y]y[;X6SgNVJ(GMnqn>mLlTk_jmj#i=hch7gpgMg+fgfIf1e{eme_eQeCe6e*d|dudodidcd]dVdQdKdFdAd=d9d6d2d/d+d(d%c}czcwcscpcmcicfccc_c[cXcTcQcNcKcGcDcAc=c9c6c2c/c,c)c%b~b{bwbtbpblbhbdb`b[bWbSbObKbGbCb>b9b4b-b&ayapaha_aUaLaCa9a-`z`k`[`M`@`6`A`Q`-_c_^`&`l`k_}_W_n`3_n_S_c`BaBara?`:___n`0_c_K`#`O_u_1_,_f`4_X^o^h_6_*^*[IXDSrNaJ0GUoAnjmxm$l-k:jLifi.h`h:gugSg2fqfZfIf;f.e~erefeZeQeJeDe>e7e2e,e&d|dwdrdndjdfdbd_dZdVdRdNdKdGdCd?d:d7d3d/d+d'd$c|cxctcqcmcicecac^cYcUcQcMcJcFcBc>c9c6c1c-c)c$b|bwbsbobjbfbab]bWbSbMbGb?b5b,b#avamaea[aRaFa5a&`s`d`U`K`T`d`?_s_n`4`y`w`/_f_{`A_{_a_p`NaMa~aJ`G_l_{`=_p_W`/`[`%_?_9_r`A_e^|^u_C_7^7[VXQS~NlJ:G^ooo=nKmRlZkhjwj3iWi,hdhBg|g[g?g(ftfhf]fQfGf;f1f)e~exerelegeaeZeTeOeJeEeAe;e7e3e.e*e&d}dydudpdldhdcd_dZdUdQdMdHdDd@d:d6d2d-d)d$c|cxcscockcfcbc^cXcTcOcKcFcAc;c6c2c-c(c#bzbubqblbfb_bVbMbDb;b2b)a|asaja^aMa>a-`z`k`_`h`u`O`&_|`Ba)a'`;_r`+`M`+_n_}`ZaXb,aU`S_x`+`I_|_e`;`g`1_K_F_}`L_q_,_%_O_C^D[dX^T-NwJDGfpBolnzn$m,l7kGj^j%iUi1hkhIh)gigSgDg8g/g%fxfofff_fWfQfKfEf@f9f3f-f(e~eyeteoejeeeae[eVeQeLeGeBe=e7e2e-e(e$d{dvdqdldgdbd]dWdRdMdHdDd?d9d4d/d*d%c|cwcrcmchccc^cWcRcMcHcCc=c7c2c-c'b}bvbnbeb]bSbJbAb7b.b%auaeaUaEa4a#`s`za*```5`.`Oa4a2`H_~`7`Y`7_z`-`gadb6aa`_`(`6`T`+_q`G`r`>_W_R`-`W_|_8_1_Z_O^P[pXjT9O%JNGopqp?oMnSm[leksk,jOj#iZi8hshRh6g}gpgfg^gUgMgFg>g6g0g*g$fzfufofifcf^fWfQfLfFfAf:f5f/f*f$e{euepejeee_eYeSeNeHeCe=e7e1e,e&d}dwdrdldgdad[dUdPdJdEd@d9d3d.d(d#cyctcnchccc]cWcQcKcFc@c9c1c)b}btbkbbbXbObFb=b0a}ama[aJa8a*a0a;`p`E`=`]aAa>`S`.`D`e`D`*`9`raobAak`k`4`C```7_|`S`}`I_d__`8`c`,_E_>_g_Z^][|XvTEO0JWGxqEpno|o&n-m6lCkVjyjMj(ibi@h|hahLh@h7h0h)h#gxgrglgfg`gYgSgNgHgBg;g5g0g*g#fyfsfmfgfafZfTfNfHfBf;f5f/f(e~exerelefe`eYeSeMeGeAe:e3e-e'd}dwdqdkded_dXdRdLdFd@d9d3d-d'c}cwcqckcec_cXcQcJcAc8c/c&bybpbgb^bTbHb8b(asaaaNa?aCaMa$`T`K`iaLaJ```:`P`q`P`6`F`}aybLav`v`A`O`l`D`,`_a,`T_p_k`E`n`7_Q_J_r_g^i],Y&TQO;JbH$qtqBpOoUn[mdlnl%kGjvjQj/ijiJi.hvhkheh_hYhThOhJhDh?h8h2h-h'g}gwgqgkgeg_gWgPgJgCg;g5g.g'f}fvfpfifbf[fTfMfGf@f8f2f+f$ezeselefe_eWeQeJeCe=e5e/e(d}dwdpdidcd]dUdOdIdBd;d5d.d(c}cwcqcjcbcYcPcGc>c4c+b~bubmb`bPb@b-avacaRaUa^a4`d`Y`vaXaU`l`G`]`|`]`C`Ra-b(bVb$a&`M`[`w`P`8`ka7`a_|_w`P`y`D_^_V_~_r^u]8Y2T]OGJlH-rGqqp~p(o-n4m>lPkqkDj{jXj6isiWiEi:i5i1i-i)i&h}hyhshnhhhbh[hVhPhJhDh=h5h.h'g|gugmgfg_gWgPgHgAg9g2g*g#fxfqfjfbfZfSfLfDf=f5f.f&e{etemefe^eVeOeHe@e8e1e*e#dxdrdkddd]dVdOdHdAd:d3d,d%cycqchc_cUcLcCc9c0c(bwbhbWbEb0axagahaoaE`s`ga'adaa`w`S`ia,`i`O`^a8b2bab/a1`Y`ga'`[`E`vaC`l`,`&`[a(`O_j_c`-_~_%]EY?TiORJuH5rvrDqRpWo[namjlzl>kmkHk%j`j@j$inieiai_i[iYiViSiOiJiEi?i8i2i,i'h}hvhphhhahXhPhHhAh8h0h(g}gugmgeg]gUgMgEg=g5g-g%fyfqfjfbfYfQfJfBf9f1f)e~evenefe^eVeNeGe?e7e0e)d~dwdpdhdadYdRdKdDd;d3d+c~cuclcccYcQcHc?c2b~bmbZbFb/ayazb#aTa&`ua3aoala'```ta7`t`[`jaDb>bkb9a=`e`sa2`h`Qa%aN`w`7`2`ga2`Z_u_o`9`-_1]QYJTtO]K#H?sJrtr%q*p-o1n8mHlgl8kokLk*jfjJj8j/j,j*j)j'j%j#i{iviqikiei_iYiSiMiGi@i7i/i'hzhrhjhbhYhPhHh@h7h.h&gzgrgjgagXgPgGg?g6g.g%fyfqfhf`fWfNfFf>f5f,f$exeoege_eWeOeHe@e8e1e)d~dvdodhd`dXdPdHd?d5d-d$cwcncec[cRcFc6c%bnbXbBb.b-b1aca3a%a?ayava1`ka#aCa#`g`uaObGbtbDaG`p`}a=`r`[a/aXa%`C`>`ra=`e`$_y`D`7_=]]YUT~OfK*HEsysGrTqXp[o^nbmpm0l^l7kpkMk+jljYjPjMjKjJjHjFjDj@j:j5j/j)j#izitinigi`iWiOiFi>i4i,i#hwhnhfh]hThKhCh9h1h(g|gsgkgbgXgOgGg>g4g+g#fvfmfdf[fRfIfAf7f.f%eyeqeieaeYeQeIeBe9e2e*d~dwdodgd`dVdNdEd;d2d)c|cscjcbcUcEc3b|bgbOb;b9b>ana?a/aHb%a~a:`ta,aKa,`p`~aWbOb{bKaP`ya*aE`{`ea8aaa.`L`G`zaE`n`-`&`L`A_F]fY^U)OlK/HJtLsvs'r+q,p,o.n9mUm$lXl3klkIk,jujkjgjdjbj_j]jYjUjPjJjDj>j8j2j,j&i|itilidiZiRiIi@i7i.i&hyhphhh_hUhMhDh:h2h)g|gsgjgagWgNgEg;g2g(f{frfif`fVfMfDf:f1f(e|etelede[eTeLeDe=e4e,e%dydqdidadWdNdFd=d3d*c}ctckc_cOc>c*bpbXbEbCbFavaGa7aPb,b(aB`|a3aRa3`xa)a_bUc%bQaWa$a1aLa&`ma@aga5`S`Na%aK`t`4`.`S`H_M]mYeU.OoK2HLt|tIsVrYqYpWoWn`mxmFlxlRl,kekFk0k%j|jxjtjpjmjijdj_jXjRjLjGjAj:j4j.j&iziriii`iWiNiEi=i3i*h~huhlhdhZhQhIh@h6h-h$gwgmgdgYgPgGg=g3g)f|fsfif`fUfLfCf8f/f'e{esekece[eSeKeDe;e3e+e$dxdpdhd_dUdLdCd9d1d(c{crcfcVcEc1bwb`bLbJbLa}aNa?aVb2b.aIa&a:aXa:`~a0aebZc)bWa^a+a7aRa,`saFama;`Z`Ua+aQ`z`;`4`Y`N_S]sYjU1OqK3HLuOtyt)s,r*q&p#o)n@mgm;lplHk~k_kHk:k3k.k)k$j{jvjpjkjej_jXjRjMjGjAj9j2j*i~iuilidiZiQiIi@i6i.i%hxhphgh^hUhLhCh9h/h&gxgngegZgPgGg=g2g(f{fqfgf^fSfIf@f5f-f%eyeqeiebeYeQeJeBe9e1e*d~dvdnded[dRdId@d7d.d%cxclc]cKc7b}bgbRbPbRb'aTaEa]b7b3aOa-aAa_aAa)a6akb`c.b]ada1a>aXa2`yaKaraA`a`[a1aVa$`B`;```T_Z]yYoU4OsK4HMu~uLtXsZrWqQpKoNncn,m[m1ldl=kwk_kPkHkAk:k3k-k&j|jvjpjkjej_jXjRjLjFj?j6j-j%ixioigi^iTiLiCi9i1i(h{hshjhahWhNhEh:h1h'gygogegZgPgFg;g1g'fyfofefZfPfFf=f3f*f#eweoege`eWeOeHe@e7e/e(d|dsdkdbdXdOdFd=d3d+c~crcbcQc>c'bmbXbVbXb-a[aLacb=b9aUa3aGaeaGa/a=apbec2baaia7aDa^a8a#aQawaG`g`ba6a[a*`H`B`f`Y_a^#YsU7OtK4HMvQu{u+t-s(q{psoto)nMmzmOm$lWl3kvkfk]kSkKkCk;k3k,k&j|jvjpjkjej_jXjRjJjBj9j0j(i{irijiaiWiNiFi=i3i+h~huhmhdhZhPhGh;h1h'gygngdgYgNgDg9g/g$fvflfbfVfLfCf9f0f(e}euemefe^eUeMeFe>e5e-e%dydqdhd_dUdLdCd9d0d'cxchcWcDc-bsb_b]b_b3abaRaibCb?a[a9aMakaMa6aCavbjc7bfaoa>aJada?a*aVa|aL`n`ha=aaa/`O`H`l``_g^)YxU;OvK5HMw%vNuZt[sUrJq?p=oLnnn>mmm@lqlLl0k{kpkfk]kSkIkAk8k2k,k&j|jvjpjkjej^jVjNjEj=j3j*i~iuilidiZiQiIi@i6i.i%hxhohfh]hRhGh=h1h'gxgmgcgWgMgBg7g,f~fsfhf^fRfIf?f6f.f&e{esekede[eSeKeDe;e3e+e#dvdmded[dRdId@d6d-c}cnc^cJc3bybebcbeb9ahaXaobHbDabaAaSaqaSa=aJa|boc;bkauaDaPajaEa0a]b%aR`t`oaBaga5`U`N`q`f_m^/Y}U?OwK5HMwTv}v-u-t&ruqgpcopo3n]n-m[m/lelHl4l(kxknkckWkMkEk>k7k1k,k&j|jvjpjjjcjYjQjHj@j6j-j%ixioigi^iTiLiCi9i1i(h{hrhhh^hRhGh;h1h&gwglgagUgJg@g4g)fzfofdfYfOfEf=f4f,f%eyeqeiebeYeQeJeBe9e1e)d|dsdjdadXdOdFd=d3d'ctcdcPc:c#bkbibjb@aoa`aubMbJagaGaYavaYaCaPb%bsc@bpazaJaVaoaKa6acb*aX`z`uaHala;`[`T`w`l_s^5Z&UBOyK6HMx&wPv]u[tRsCr2q*p5oSn{nKmwmIl|l_lJl;l.k~krkfkZkQkJkDk>k7k1k+k&j|jujnjfj]jTjKjBj9j0j'i{iriiiaiWiNiFi=i3i*h}hshih^hRhFh:h/h$gugjg_gSgGg;g0g%fvfkf`fTfKfCf:f2f*e~eweoege`eWeOeGe@e7e.e&dydpdgd^dTdKdCd9d-czcicVcAc)brbobpbFauafa{bRbOamaMa`a|a`aIaVb+bxcEbub$aPa]auaQa=ahb/a^a$`{aMaqaA`b`Z`}`q_y^:Z*UEOzK6HMxPwzw*v(tzsirUqLpUoqo;nen3mam6lsl^lMl?l1l#krkfk[kTkNkHkBk;k6k0k*k#jxjpjhj_jUjMjDj:j2j)i|itikibiXiPiGi>i5i+h}hshgh[hPhDh8h,g}grgfgZgNgCg7g+f|fqfefZfPfHf@f7f/f(e|eteleee]eTeMeEe=e4e+d~dudldcdYdQdHd?d2d#coc[cFc/bwbtbubKa{alb$bWbSasaSafb%aeaOa[b0b|cHbyb)aVabazaVaBamb4aca)a$aRauaF`g`aa&`v_~^AZ/UGO|K7HNxlx8wEvCu7t$rlqapip'oMnvnDmomDm#lilXlIl:l,kzkmkck[kTkNkIkCk=k6k0k*k#jwjnjfj]jSjJjBj8j/j'iziqiii`iViNiEi;i2i(hyhmhbhUhJh>h2h&gwgkg_gSgGg;g/g$ftfif^fTfKfCf:f3f+f#ewepehe`eXePeHe@e7e.e%dxdpdgd^dTdKdBd5d&crc_cIc2bzbwbxbOa~aob'bZbVavaVaib(aiaSa`b3c#cKb|b,aYafa}aZaFapb7afa-a(aVaxaI`k`da)`z`&^DZ1UIO|K7HN","b":"BCCDCCCCBBCCBABBBAAAAAAAABBBBBCCDDCDDEGGGGHIIIIIIJJIJJJJIHHHGEDDDCDDBBBAAAAAAA@ABB@@AABBCBA@@@?>?A@?A@@@A@>BA?ADEIJLPLCABABDFIGGHFGHEFEAAAABCBBCCBAAAAGGGGGFFFFEEEDCCCCBBCCBBBBCCCCDDDDDDEEEFFFFFFGFGGFFGGGGGGFFFFEEEDDCCCDDCAABCDDBABCAAAAAA@BEBBDAAA@@@@A@@@BA@A??BIFCCGIIGHDBDHKLFEGDBBCEFDCBBCDBAAAAAAAABBBBBAAAAAAA@@@A@@@@@@@@@AAAAAAAAAAAAAAAAAAAAAAAAAAAAAAAAAAAAAAAAAAAAAAA@ABAAA@AA@@A@@????@DGAA@??@@@@@@BAAEAABFEBBFEDGFA@BGIHFFFBAABDFEBAAABBAAAAAAAAAAAAAA@@@@@@@@@@@@@@@@@AAAAAAAAAAAAAAAAAAA@@@@@@@@@@@@@@@@AAA@@@@@AA@AA@AAAAA@@AA@@@A@??>>?A@???==@BHJGBAADHIECCDCAEDCB@??EGBAEHEAABCDCAAAAAAAA@@@@@AAEEEDEDCCBBBAAAAAAAAAAAAAAAAAAAAAA@AA@@@@@@@@@@@@@@@@@@@@@AAAAAA@@@AAAA@@AAAAAA@@AA@@@@??@??>>=>?>;>BIKIAAAHHGB@@?@@DEDAAAADDABEECABCDEDCBBAAABAAAAAAAADCCCDCBCCCBBBBBBBBAAAAAAAAAAAAAAA@@@@@@@@@@AAA@@AAAAAABBAAABBBBAAABBBAAABCBAAAAA@@@@@@??@@?@@?>???@ACCA@AACHHA@AA?@AABEDCAED@ACBAABABEECAAAAABAAAAAAAAHGFFGFFFGFFFEEEEDDEDDDEDDCDDCDDDDDDDDDDDEEFFFFEGGHHHHIJIHHHHHIIIHGGGGFFFGHJJHEGIGFFEEFCBCCCFGDADCDEJKC?>ABGNLHHFGBAEGHKHDDIFBDHHDBBABEFCABBAABBAAAAAAALKJJJJJJJJJIIIIIIIIIIIIIIIJJJKKKLLMMMMNOOONNNNNNNMMNMMMLKLLKJKLLLKKKJKLLMNPOMKMOPSPMOQKKNQNJOQLIIIGJJJGEJIFILPNEDGEGIKOMHJOLGGJMKDBCEEFDCDDBCDDCBBBAAAAAAAAAAAAAAAABCBBBBBBBBBBCCCCCCDEEEFFGGHGGGGGHHHGFFFFEEDDDDCBCDDDDDDCDCCCFHFCBCEGGBABCBDFHE@AFCAAAA@?@CA@@BHPND@@AABDCEHCBFGEGJLJEBEGGECCBAABBBBBAAAAAAABBBCCCDEEEEEFFDEEDDDDCCCCBCCCCDDCCCCCCCBBBBCBBBAAAAAAAABAABBBBCDEDEECCCDECAACCBBA@BBCBBCBABA@BAAA?>????ADEIEAAAA@@A@AFDCEFDFGHGFFIJJFBCCBBBAAABAAAAAGHHHHHHIIIIIIHIHHHHGGHHGFFFEFFEEDDEDCBBBBAAAABBAABCDDDEFFGGGIIIIJKLLMLIJJJJIHHIHDCBACIHCADGKNGEHIJIDAA@FJDCIOLIIFDDEFBBFILJKKLMKHHJKKLHCDEEDCBAAAAAAAAEDEEFFFGGHHHIIIIIIIIIIIIHHHHGHGFEEFFEEDEEDEEEEEEEFGHHHIIJKKLLLKKMOPONLKKKJLLJIHIGDBACJJEBEHIMNLBBKMKGGGPRIBHRVSNIMPNLIGGIHEGIKNOMIHGGIGDEFFFECAAAAAAAADCDDDDEEEEEEFEEEEEDDDDEDDDDDDDDDDDDEFFFFFFGFGFFEDCDDEDDEDDDDEECDEFFFFFEDCCDEDCBCDBA@ABEGDBFEBDIECHLPKFEJNFDBEPPICDEIJFFFFECFFEGKKHEEEEDBBBCDCBBAAAAAAAFFFFEDDEDDDDDCCBBBBAABBBBBBAAAAAABAABCCCBCCCDDCBAAABBBBBBBBBBBBAAAAAAAA@@@AA@@AAA@@??@AABAAA?@ACA@@@@@AHODAADMLC@?>?AABBABDGDBDEFECEFEEA@AAAABBAAAAAAAHHHHGGGHHHHGGGFFEEFFEEEEEEDDDEEEEEEEEFFFFFFEFFFEEEEEEEDEEEEDDEECCCBAAABBBBBCAABCBCEAADEBCFJKHEDEEA@@ADHSSFBAACECA?>?BDGFBBDEBBFGEEFGHGGDAABCCDCBBBBAAAEEEDDDDEEFFEFFGFFFGGHGGGHHGFFGHIHHGHIIIIIIIIIIHHGGGGFFEEEEEEEFFEEFFEDBCDDCCEDCCCCEEBCBABKPRMEBEFDA@@FKTZUPLGFHHECBCCAEGDBADGEEJKIFEFGGHFBBCCBBBABBAAAA@@@@AAAAAAAAAAAAAABBBBBBBBBAAABBBBAABAAAAAAAAA@@@@@@@@@@@@@@@@@@@@AAA@@@@@@@@@@@?@@@ABAADFHD@>?CC@>>BHPUUOFCGBCEFBA@?ADAAACECADJJEBBBBCBAABAAAAAAAAAA@@@@@@@@@@@@@@@@A@@@@@@@@@@@@@@@@@@@@@@@@@@@???????????????????????@@@@@@@A@@@@@AAAAABDAABABB>;>@AB@>@?@HLJEAFAAGHC?>?AA@@@AAAABHJHEBAAAAAAAAA@@AAAAA@@??????@????????????>>>>>>>>>>>>??????>>???>>>>>>>>>>>>>>>>>>?>>>>>??????>???>>?@@??@AA@@AA@@>=>>?A?=>=>AA@A@??@ACC@?AA@AA@AA@ABDEDBA@AAAAAAAAA@@@@@@@@>>>>>???>>?>????>>??>>>>????????????????????????????????????@@@@@@@@@@@@?@@??@@@@>?@?>=>?@@@?>=>?@?>??=?@??@@???@A??A@?@AAAA@@BEBA@ABDBABBBBAAAAA@@@@@@?????@???????@???@@???@@????@@?@@@@@@@@@@@@@@@@@@@@AAAAAAAAAAAAAAAAAAAA@@@@@A??????>==>>???>=:=>>;:====??@@?>=?@?>>@@@??@BB@@CIECAAADCBCCBAAAAA@@@@@@A@@@@AA@@@@AAAAA@AAAAAAAAAAAAAAAAAA@@@@@AA@AAAAAAABABBABBBBAAAABBBBCDCBBAAAAABA@AAAA@AA@@@@@@@==>>==A@?==?BGGDA@?@@@@AA@ABFFBABGDEB@@ACBCDCAABAA@@@@@@@@@@@AA@@AA@@AAAAAAAAAAAAAAAAAAAAAA@A@@@@@@@@@@AAAA@AAAAAAAAAA@AAAAAAAAAAAAAAAAABBAA@@AA@@A????=>>>?AA?=;>?ABBA??@AA@BDCDBGHBAAEFFCBABCCEDBAABBAAAA@@@CCBBBCCBBBBAAAAAAAAAABBBBBCCDCCDDDDEEEDEFEDDEDEFFFFFFFFFHGFGHHGFFFGFGHHHHHIJIHFGJJGGGGKIGFCAAAAAABAACFIEBDBEONMJGIMLBACCDDIKFCDGGFDEDEECDEDDBBABAAAA@@EEDDDEEEDDCCBCCCCBBBCCCDDCCDDDDEEDDEEEEDEFFFFFGHGGHHHIIIJJIIIJJGFFGGHIHGGGGIIIHHGECDFJMOTNFHEEHD@AGGHFFGDABCMNKJDFIIDADEEHIGFEEHHFFGDCEEEEEECBBBAAAAAABBBAAAABBBAAAAAAAAAAAAAAAAAAAAAAAAAAAAAAABBBBBBCBBCCDDDDDCBBBBBAAAAAAABCBBBBBBCBA@AACFFHLHGG@@EB@CC@EEBAA?>?EC@A@@BFCAABCCEECACGEBDGDBDDBBCBAABAAAAAAA?????????????????????????????>>?>>>>>>????????????????????????????????@@@@@@@@?>>>?@AA??@@@@>=??>?>=AEDA?;99;;=>==>??A@@@@BECBACB@ACEEDAAABBAAAA@AAA@@@@@@@@@@@@A@@@AA@@@@@@@@@@@@@@@@@@??????@??@????????????@@?@@@@@@@@@@@AAABDCAA@@@@AAA?>>@@@A?>@DDA@@AACKG?>===>??>>=>ADEAADJGFEGDAABEGFBABCAAAAAAAAA@@BBCCBCCDDDDEEEEEDDDDDDCBCCCCCCCBBCCCCDDDDDDDCBBBBBBAAAAAABBBCBBCCBAABBDCDGHFFDBDEEFGFDCBCEA@BBDEEBAAA@GMIABEGCBA???=>CJLFAGKGEJKFBACEFFCBDEBBBAAAAA@AADEEEDDFFFFFEEEEEDDDDEEDCDDDDCCCBCCDDDEEDDCCCCBCCBBBBBAABBBBBCCCDCBBBBCCBBDDABCCCABBBDEGDAAA@AA@???>>@@BCHEBBGMHBA@@?@FGEBBGLJFGEDBBGHGEBABCBABAABAA@@AAAABAABBBBBAAAAAAAA@A@@@@@@@@@@@@AAAAAAAAA@AAAAAAAAAA@@A@@@?@@@@@??@?@@@@@@??@@A@???@@A@???>??===>?@ACCAEA?>?ACFHA@AAA@>?ADHFDDCCBABDEDBBAAAAAAAAAAA@@AABBBBBBAAAAAAAAAAAAAAA@@@@AAAAAAAAAAAAAAAAAAAAAABBBBBBBBAAAAABBAAAAAAABAAAAAABEEC@@AAABEAABBA?AACBBAGLGGBAAA@@GQICGH@?>ADEGJKGBCDBADGEBAAAAAAAA@A@@@@@@@@@@@@@@@@@AAAAA@@AAAAAAAAAAAAAAAAAAAAAAAAAAAAAAAABAAAAAAAAABAAAAAA@AA@@ABAAAADEA@@@ABEEDFBCEFDCFD?@DEFDACA@@@EGFIA>?@EDBCFJFFGECBDECAAAABBAA@A@@@@@ABAAABBBABBBBBCCBBBBCCDCBAABBCCCCCCCCCBBBBBAAAAABBBBCBBCCDDDDEFFEDCCBBBBCEGHGEDBABDCAAFIJJHHCBFGHGDA@?EKIHAACDCAAGKIAAGGFCEDBABKKDCDDFDAABBCBAAAAA@@AAFGFFGGGFFGGHHIHHHHHIJJKKJIJJKKKKLLLMLLKKLKKKKKJJJKJJJJJLLLLJJJKKJIHHHHGFGHHIJKJGCCGIFBCJPJFHFDBBEHFEBESQICBHLMKA@KQHCEEADHKGFGIONHEFEIIDCDCBABABBBAAAADDDDEDDDDDEEEFFEEEEFFGGFEDEFEEDDDDDDCCCBCCCCCCBBBCCCCBBCCCBAAABBBBAABBAAAAAABEDCDBCGGEDGHCCCAFIGEFJPKEJC?@BHNNIA@GIA@@AAGLLHKNIJJGFECHJDBCAAABBBBBAAAAHGGHHGGHIHHHHHIIIIIIJJJIHHHIHHGFFGGFGGGHHHHHHGGGGGGGGFFFEEDCCCDEDDCBCDCBCDDCCEEHLJFHLMLMFAFHFFEDHNPOHABA>>AJQNEA@@BDDAADOQJFHJGGGEFECDFBABAAABBBBBAAAAHIIKKJIJKKKKKKKKLLLMMMNOOPPOOPONPQQPPPQQQQQQPPOOPONOOONNMMNNMMLMLKKIIJIHHIIGFGFHKIFHLKNPIADMHBAACNMFC@@FG@?CJEDH@?AJJCAESRKEDFHIGBBDBCDCCDDBBCBBDCAAAABCDDCCCCCCCCCCDDEFFFFGGGGIJIIIHHIJIIHIIIJJKJJJJJJIIJJJJJJIJJIIHIHGFEGGFEEEEDCBABGFCCDBEHE?AIE@>>AKHAACAAEA>@BABD@?@ABA@@HLGGFCDHFBDFBEGFEDCBABAABAAAA@JJIIIIHHHHHHHIIIJKJIIJJJJJKJIIHHGGGGFFFFGGGGGGGHHHHIHIIIIIIHHHGGGFEEGFEGFCDGFBAEIGDA@ABCB@BGKD?>@HKGAAA@AGFAAEEBCFCADJEBEJHGJIIIGDGHDEGEDCBBABAAAAAA@@KKKKKKJJJJJJJKKJJKKJIJJIHHIHGGGFFFEEEDDDCCCCCCDDEEFGHHHHIIHIIHFFGGEDFEEGFBDGHEDDFHFAACA@AA@ABCA?>@EGA?==?HDAEPIABILEGLHCFJJJNLHFHEGGEEFDBCBBBCBBA@AAAAEEEEEEEEEEEDEFFFFFFFFFFEFFFEEEEEEEEEEEEEDDDDDEEEFEFGGFFFGGGGFECDFECBBDFFCAABBCBAADEBCBA@@????@A@?@@HC?==?@>>DNHAAENDAJEAAEIHEFCDIHGFGFEDCBBABCBCAAAAAACDCCCDCCBBCBBBBAAAAABAAABBBAABBBBCBBCCCBBCCCBCCCDCCDDCBCCCCBBBABBBAAABCCA@@AAACAADCA@AAAA????@@>>==AEA@??@>?ACA>>@DB@AAACGGFBCFHHHIIHGDBBAAACBBAAAAAAALLKKKLLKKKKKKKJIIIIIIIHHIIHGGFFFFFEEEEDEEFFFEFGGHHHIIHIJJIIHGGHHHGGGGFGGFDEEGGHGGJIEBCEEBHHHMNG?@A@DJJGDABABBDB@@@AC@ACEJICDDEJLIGHHGIGDDBBBAAAAAAAAAALLKKLLMLLLLMMMMLLMNNMMMMNNNMLLLKKJKKKJIIJJJIHIJJJJKKLLLLMMMLKKLMMLLLLIILKJIIJHFGILMKIKPNJMKNOGEFJJACLKIKMNCADBA@@@@BBBBBIIFFGGIJIFFGFIHEDBBBBBBBCCCBAAAAAAAAAAAAAABBBBBCEEEEEEEDDDDEEDDCCDDDCBCCCCBCCBBBCCCDDDDDDDDDDEFFEFFEDFECBBBAAAAAEIGEGFFFCFHA?ABA?@B??AEGAAEB@?>@?A@@@@ACFJGDFGGDFIGHHDCAAABBABCBAAAACCCCDEFFGFFGGHGGGHJJIIHGGGFFGGGFGGGHHIHHIJJJJKJIIJJIIJIIIIIIIIHIJKJKKKIIJKJIGHIHFGKMJDDHJLLIJG@AHCBJNBAGFCBAGGCAADCFCAAACFGKEACFJJJKHEEEEBAACCAABBAAAABBBBBBCEEDCDEEEDEEFFEFFFEFFFGFFFFFFGFFFGGGGGHHFFFEFFFGFFFEFEFFEEFGGGGHHGHJJJIHJKGHJIGEFGHIMMOLFILB@BKGEGEA@@DEGGDA@@ACBACEEHDACFGEFFFFDFGDBCEDBAAAAAAAGGGFFGGHHGFEFFEEEFFEEEEDDEFFFFGGGGGGGGFGGGGHHHGGFEEFFGGGFFFFFGFGHIHHGHIJJJIIHFHJIHGGGJMIFDDFHFDILGGKMJHF@??@ACFFGEA@AIFAABEEBADIKHFEEGGGFCDEDDDCBAAAAAWWWWVVVWWUUUUTTSSSSSRQQQRRRQQQRQRRRRRRQRRSSSSSRRQRRRRSSSRRRRQRQQRTTUTSSTVVRQPNOQQPRSPPSRLMSRONMOQSUSLHHOJABJMMOPICFFLNIBBFIDBGHJNMIFDDHHHFFECDFECCCBBBQQQRRRRRRRQQQQQQQRRRRQPQRRQPPPPOOPPPPPQPPQQQQPOOOOONNNONNMMLLLLKLMNNNNNNPOLKJKMMMOQRMILPLJOOHJIMLGCA@BGJLFCJNJLPIDEGKLHAABAAAEEFJJDAACEFEEEEBBDCBBBAAAGHHHIHHHGFFFFGFGHIIIHGGGHIIIIIIIIIIJJJKJJJIIIHGGFFEDDEFEEDCCCCCCDEEEEFEEFEDCBFGGIIHHCABDCAA@?@ADFB@@@ABA@CFCEHJNIBAHMNGAAA@CCHGCEFDABDBBCDEEDBBBBBBAA@OPPOPPPPONNNNNNOOOOONMLLMMMNMNNNNMMNNNNMMLKLLKJJIHGHHHIHHGGHHGGGGGGHJKIIJIHHHIHFJKGHIEEEA@BCA@@@AFFBCINMBFC?@GMNLFCJMQODAAGMKLKEEEEDFGDBCDDDCCCCCBBAAATTTTUUVVVUUTTTTTUTTSSRRQQPOOOONNNMMMMNNNNMMMMMMMLLKLLLLLKKLLJIIJIIIIKKJJJIIJLMKGIJFHHHJKIJPPME@ABLLDDJMPKC@@?GVRQRJKJIJIECJNIIKJHEFEFJIGGHFEEDDDCBBBBDLMMMMMNOOONMMNMNNMMNONMMMLKKLLKJKLLKJKKKKJJJJJJJJIIHHIJIHGHIHFFGGHGGGGFEEGHGGHJHGGDBDGJNKLLFEEHIBGCADJFEFAEKADJDFMLHCBFIAAGLHHIIHEGGFIJHGGFEFFDBBAAAACLKKKKLLLLLKJJKKKKKKKLLLKKLLLMMMMMNNMMMMLLLLLLLLKJIJJJJJJIIJLLJJJKKKIIKJGFIJJJIJJJLHBDHHHHGA?BINIABCCLRHBA?@CAAGB@AEDAAFE@AFKMGCFHIIHFHIFDDDCDDBAAAAAAAJIIIJJJJJIIHIIIIIIIIIJKKLLLMNOPOOPPOOONMLLLKKKKIHGHIIHHHHHIJJIIIJIIIHIJIJJJJKGHKKOKCFHIJEB@?@CFDA???CIB?@ACDA@A@?ADKJGDAADGKMGDIMMGFGGGEDDBABBBAAAAAAAONNNNMMNNMLLMMMMMMMLMNNOOOOPPQRRRSSSSRRPPOOOPPPOONNOPPOOOOPQQPPQPNNONMOOOMLLMMPPNPPJJKMOGAAA@@ADDABAAACAABFE@??>@HDGKIEABCEILMMORKCDHJJHHGECCCBBCCBBABRQQQQPQQPONNONNNNMMNNMMMNNNNNNOOPPPQQQQQPPPPPQRRRSSSTTTSSSSTSRSQQPNONOPNMNLLNNNMLNNLNMKMF@@CFCAADGIIBABEFGJOHCIJGHHDEDCIIFGFHLLJKEBEHIJGHHGEDCCBCCDCBCKKJKKKJJJIHIIHHHHHIIIGGGHGGGGGGGGGGHGGHHHHHIHIJIJKKLLLLKLKKLKIJJKJHGFGHIIHFFFEFFBCDEFDBDA>=?A@@ACDFGA@AGIFIOQGGECBBAAAAIGBBEFIHGFDBBCGGBBDCEDCCBBAAAAAJKJJJJJIIIHHIIIHIIIJJIIJJIIHIJJJIHIJJJJJIJJJJKKKKKLMMMMMMMMMLKKMMLKJHHJKJHEEFGHHDCDEFEDEEBBBBDKMNMLFEGGGDBEJLHA@@==?FPRJCABHEDFGHHGDDFEBBDCEEDDCBBAAAAGGHGGHGGGGGGGHHHHHIIJJJJJJJJJKLLKJKKJJJIIJIIIIIHHHHIJIIIIIIIIIIKKJJJIHJKIGEEGILJFDGJGCHMKGEAAEJHRYXMEFKICABHIJGBA=>AJTQJCADKGDFGEEEDEGFCCCCDDDCBBBAAAAGGFGGGGGGGHGHIIHHHHHIIIIIIIJJKLKKJKJIIJIJJHHIIIJJIJKKKJKKLKJKKKKLLLLLKJJIIIIKMPMGGKMJEHKKHEBADF@AJNIBAEDDBDHFABA>?CGIKFGFHIIIGHJHFFHIJGCBCEEEEECBBAAAAFEDDDDDCCCDDEEEEEFEFFFFEEEFFFHIHGGFFFFFFHGGGGGHHHHIIHHHIIIIJIIIIHHHHGFEHHIHGHIHFBACEC@@BDBA@@CD?>ABAA@A??@AAAAA@>@EFEDAABFFFHEBGGEDFIJFBAACCBBBBAAAAAAHGHHHGGGGGHHHHHHHIIIIIIHIIIIIJJJIIHHIIHHIIIHHHHHHHHGHGGGGGGGHHHIHHHHFDEIJIIEEEEBAAABHEADCA@@BDA@>ADA@A@?>>>>@FGABEAAABBACEA@BCBFGGGEGHFDAAACCCCCBAAAAAIIJJJJJKKKLLLLLLLMMNNMNNOOONNNNNNMLMNLKJKLKKLLKJJJJJJJIIIJIHIKKKKKJJGGHKKJJHIHGEDBBBFGEHICAACBADACJCBDA?>>?@BFBAHJEEBCDCFED@@BFHGJIFGGFCAACEDDDEDBBAAAQPQRQQQRRQRSRRRSRRSSSRRRRSSSSTSRSRQQQPPPQQRQQRRQQQQQQPPPQQPPQRRQQQRPNPRRQQQOOOPPQMKIGGCGLKMNOJBECHOLIEABBA@AEJGBHLKIHIJHKMPFACHKJJIGGFFDCCEFECDDDDCAAAQQRRRRSRRQRRQQQQQQQRQRQPPPPPQQQQQQQQQPPPQRRQQRSSRRSSSSSSRRRRRSRRQRTQPPQQPQQNMNMNPMKIKIAACCJLMNHEAAAAEEBADMNJGKNDAGMLHJNKKMSOHHIKLHGIGFGFDEEDCDDDCCBAAAJJJJJKKKKJJIIIIHHHHHHHHGGGFGIIIJJLLLLKKKMMLKKKKJIIHHHHGGGFFEEEEEEFFEGGFEFEDDDECACCBBGFA@?@DCCHA=:;>@AAA?ALM@>AFBBIMJCDFEEFIKHDDHIEBCEHIFDDCBBBBBBBAAAANMMNMNMMMMLJIJJJIIHGGHHHHHHIJKKLLMLLMMMMNNMLLLKKJIHGHHHHGFFFEEEFEEEEHHFEDCCDFIHCCA@@EFGEDFGJIEA?@?@ADGFHGGA>;@C@@ADLLHCA@ACFECFOQLFBDHHGFEBABBBCBAAAA@NMMNNNNMMMMLKKLLLLLKKKKLKJKKKKKKLLJJKLLMNMMMMMNMMMLLMMMMMLLLLKLMLKJKKJJIHGGHKLIGFBAABCFGFJJLHBAA@@AIOMGMKA@@?@ABAADMKFAADFHDABFMQMHEFHGEEECABAABAAAAAAEEFFGGGGFFGGFFGGGFFFFFFFEEFEDDCDDCBBBBCCCCCDCCCCCDCCDDDDDDDDDEEDCDEEDBCDCBAAABBA@@ABAABDAACB?==>>@ADHFAAA>==?CEA??ADACBAEHGDDEFJLGDDEGECCDCBBAAAA@@AA@FGHIHHIIIIIIHIJJIIIIJJIIJJJJJIIJKJJKKKKKKJKKJIIJJIHIHHIHHGFFGGGFEEFFECBEECAAAAAAAAFDAEJFBCIH@;==>@@AFFAAA@?>@JKDA@@>=@CBBBCCEFFIJHGDGIFBCDCCDCCBAAABBAKLNNMMMMMNMMMMNNNMMMNNNNOONNNNOOOOONOPQQPPPQPPQQPOOOONNMMMKJJKLIIJKLLJJLMLKJHGGIMNMJJNLFDBDEA@BDCCAFOMCBGF@@BKMIIFA@@AABBFIHIGGKKKJFILJEGHFDDDDBBBCCBAYYYYYYYXXXWWWWVWVUTTUUTTTUTTTTUUUUTTTUVVUVVUUVWWVVVVUTTTSTSRRRRQRSSSRRSSSRSRPNQSUVSPRSOOMHINPROMMQOPTOGIQNGGJGGHFDDCBGFDGLPNMKJMMMKGHJIEHIFCDEECBCCCBBVWVVWVVVUVVVVVVWVUSSSTSRRRRRSSSSSSRRSSSSRSSSSSTTSRRRRRRRRRRRRTSRSSSQPQRRQPPOLJJMQRPNNNKLJGILPUNMMNNMLHINWVSPLIA>>AG@?KNFIKKIIJJLNLIEDFFDFGFEEEDDCDDCBAKMLLLLLLLLMMNNNOONMMNNNMMMMMNNMMMMNOONOONNNNNNNNMMLLLMMLLLLKKMLJKKJIIIIIHGIHGFFGHIIHFB@AAAEELQGGGDEILFDISYYPIFA@ADC@BPJCFCEHDEGJKGDCBDDBDEEDCBABBBAAAAHIIHIHHGHHHIIIIJKKKLKKLLMMMNNNNNMMOOPPPPOOOPPOOONNMMNNONNNNMMLLJJIIJJIGGFEFGGDEDCDFFEBAA@ACFKJCBB@@@@A@@BOSHCHHDBAA@BFCCB@AGDHLMJDBBADEDEFDBBBAAAAAAAANNNOPOOOOOOONNNOPPPOOOOPPOPQQQQQQQQRQRRQQRRRRQQQQQPPPQRRQQQRQPPONNNOOPOMLMMMKHHGEDDFGILKGGJKLIDDFCA@@@@FIKJADNOKGBAACGHGBBFHHMMKJEBBBHIEEFDBCCBBBAAAAAWXXYYYXXWWVVVVUUVUTSSSTTSSSUUUVVVVVWWWWWXYYYXXXWVVWWVVWWVVVWXWWXXWWVWXZXVVUSQQSRPMKNOQUQLMSTTSLLGAAHJJIOJDCGONKKGAAELLJHEKOMKIIJLKHGFGIFFFFCDEDCCBAAAARSSSSRRQRQPOOONNNNMLLLLLKKJKLLLMMNNOOOPPPQQRRRSRQQSSRRRRRRRRSSTTSRQRRSUVTRPNOPRRQMKLLKNKEIQPJKIFB?@BIKFGE@AGIA?AFBACHIIFCJPNHDCFHIIIJIHDCDDBBCCBBBAAAAPQQQPPPPQPPPPOOOOOOONMMMMMLMLLLMMNNNONNOOOOOPPPPOOQPPPOQPPOOOOOONMMNOONOPPOLMOPOLJKMNIIIEKSTJJLJFABGJMIA@BFEFB@DKGA@DJLHFKQRNGGKLHHGGHHECCCCCCBBAAAAAAPQRRQQRRRRRRRRQRSSRRRRRRRRQQQQRSSSSTTTSTUTTTUVVUTTTTTTTTSRRPPPPNNMNNNLKLOQPMMLNPLIJMPOOOPQQYUSPNMKJMTVOA?HLA@AFLLF@?ELKJKLMPOHGKMGDDEJLHFECBCCCBAAAAAAOPPQPPPPQQQQQRRRSSSTTTUUUUTTTUTTUUTUUUUUUTTUUTUUTSSSTTUUSSRRRQQPQPPPPOMLPQPLMLMOLLJHIJKNRTSVRMECILKMSRJA@EB?AEHGEBBAFJIHHILPJCEIJGDBEJIEEDCDEDBBAAAA@ANOOPOOOOOOOPOPPQQQRSSTTTSSSSSTSSTSRRSSSRRQRRSRRSSRQQRRRRQPQQPPOOOONLNOMKMLLKMKIIIIFDBABEJMLNQPHINMHIKHDGD@@AEFCA@?AAIHDA@CJPGABGIFBCFHHFFEDEECBAAAAAAAHGGHHHHIIIJJJKLLMMMNNONNOOOOMNNNNNMMNNMLKLMMMMMMMLLLLLMMLLMMMMMNNMLLMNLKLJIIJHGFEDB@@?@ABBA?@D@AED@>?ADGEA@@ABDEEAAAHFA?@BIMGBAGMHCFFFGFFEDDEDBAAAAAAALKKKLMMMMNOONOPOOOPQQQQPQRRQOOPPOOPPPONNNOPPPPPOPPPOPOOOOOOOOPPQPPQRPPOMLKLKKJIHHJIIGBBEHGCABEAAHJD@@ADABD@?AFJGHHHIKHBADHIKIGGLJEDHHHECDDCDECAAAAAAA@OOOOOPQQQQRRQQRRRQRSSSRRRRSRQQQPPPQRRQQQRSSSSSSRSSSSSSSTSRQRRRRRRRSUSQPONMOPONKIKNNOMJHHHHJKNSQJIIHCAABCBDAAHNMDDIMPOIFEGDFJEEKNJEFFGIGDDFEECBBBBBAAA@YXWXXXXXYYZZZYYYYYYYYXXYYYXXXXXWVWVVVWWWXXXXXXXXWWWWXXWXXWVVVVVVUUUVVTRSRQSUTPNMNNMLJLKDELRRUYREAAFHGJHKMNOLNQOJKLPSRQPHGDFMIILNMJJIIKKHGIIGEEDDCBAAAAYYYXXWVWWWXXXWWWVVWWWVVVVVVWXYXWWXXWWXXXXXXYYXXYYXXXZZYXYYXXXWWVUUTTTSSSQNPRQNPRSRPLFFHFGHMRRSSLGADKJGILGGNFCEHOPPSPQRPHGCEPNJILNLKJJKJHFHGGFFDCBBAAAATUUUUTSSSSUUUTTTTSTTSSRRRSTTUUUTTVVVUVVVVVVVWVVVVWVVWXWWWWVVUUUTSSTTSSSROMNNQRRRQOPQOKHEGKPRNLQUOABRTLHIGEJCBFHOTWWOMLHABAEMKGFMQLHHHHGECEFFEECCCBAAAATSTTTTTSSSTUUUTTUUUUTSSSSTTTTTSRSTTTTTUUUUUTTSTUUTTTTTUUUUTTSTTSRSUVUTTUTQPQUVRPPPPTSNGEIQSQPKNVQEHU[SKKLIHEEBAJWYSIGKIBCDKLFEGLOMIFFIIFDDEEDCCCDBAAAASRRRSSRRRRQRSSRSSSQRSSRRSTSRSTSSTTSTTUUUUUTUTTUUUTUUUUVWWVUTTUUTTTTTUTTUTSQRUTPOQROOMHFIIJMPLDILHGLOPOSQHHDABAAHNDAFIMMFADJJCFIIKNLHFHJGGHEDDBCCCBBAAAUUTTVVUUVWWWWWWXXWWWXXWWXXXWXXXWXXWVWXXWWWWVVUVWVVWWWWWWXXXXXWWWWVVVVVUUTTRRTSRTTSNJLKMSLGLTSMKKIJNQPUWSMNMMIDBFJDCPQPMJHLQOFJLKNNLHFFIHGIGGECCDCCBAAATUUUUUUVWWWWXXXXXXXXYYXXYYXXXXWWXXWWXXWWWXXVVUTTTUUUUUTTTUUVVUTSSSSTSRQQOLMQQOORSMJLNNOPJHMPPONRRJBJSSIMORTSQKGIJGFNMLMNMPRNKLLNPOKJIJLJFFGGEDEEDCBAAASTTTTTUUUUUUUUTUUUTTTUUUUTTUUUTTTUTTUTTUUUUTTSTTUUUUUUUTTTTTUTSSSRRSQQPNMJJOPNNONHGKLLJJFHLKCBEMSNBEQPHOSRQOQRQQMJLLHILKIOPHHJKNOLJLLLMKFEGGFFGGDCBAAAPPPPPQQQQPQRRPPPPPPPOPPPPOPQQQPOPQQRQPPQQPPQQQRRSRQQQRQQQQQQQQPQQPOONNONLKJLNMJGHHFEFHFKHDCEBACACHCAHMPRQKHBBJIKHEIBAECADJGBACGIHFEGGJLIEEGGDEEEDCBAAATTSSSTSSSSSTTSSSTTSSSSSRSSSSSSSRSTTTSSSRRQQRSSTTTTSSRQRSSSSRRRQRRPPOOPQQPOMNNNMKJJIJKNOPIGFHJHJFFFBCLRMGIGCA@AEIKFGCABCEGHHEABFIFBCEHKLIGFGFEECBBCCBAAPPPOOOONNNNNONNNONNNNNNNNOOONNNNOOOOOOPONNNNOOOPPPOONMMMNNONNLLLLLLKKKJLMLJLKJLMLIHKHEDDABFNND@@BEA@AGB?@@@A?AGEFJLIDFHGHIHGCDIOJEHJKMMHGHGECCBAAABBAAOOOOOONMMMMMMMLLLLKKKKLLLMMLMNMMMNNNNNNNMMNNNNNOONNNNMMMMMMLLLLLKKLMLLIHLLJKKJKMMJHHGDCDDCEPQFBFELG@??@??@@@@@BBAGKHJMHCDDFECEIPOKKMMMJFGIHFCCCAAAAAAASRRRSSSRRRRSSSSSSRRSSRSSSRRRTTTRRSTTSSSSSSSTSSTTSRRSSSRQQQPQRRRRQRSRPRQOOQPNNNNOPMJKKJJIHFEOQLMUVVIA@?@BCDBAA@EHAFJFMRKEBBEFEHNSQMIIKNMIKLIFFGFDCBAAAARRRRRSSSSSSRTTSTTTSTTTTUUTSUUUUTTVVUUUUUVVUUUVVUTTTTTTTSSSRRTTSSSSUUSSSQRSSOOPOMLLOPOMKHFDEPOJHLWYKILEEFHHAHMGMSIHGDKSPKCBBEILMQPKHHJOPMLLKIFGGEECBAAAXXYYXYYYXXWWXXXXXXXXYXYYZZZYXYZYY[[ZZZYZZZYYZZZYXXYYYYYXXWVVWXWWWWXXWWUUUUXUUUOLOSXYTSONPLKTROLIT[QPVUMEMNEMTRRZRLNOOORSTOLLMLHLNOPONPOKIJLJFFGFDCCBBB[]^^]]]]][[[]]]]]]]^^^^^^```_````aa`_``aa`````_^^^^]]^^][ZYZZ[[[[[Z[]]ZXWY]ZWURQVWZ]USQQVWUVTUXUUXQPYVNJPRTYRIKQMJOQPMONOPQRPNJMPRQPNPOLJKLLIHIHFDCCCDSTUUUTTTUTSSTUUTTTUUUUUTTUVVVVWWWWWUUWWWWWWWWWWVVVVVVWWVVUUUVUUUVTSTUVVUQRTSOMNRVTSUUTSQMPOPOPRQQVQONHFIMNNUOAAEHIJKNJIHILNNMOKMPOMMLONMKJJKIGIIGDBBBBNOOOOOOPOOOOPQQPOPQQQRRQRRRSRRSSSSSSTTTTTUUUUUUTUUUUVVVVUTTUUTTSSSSTUTTSRRSQLKOSURNNPNPQLPQOONJLNOLOKEEIKIEORJHJGFDCKOOLHIIHHMLKMIHKNPNLKJJJIHHHGFDBBARRQRRSSSSSSSTUUTTTTUUUUTUUUUUUUUVVUVVVVVVVWWWWWWXXWWXXXXXWXXXXXWWWWWWUUWVSSSQPSUYXTPMMPUURSUVOCDKOKKIIJOLILRQOONNNJEIPRKFHJKJNMMPLHILNNKKLNMLJIHGGEBBBUUUTTUVVVVVVVWWXXWVVWWVWWWWWWWWXYYXXXXYYYXWXYYYYYXXXXXYZYZ[[ZZZ[[ZZYYXWXWRRUVUUVXVVRNPSUQIJT^WIBIPLJKLNXXRPOLJGEGMRODEMMGFGJMQRSSPNMKPQMLMNNNMKIGFEDBBUVVUUVVVUVVVVWWWWWVWWXXXXXXXXXYYYZZZYZZZZZYYYZZZYXXXXXXYYYYZZYXYYWVWWVVVTRSUTTSVVUURPRQOMKNQXVOMUVIACCKYYTIJIBA@AGRSHIQNIMMMOMOSQNOOLPSPNMMLMKJJHFDDCBVVVVVVVVVVUUVVVWWWWWWWWWWWWWVWWWXYXXXXXYYXWWWWXXXXXXXWWXXXWXYXWYYXWWWWWVTUVWVTSUTVVVWUQMOPNHIPRLOOD@CBDFIKAADBEEFKPRLOPJBHPRQOTUQLLLMPQONMMLLKJJIFDCCC[[Z[ZYYYZZYYYZZZYXYYYYYYZZYYZYYZ[[ZYZZ[[[ZZZZYZ[[][[][[ZZYZZYZZ[[ZYYYZZZYZ[ZWUWZ[[YWVWYTSRLGHORLKJJKPQNIMOLMLKLHENNLQUOIDJTTRTUVTONOPQPMOOOMKJIIIGECCC][[ZYYYZZYYYYYZZYXYYYYYXYXYYZYYYYZ[YYYYYYYYZYYYZ[[[[][ZZZZZZZ[[[[YXXYZYXY^^ZXY[^aa^XWYXSOLJHKNOPQMJLKLJJUUROIQJAANMGOUQNIOXVRROSSORVTRPNOPONLJJIIHGECBXWWVUVVVVVWWWWWWWXXXXWWWVVVVVVUVWXXWVVVVVVVVVVVVWWWWWVVVVWWWVWWWWUUTTWXUTWWTV[YUX[XTSSPQOJIJORRRSNJGJHA@ELJFFTJA@HIIMPQQIKTVRNMQPORTQONKLNMNMLLJIHGEBAWWWWVVVVWXXXWXYYYZZYXXXXXWWWWWVVWWWVWWWWWWWWWXXXXYYXWWXXYYYXXXXXXXWVWXXVSTUUX^ZUWYWTTTSTQNNKNSUSSRQKNNFGGLQPMOJJBADINNMLGGPTNKLQSSQPPPNKLNNNMMNKIIGDBAWWWXWVVVWXWVVVWXYYYXWWWWWWWVVVVUUVVVWWVVVVVXXXXXXXYYXYYZZZYXXXXXXXWWVVVXWUTUVYWTRSTRSWWPJORNRTVVRPSOOSSYTORVQLINIBEKOTWWSMNMMLMRTRQPRURNOPOPNNNKIHEBBAUUTUUUTTTTTTTTUVWWVVUTUUUUUTTUUUTUUUUUVVUUVWXWVVVUUUVVWWWWWWVVUVVWUUTTTVURRTUVVUSSSQRSQNORTQOLMTTSPKNOTZVRNOKIIIHCBBFNUXTPPPNMOQQQTTRURONPPPONNLIGDBBBVVVVVVVVVVVWWXWXXXYXWWWXXXWWVWXXXWWWWXYXWXXXYYXXXWVVWXXXYXXWWXXXWWVUUTVYWTUXXXWVSSSRVTOQUSQSRQQQTTQNHAHRX[WXRRNKNGEEGKQUSUWVRSSPOQTURRPNOQPPOMMLJHEDDDVVVVWWWXWVWWWXWWWWXXXWWWXXXXWXXYYXXXXYYYXXXXYYXYXXWXYYYYYYXXYZYYXWWWXXZZXWWWVVWVSTVTUVSSVSQPSTUPKGGKJDJPNLLNPPLQQHIMQRRWYYXSQUWTPPRQPRRQPPOPONNMKHFEECYZZZZZ[[ZZZZZZZZZYZZYXXXXYYYYYZZZZ[[[[ZZZZ[[[[]]]]]]^^^^^_^__`__^^^^^^_^]]^^]^^^[]^XUXZ[[YYUVXXUOPPKFLQRJBCHPOPTUMIKNNPWXUUORZ[ZWTSPPUUSRQOOOOOMKIGFECVVVWWVWWWXXYYYZZZYYYYYZZZZZZZZ[[[[]^^]]]^^^^^]^^^^^^^^^]]]^^_^]^^]]][[]]]]^`_^^_]^^XRTYYYXWXac_USZWNGKSUMCGLGDFNROKIJOPQPQSONRUWWROQSVTSQQQQOOOMKJHFEDTTTTTTTUVVUVWWWWXXXXWXYYXXXYXXZZYYZZZZZ[[[[[[ZZZYZZYZZZZZZZ[[ZYZ[ZZZYYZZZYYYWWZ]]ZWVUSSUUTSSac_UTXXSLPZ[ROUNCBEOOKJIKSQLOQQNHIQVWTSTUVSQOQTTQONMLIGEDBSTTTTTUUVUUVWWVVVWWWWXXXWWXXWWXXXXYYYYYZZZYZYYYXXYYYYZZZZZZZ[ZYYYZ[[[Z[[ZXWUUXZ[ZVVYWSOQTUVTXQMPOOSRNT_^TRTPGCHOKCCLTWPJKORNJJOSTUVUUVUROPRRQONMKIFDCBUUVVVVVWWVWXXXWWWWXWWXXWWXXXWWXXWXXXWWXYYXXXXXWWWWWXXXXXXXXXYYYXWXZZZYZ[[YVUXZZXWWZ^WRSTUXYWWPPXUNOQQQTTRVSSOEIPLFHSZYVUTQQRNMPSTTTSTVWUQPQQPNNNLJHECBRRRSSTSSSTTUUUTTUTTSSTSRSSSSRRSRRRRSSTTTTTTUUUTTTSTUUUVVVVUUUWWWVVWVWXZZYWUTVVTRUWWYWPSSQTTQURTYZOOTPJA@AJKMKDMTSPKLQVYZXQLMMOTUURPQUXXVSPPPOOONMJHDBBSRRSTTUTTUUVUVVVVVVVUUUTTUTTTTTTTTTTUVVUUUUVVVVVVVVVVWWXXXXWWWWXWWXXXWXZZXVUVWTSVZZ]ZTSQPPRTVTRRPJLQNKDA@LRLQQRPNNGDIQTTVUSROPTVVQNQTXUSSQPQPPPOMJGEDBUUUVVWWWWWWWWXXXXXXWXXWVVVWWVVVVVVVVWXXXWWWXYXXXYYYYYYYZ[ZZZYYYYZYXYYYZ[[[ZYYYVUY]_`YSPNQV]^[YVQJGLNKJKQKMKKQKLMGCBEIORSSNPTTPOSUPORSUTQPPPRQQPOMJHFECSSSTTTTTUUTUUVVUUVVVVVVVUVVVVVUVWVVUUVVVVUUVWWWVVVVVWWVWXXXWWWWVWWWWXWYZYZZZYYXUWX[ZUSSRSY[ZXUUSMOWTPIITTICLWSOLLMOSTUWTQNQUUPQXXSRRQSSQPOOQRQQPMKHFECUVVVVVVVWWWVWXXWWXXXXXXWWXWWXXYYYYYYYZZYZZZZ[[[[ZZZ[[[[]^^^]]][[][[]]_```_^__]YWY[[WUUXZY``]YVXZW[ba_UPRVTTWXYWPSUTZXUTRUXXVTRSXXSTVUWVTSRRRRQQQOLIGECVWXXXXXXXXXWXXXXXXXXXXWWWWWWXWXXYYYYYZZYZZ[ZZ[[[[[Z[[[[]]^^^][[]]]][]^^]][]^]ZXYZZXWYXZZV[YSQTVVZ]ZTUVRLKQZYXY^[WVWZWUOMSZZVTOPUVSSTUVUTTSRRQPOPOKHFECYYZ[[[][Z[[[[[[[[[[[[[ZZZ[ZZZZZ[[[[[]^]]]]]]^^^]]]]]^^^]]]]^]][^____aa``_^__]]^`_^^_``cb]^XWX`aaee_TTXUNLQ]^]]_c][YY[]VSUZZTNMPVVTSSTWWVUSTUTQQRPMJHFEUVVWWWWWWWXXXYYYYYYYYYXXYYYYYXYYYYYYYYYYZZZZ[[ZZZZ[]]]^]][[]]]]]_`aaaa`_`ab`]^]_ZY^`^^a_YXTTVZ^[Z[XTW[[QLLPTVZ^ZYZXSW[[XTUXWRUUWXVVVVWWWWUUUUSQQPMKHFEYYYYYYZZYZZZZZ[][[[[[[[[]][[[[[[[[[[ZZ[[[[[[]]]]]^^___````_`bba```aaaaa`aaa_^_`b`[_`[[]ZWXYXXXZYVYYTU^eaUOPRSWWUZXSQVYZUUUVXTTUWXVWVVXXWVVUUUTSRQNKHGEXWXXWWXXXXYXXYZZZZ[ZZ[[]]]]]]^^]^^^]]]]][[]]]^^^^^^___```_``aa``_``_^__ab`_^^__a_]]]XYYWWXXUX][[XYWSVXY]XUWQRXMIRRQMKNRRUUVUPPQXZWXVVWWVVVUTSTTQOLIGECVUVVVUUUWWWWXXXXXXYYYZZZZZZZ[]]]]^^]]^]]][[]^]]]]]^^^^^^^^^_____^^_^^_^__^]^__^`^Z]^[Z]Z]_[VTV]b]XTQUUSURRUOSVQONOVVNNSSRPSVSRRY[XVUUVVTTUUTSSSQNLIFDC]]^^^^]]^^____^___^^______^^_a``aaaabbbabbbbbbbaabccccccccddddddddcddddddeffddaccdhigegddgfc_[cfc`_YZ[WTPQNNTWY^XX]^ZYZVPQX^[XY^^ZVVVWXVTUUUVTRRPMKHECZZ[[[[[[]^^^^]]^___^^^_______`__`aaaaaaabbbabbbbccddddeddeggfggfffeffefggghhhheddfhlkklhbbhf`^ggcce_UY^ZTWRPWUTVRXZY^_YUTVYZZZ[__ZWVXXXWVVVVVUTSQNKIHEVVVWWWWWXYYZYYYZ[[ZZ[[[]]][[[]]]]^]]^^^^^___^__`a```a``aaabbaab``aabbaaaccdcddb_`bcfddhd^`da__`a_cfd`^[[WXVY[XUQMSRPS[]WUY^[[ZXZZYYVVXXWVWVVUTSRPMKJHEUUUUUVWWWWWXXXXYYYYYZZZZ[[[[[[[[]^]]^__^^__`__````____`___```_```abbaa``cca`__^[_``ba_`^Z_aa^ZW[^[XVVUSXXYWVX^[URYWRRX[VTY`_ZWVXXUVVWYZXVUUVUSRQNMLJHEWWWWXXYYXXXXXYYYYYYYZZZZZ[[[[[[[]^^^^^^^^^^_^^__^___^__`__`aabbaabbaabbaab`^_``^`c`^_aa^[_ZZYYXZYUPOPQUZY[YVXYVXUXYVXYYZY^b`YTTXXTTVWXXWUUVWVSRPMLKIGDXXXYZZZZYYYXYYYYYYYYZZZZZZZ[[[[[]^^^^^]]]]]^^^_____^^^__`_`aabbbbbb`abcb````aa`_abbbaca^[[YZ^[WZ__ZVUU]`WUUUUTWXXVRTZ[[^]_a_XTSWVTSTVXWWVWWVTRQOMLJHFDZ[]]][[]]]]]^^^^^^^^^__^^^__``___``````a```aaaabaaaaababbbbcccdddddcdefgdcccbbcbdbcfec^][[]]_[YYVVZ^YWVXTUWZ[XWRSSRVYXXXXZ]ZYYWYVSUVXZXWXXWUTSRQOMKIGEXYYYZZYZZZZZZZ[[[[[[[][ZZ[[]]]]]]]]^^^^^^^_______^^_````___`aaaaaaabcdccaabb`aba```^^`]_^YXVWWWXRPTZZZZTSWY_b]XQRW[ZYVTTTTVWWYX]]ZZYXXWXYWVUTTSROMLIGDXXYYZZYYYYYXYYYYYYYYZZYXYYYYZZZ[[[Z[[]][]]^^]^^___^_``_`````___````_aaaaa`aa``bb`ab^_baa_XTUXYZ]ZUTSV[_XZ[^aa]XRUZ_^YWXXUSTUVXWY[^[YWWWXXWVUTSTROMKIGDXYZZZYYXXYYXXXXXYYXXXYYXYYZZZZZZZZYYZZYYZ[[Z[]]^^^^^________^^^_``_^^^`a``a_^_bdaac`^^__]XUUYZZXUUZ]XUUQTU_a_[WX]ZY^]]a^VSXWTRSWWZ]YVVWXWWWUSSSQOMLJHE","c":"@@CB??@BED??@@??@??@CDA??@@EKIFDBHKPSQQTRUXX[^^aekkgkrqsw~~||urtrppsqfeig`Z^ZYWPURSMMJMLSQKIFC@DJDA??AFFDCBADCBBDD@@BA@@@@@@@@?@@A@@@@ABCCA@@@@@??????IDB@@CBBDBCCCDBA@?@??@EEADEFEGIJGIOSWWUZYY`__beeimkhlqry{|~x{yywvqpspqmlihcd^[ZWWUSSSSSPOLJKIGHJMFDDHKNLD@DGIGIIHEBBC@ABA@?@AAA@@@@@@@@BCCBA@@@@@@@@??EIFA@BB@@CBACFAAA@B?@DD@?A@?@EFFCFLQQTUWXXZ[aaaafggmnqswzzy{|{|wurromlihfhda^bb_]XVTUQMLJNNGEIGGKGDDEDFHEDDBDABCA@AABBBAAA@@@@@@@@@@@@@BCCBB@@@@@@????>@B@?@CBCFA@A@@@@@@?AC@?@B?@BAAGHGHJILQUWUY[a^^abegknnqttvyxzytrvrqomjdc_ac^_^[ZYSRPNNPNMLLIDDDFHDDEBBCD@?@AB??BB@ABBAA@@AA@@@@@?@@@@ABBA@AA@@@@?@@@?@>>??????CGC@A?>?@@@?@CA??@@ABCCAADGMPQPRWXYZ`ddddfffhkjputuvzxurqlkhgifdcb_Z]ZZZWUPNPLLHIFGJEEGFB?AE@@FFAA@ACBADEB@@@A@@?@@A@@A@@@@@@@@AABCB@@@@@@@@@@??BCBBCBCB@@ADA??@@@@BDCD@ABCEDDCGNQOPOTTV[[^]acghghkljoquvuwutronplijgdde^[Z]_]UPOPOKLJHIJIFD@@CCEDAA@ABB@@@@CHCBA@@@@@@??@@@@@@@@@@AABBCCCB@AA@@@@@@??ABCABCB?AB@@??@@B@@BDAEF@AFHGJKMMNPSWVUTU]__cfgffhkonosxyvzzwusmqokkjhec`a^_ZVVUVTMKMKJKKJHGHGFFCDA@@DCDFC@ACFC@@@BBA@@@@@AA@@@@@@AABAABABBAB@@@@@??@@A@?ADA@@?AB@?@?@@@>@BCED@BCEBFLOKJNSWTRSUX`aefdgihjmpqpwzwy}xqutqnjigjihd`]][XWSSPNOPMMMKHGACIHCCBFB@BBAEDBDA@@CAAAAAA@@@@@@@@@@A@A@@BBA@AA@A@@@@@@@B@???BA@???AB@?@@@A@?BBAFH@?BFCGLOLILLPTUVXY^`cbahhglnonoswuuvvstqmjhgjngdgc^[YUUVTQKNSRQOLLIGBACDDCA@EHC@ADB?@@AAAAA@@A@@?@@@@@@@@AA@ACA@@AAABBB@@??@?@???@BC@???@@??>>???BABC@@AA@?@DIIFHLNOQUWWWY]][^ciommmkkrsswvqqongdccd[Za[XZXTTSPNJHLMIGGCCAA@>>??@?@CCCA@AA@BC@@ABA@@@@@@@@@@?@@@@@@AAAAAA@@@@@@??@C@@@EHD@A@AAACFDABABCEEBCDEIIHFGLONMOSTTU]`___ceeegimsustrzzvsqvvppkljfgb^b_[`_YZ[VRQSQONKJGJJJIFGDCCCDDCBBBDFFEFCCCCBABBA@@@@@@?@@@@@ABCBCA@@@@@?@@@@????CEA@>>??>??CCAA@ABCBA@@DFEBDHJJLNQPSUVVZ]XZ]`egeflorwwywsroqqlljkijkd_^^[^ZVVUMOQSNIJIIGHFGHABDIFEFFB@@ABA@??@AAAAAA@@@@@@@???@@@@@ACCBABA@@@?@@?@?@??@??@?@C@???@A@@A@@ACGILIDCABEJJJNRORRU[_^_]`^dhimnrsssxxyustrmjkklieghe_Z^]XVTQTOMNMMJJIGEGHCGGIDBDBCCEED@@?ACCBA@@AAAA@@@@@@@@@@@ABBBB@AAAA@@?@@@??>?@@FD@AC@@EBBAB@AA@@ACCDCDCADGHGJILORUVY[_`_bbccioprqppvvxursnjjkjedccddca^[YYTTWNJMOJIIDCBBEDGGHCDEDDCC@@ABBC@AA@@@B@@@@@@@@?@@@@@@@ACBAACCB@@@@??=>>@@@@??@@??@@@@@??BC@@BB@CBABCGIKLLNORUW][Z^a``befkkprqrwytnospkghfcffa`fc_[VRTUSOJKIJMJFADCDFFCAC@@BCA?>>@????@@@@@@@@@@@@@@@@@@@@@AABCAABAABA@@??>@?>?@?>?CCACB?@@@A@AAB@?@B@BCGJKLLPMGLRVWZZVXZ[^cfgfjjkkruvvwvuuqljidgeabdfe^XZZXSTRNOMJRQPKGGFJGEBFEA@?@@ABED@@CFBA@BA@@@@@@@@@@@@@@@@ABAAAAA@@@@@@@?C@?@??@A@ACB@@?B@A@@BEFBAFDHHFEEIIPQPQRRPUY[Z_ccbddfjlnquwyxwxvvusnigigfcb`cc^WVVTRUSOKINMMKECIGEDGJE@@?BEEBCA?@CFCA@A@AA@@@A@@@@@@@@A@ABCBDBAA@@@@@@@@BA@?@A@???@?@@B???>?CE@BBBDCCDFJJJJKMQVWTVY^a``dggefijnruvstvuprqmlggedff_aZVWWWTPLKJGKNJJHHDGD@AFE@?@@BGD@B@@@?ACA@A@@A@@@@A@@@@@@@@ABABCB@AABA@@@@@A@??>@?>>@BA@??@BA??AE@AFEB@@@FJLIMMNNRVYYY[adb^_djhknnptwuqtvsmpqmigedflc^^[VUVUTRQOONMJIJIEDEADDDE@CD??@A@@AACCDBB@@@@@@?@@@@@@@@@@@AAACCBBAAB@@@???F@?@DC@@BDDA@??@CF@?@A@BFD@BFCCDGKOMRSTSTWXZ]_]`defijmqttrruspmlmmmmidbbb``_]]_^]VRMNOJHHIMIEGHGGEFGECEDA@@??@?@DGBA@@A@@AAA@@@@@@@@@@@BABB@@AAA@@@@@@B@??@@@@@@@@@?>@????????@@?@@@@CJKPNMMLNQSSTZaeab`ceeilnnprqrqlkkonhdbd`]]]^[[ZUSRPOKHIFGFJGDFEDDEFHDB@@???@@A??@AA@@@@@@@@@?@?@@@@@@@@AABBB@@@@@@?????>?BB@??>>??>=>?>???>>??@@?@@ADEJLJFILNLMUYXXY^]^_aacgmopssponkjjmgbfkfba`ZYVVVVSRQOOIDDFIGCBACECCCA@D@@?@ABCA@BGA@BA@????@@@???@@@@A@@AABBBB@@@@@??@@AA@@B@>>>?@@@@BC?@DG@??@CFEDCAEHHHJHNPRPPUZ[X_d^]chgimppppturqojjgbegeb]_`[^ZWWSPTRNMKNOKMKJIGEEDEDBADA@A@@CACECB@AACBAA@@@@@@?@@@@@@@@@BBBAAAA@@?@@@?@A@?@@@@>?@@@@?AA@BA?>?BDCBED@@FHFIMSSPRTY][Z[_Z^ffbdmnnpnnonoollliedaa___ZWZ[XSTUSNLHJLJJGGGFB@CED@?ACBAAC@BA@@@BA@AA@A@@@@@@@@@@@@@@@@AABAAB@A@@@@@????>????@@@???>?>?A@>=>????@DAABFGIGIJJJMSXYWV[]]`ccabeefkmmnnkijllidaba_`_XTUVRSUQMJGHKJIEDC@@@BC@@??@@?@AAC@AFCB@ABA@@@@@@@@@?@@@@@@@BBCBAABA@@@@?@@C?>=???@@?????@@A??@@@@@@?@CCCBEJMMJMMLOPRUW]a^[^ddefhmpnprnlnmkkkhihgecec[]ZXYYVTUUMHGGIIGGC@GGDB@CA@@@@@@BGE@BD@@@@@????@@@@@@??@@@@@ABDDCAAA@@@@???D?>>@?@@???>>>?@@@?@@????ABBDECCDFIKKJMRROSY_b_bcdbejknpoqsttqklnjbbfhe`bc_][ZUUXWWWRLGHGDFEGFFB@@@BC?AB??@@BBA@B@@@AA@?@@@@@@@@@@@@@ABABCDCAAAA@@@@??C@@>>=>>>>?>?@@@>>??@??????@@ACDFDGHLNQTWYXZ[`c^__`egijlmnqqsqljpmia`fd`_`]]VUSQQPRQOLEHHEEEEB@?@CABD@?@@??AEA??CC@@ABA@@@@@@??@AA@@@@@ABBCCCBBB@@@@@??>?>?@???>>=>??>>>?@@@??A??BDCEBDGIFKOOQTXVUSY^]Z`ehefjmpnpmmkmmkhgfccca^]^_^]YVTQSQNLBDECDEGEBACFBB??>@E@?AD@?BCDA@AB@@@@@?@A@@@@@@@@@AABDCA@@@@@@@???@A@CF@@???@B@>@@>@C@@?@??@DFFFGLKKHJPQPSX][acdaabfgegkklopnpnopmnljhheba``aa_[VVWTPMOLIGIGIJHIGEFFF@?@DHFA?ACDGBBBBA@@@@BA@@@@@????@@@CCDEBAAABA?@@??BCB@BEAA@??@AA?@@@BD@?@ACADIGEJLKLMOPQRTWY[]a`a`behjjhjjlqtssromrrnkhhggbbb_`]]YUTUSQRRKEFFFDEEEGHFEADHHCBEBDDEA@CCBBBBA@@@@A@@@@@@@ABBAACCCBAAA@@@@@??@B@@@?@ADB@A@@CB@@A@@@ADBBCBABGJIKMMQRRUXYUX^[^`_dijkklnptvsnllnpolhkjbcba_^YXXXUTPMNJFGGEEDGECCC@HHDDDCCFCEFC@@AAABBA@@@@@@@@A@A@A@AA@@AABAB@@@@@?@@@@?@A@>?@@?@AA@@@??AC@ACDDEB@CBDGEILKMQQTUWZ]``aaacaahkjmnopojlmmmmljigcb_]]`XUUTSQNPQKIG@BCB@@@@@A@@@DEB@@@BHHEC@AABBBA@@A@A@@@???@@?@ABCCBCBAA@@@?@@CB??AB@@@@@@@BB@@?@AD@@DDABEDKNMIHIJLORUWYa^_bcb_bfcegillnrstnpmllkjggc]_`a`^WXXXURUSNKIHHFADFGFDCBACDDHHBABEGEEBBBA@ABBAAA@@@@@@@@@@@ABBCCBBCBABA@@@@@BB@AC?@@@BB@@?@C@ADGD@?@CCCGMMKGIOPNNMPV[`[Z_`addfdhhlmkkmnnlkjknmlhdd_^^cc_[XXZZWRMIIMNMKMJEGHDBABCBBCGCABHHFCC@ABBABC@@@@@A@@@@@@@@ACCEEDCAAAA@@@@?CA@AA@@DCAB??@@@@@AA@??B@@??CKJKILMNMMPVVY^ZYbfbcaa`fgjjkoppolkljmiedfgeda][ZY[WVSRQNNKKMKJHECCGCCFD@?@AEC@@ACBBAAAA@AAA@@@@@A@@@@@A@@ABBDCBBAAA@@@@??BBC@@CCDBAB@???@@?@AA??ADAAIKHGJKLONOORTTYZ]_`a^aa`bfjnljjmnqpoplmnllgheggb_^a^XVUUSPROMJHHGFFEFGIKFFFC?@DHEBDC@B@ABBCBAA@@@@@@@@@@@@AABBBBABCBA@@@@@?F@???@@B??BA@DED@@FEDA??ABGKJEBJLKPOORRPRVZ^]]acfgc_fljlmnrprqnolnokgdfgihcda`^[VWYRPONPNLJJLFDGFCEEGGFCBDGCADCBC@BBBBAA@@@@@@@@@@@@@AAABCCBBBBBAA@@@@A??????BEGB??AA@?>>?@??@@??@DGGJKJMKIMNNRTXXV]^_^`bcfghoplkdgkijkiifdcabfc`]^ZXWTRRSOHILMKIFIJKHD@CCDC@@@@B@BECACBAA@@ABAA@@@@@@@@@@AAABABCBBDBA@@@??@@?>>>>?ACEEEC@@?@>>@@?@BBB??CDEIIHJKKNTYXXZZY]^ccbaefglnmlnihjlihggeba`^aa]YZWXWUTQRPNMLHEFDEEGGE@@@@B@@DBBABA@?BAAA@@ABA@@BA@@@@@@@@@AABBCCB@@@@@@@??B????@CEA@DDADDDEFEDF@?ACCCCDDFJKKLOSSW_][]_abaccdeegfkmmommnmnkjnmigdccb`^_XVWXVWTOLPOONLJGHIFCEBAADCCFFA@AA@@AECCCBCCB@?@@@@@@@AA@@@BCCBCDB@@@@@?@??@CA>?CCBABD@@@@BCBBCE@?BEBEIICDKLMMMQRRWYWVX]``aacdadhjlmnnoppolhikeeiffdd`^ZYVSUWVOOOOMIDEFGHFBIGFHFCCA@CDCBDBBA?A@ABBB@@@@?@@@@@A@@ABDDCEEDAAA@@@???@DC@A@ABC@BB@BC@BFCAECBCDADGHGILLPQOTVVTRY]]]_bdfddefllnpolnsqiempkfegabcbbe`][XSTSMNPOPQLFIIJKEGFCACCEGDBDECDEGEDCA@ABBBAAAA@@@@@@@@@CEDDEDDBAA@@@@?@???>>>?@@???>??>@@?>????CDDEEDCGFILJPPKNNPRTW[YWX]acfjhghhghllihhgc`deefa^XYXRRXTOJJMKHFHG@?DHFA???>???@@@BDEC@BCBA@@@AA@@@A@@@@@@A@@@BCDCCCCCA@@@@??????>?@?@@?@>>?>>?@@???AA@?AA@@CKJGHJOQSUSUVUWVVWZceegiliiijkllhghfdeeccc^[UW[UV]YRNMOIDADEGDFECA??@BEBAC@@B@?@@?ADBABA@@@@@@@@@@@AA@@BCCDCCCCBA@@@@??????>?@@@@>?>????@DGDB@?@@@@@ACGHIJLKNRSVWY]^`WT[adabeikonjjkjihieefdaade`YSX_]ZWMKQSNIFBEKIDBDB@DCACFA@@@@@@CDEB@BCA@@A@@@@@@@@A@@@@@ABCCCDDBAAA@@@@????>>=?@B@?????@??@CD@??>?>?BCBEGFGLLMNMNRVYTV[^aadffcadilgefghhihda]Z]YY]YUY[[YUOPQPPKGEGIB@EEDCB@@@D@>>AB@A@@@@AB@@@@@@@@A@@@ABA@@@@ABDECDDDBAB@@?@@?>@BABDC@@@A@A@?@BADCAA@@CGFFDDEHGJNOPQTWWY^a_`^]abbdbdffgglljjgjkiijid`a`]Z]XZ]YVXROPLIJHKJCHIECBACBEEEABCCDA@@?ADBBBBBAAA@@@@@@@@@@@BCEFFEEECAB@@@@@@@ADDECCCCCEEB?ABABEB@AB@BGIJFHKPKKQPNORYZYYX^c^_ab_cfgffijlmjggklgigdefga^^^[^^[_ZVSPNLJGGIIJKJHEEHDGGGCCCGGCCE@?@CBBBAAA@@@@@@@@@@@ACCCEGFEEDCB@@@@??@BBAAADEE@?@@???@@@?BA@@@ADEEEJLCELJNPPSWZXVY]Z[^_`acggebbcikkkkgbdhhcdf`][[ZY[[YSURONLGEHMNNJGB@BEBB@?@EAA@@AECA@BBBA@@@@@@@@@A@@@@ABCCEDDEEDCB@@@@?>@CDEHFA?@ABDCCEBAADIKEADGFFDDDJKGEMOSTPU_b`]_dabdfggimnkhhjmlmonkghileacec`^Z]b`YXWSNQPLHIIJMKKIFEFDFGFIFA@BCDEEE@BBCBCBBAAAA@@AA@@@ABDDDDFFECCBA@@@@@CB@GFFFDABEEFFEB?@CIHFIHFCCHGELLHEJNTVUW^^_[Z`a_effffgmkliijjilmieihigffec^YWZ^ZXYTMPUNKIKKLNONIGGCACEFBDGE@ABCEC@ABCBBAA@@@AA@@@@@@ACCBDEFFFEDDCBB@@@ABCFC@CDBAA@GFBDBCACACFFEB@EECJNLLMORYZSTVXZ_`bcghfeeimjjjkmkjkjhjgffbcec`ZYX[``]WTRRTROKKIMPNKKGHHGECFBCDC@@@BCC@ACCBBBAAB@@AB@@@@ABBBDFFEEEEDDBBA@@@@@CFFAFFB@@?ABADDBCBBAB@CBEGDCGLLNLMMRVRQRVZ[X_dgfdikjmigfhllfhkmifbaacfdb]YYVVWUQQOMPRMFCFGKJIHEE@FHGGAAABAACBBD@@ABBBABAB@@@A@@@AABBDDFFFFECCAAA@???>@A@@ACCCBACFCDB@??@CADFHCCFFHMQNKLMNRZYWUZ]_``bcacfhihccgloojmkilkfdedab_ZY]]XVUVTOPMMOPNHHJGJH@ACFIFEEDAACC@@BFCBCCCBABAAAA@@@@@@@@CDEFGFFEBBA@@@??????????A@??A@????>>A@???ABABADHGGJLJILMPTVUVZ_^ca`^`dddeccgjkmgeddaabbaaa[XX__XTQQRQJJJLHCEIIFFE@@CD@@AA@@?@DC@?@@@A@@A@@@@@@A@@?@@ACCCEFFEGFCBAAA@@??B@?@??@@AC@ABA@>???DB?@GHGCBDHKLMPNLIPWWTTVXZ^adghbeggggedimpqmjhf_^cge`b^^]]ZXUVWXRMTTQJKMKMJLLIGGC@CGE@@A@@DGEEFDDCA@@AAA@@@@@@@@ABCDEEGHGFDBAAAA@@??@DFB@AB@B@BB@????@@?@ABCAADHHIOMMOLLPSXXVYZ^_befgdcggheefghlljligfdeif__][]]WXWVVURPRRNLIHGHGILIDID@DGA@AFFCADEDFDBBAAAAA@@AA@@@@A@@AEFGGGGEDDCA@A@@@>>??>?@?????>>?@?>>??????>??@FGGFHJKMLNTVXXUSUY_ab^]aefcb]`ddfhccb]^bb^]ZUVYWVVSQNNOMMMKIHEEGFFFDBA??AE@@?@ABA@@AB@@@@@BA@A@@@@@@@AAAADEGGGFEEDBB@@@??@@???>>???@A???@???@@@BDC@BFKMMKGIRURORTW[]ZW[^abcabdjmhidcfklgdfg_abdda`]`b[XYYVPPQPJMNMKGJLHEHKJDFDFCFIC@B@@BDA?AAA@@AAA@@AAA@@AA@AACFGGFGGDCA@@@@@@DAA?>???@CA@@@@@?>?@@?@DIKIHELNNKLRRSRQVYX^_^]bdacddeehfghfggfhhjjdedc`^]ab``ZXZYOPOOHHOPLKMHJKGCEDDEGDEECAACDABDCB@ABBBBBA@A@@@@@@ABADEGFFGGEDBA@@@@@FDA@@?>@BEBADB@@??@@AB@AEEGHGIKOOLPRTVTWZ[`c``bdfgefecghlifeijigfgeeegbY`cc``[YZXPQQOKMNNPOIFHJLHFIIEEGGDDED@@CEFHCBBCBBCBAB@@@A@@AABCEFGGGIGFDCAA@@@@@@@??A@AEB??@CC@>?@CBBB@ABDIECCHKNOQTUUUWZZ^`a`]^ccifdbgigegghiedd`a```_`][[__ZVRNROKLKKKKJFCDFGAABGDCHGBDCEB@@A@DBABBBBA@A@@@@@@@@@CDFFGGGFEDB@@A@@@@CFCAA@?>?@@??@A@@@@A??BDHHCEBBFKJJOVVTSTVY^c_^bdddfhhggiiigdaehhdeddba`a_[ZW]]YVUVTNMMKJHMPMIFAAHIIHCEIKEDEGBDA@@AAAAAABAABA@@@AA@ACCDFGGHIGGECA@@@@??EFECDA@?@B@@@?@DD@@EEAFCBC?CGIIMOPQONQSVYVV]adeecaccgiggklgdchjeaacb``da`__[Z[^^XVSPJJJIMOLKMJFEHHJFDFGHFIHDDGCEBBBBABBBABCBA@ABA@AABCFGFEFHHFCBAA@@@@B@@???>>??@?@ACA@@@@@@ED@ABCEGJJILOLNRQWVU[_]_``bcebdcdgjjedfhd_bc]YY[[[YWZ]]ZXTQNNLLMIJOLIHIIJHEFFABFHGEFIEBEC@@ABAA@@@@ABBABCB@@ABACEGHGGGHFCA@@@@@?B@@@B@??@@ACBDCBDB@@DDCGFFCEHLKLNMQOPTYa^]]``bddefhcbgghmkjigefacgeddc_^`X[]_`[RTXURQOJJKLMKJIEFGEECBDDBAAEDDC@AB@AACB@ABBBA@@A@@@BBBCCEGIHHHGDB@@@@@@=>?????@A???@DC?@A@A@EDDGHFGIKMNJKPNQTVWX]]^]_aggficchijmfeecbecfjjgec__a`a][[WSTVUPNQNJKLLJIFCDFFEDEEDGEA@CGFB@@?ACCCAABBAABAA@@@@ABCCFIIHHIFDA@@@@@@?@@@A??ADCBA@@@>?@DEEFC@CGGHIJLLNMORWSRWXVU^^__b`ceegiihikiffddfifdbeid_[][^_^YTVUSSUTNLFDEHKFCFEFDCDDBFC@@FGGE@@@BDDECCB@AA@@@@@@ABCDEFIJIIIFEDA@@@@?>??@B@A@?@@??@??>?@B@ADDDEFCEFHIKKMMRWVYXVX[Y^cgedfhefeehid`aeeddgda`a_`^[X[]ZYUUXSQQPIJJHIIGCCDDGC@ACCFA?BEDDCBFGCCBDCBAAAA@@@@@@@ADDDFHIIJHECCA@????@@B@BFDCDGFBDGFB@@GHBBDEGECFHLNOPJMRUTUTSU_`aefeghhecccehefiikefhkgc`dba_^_]YZXUUZ]VNNMMOLPOMOHECGJHFDEB?@DGF@?@@ACCCBBBBBBAAAAA@@BCDDEHIIHHGFEBAA@@@@JD??@@?@@??DC????AEFB@FHKIFDEJOLMMOPQTVWXV^db``dfbddfccdghfgcedfhfbbdec_[^[]^]VWSSQOOPOOQMLNKMJECHFCCAAEDDAEGB@@?@BCCBDCBBAA@@A@@AABCCDHIJJIHFEB@AB@??B@@@??@D@BBCBB@??@@@@AHIIJEEEFHIMNPQTUTWYTX_`edca^aaa`effggdbdeeea_`___`_[ZZZ[VPONOOPPKIIJMKIGCBAHFFDBBDFDBBA@?@BABCBBCCBABA@A@@@AABCDGIIGHIHFECA@A@??AA@AA@BDB@?@ABC@@CBCABHHGHCGKJMONPYWWUUV[_bcada___dcddbdebdeaegcadffcbc`___[ZZXVVSSSQNOONPRLIGHFHLLJEHGECDDBBBCDDABBCBBA@AA@AB@@@@AABDFHHGHIHGFECA@@??@BAAA@DFBEGJE@@BCCDFEINPLIIIJMMLKMSVXYY[]]]`cgdc`^bfca_`cffikkhdabaaa`cdd``ZUZ^ZYVXWPLONKLLHFJLJHMMEFJHFFDED@@CEDCDDBBCDCBA@@AA@@@@BDEFIJJJJHGECA@@@@??DD@?@ABAAAGCADC@ABCEGKJHHKLNONNNMRT[_YVYY[agfcbdehjhgfbhgfgggfigdacb`bdea[XZ_[UQRTVTOOPNLRQLHEKNPNJHJIFDADDDB@@ACDCBBDEFCBA@AA@@ABBDEFIIJJKHGFDB@@@@@=>>??AA@??=>>>>>>>?BBCEBCEDCDGIMPLLOTSSWTUU^_ZYacceaa^[^bbbfd`cedb]]_a]Z[YWUVWRRMLQQMKKJGDHHGECDFJFCDGCCDEGC@@?>>>AA@@ABAAABBAAA@@@@BDEHJIIJHFEDBA@@@@>?A@?DEA?@??@AAACGECEHJIJNNKILMNRQLR[XV]]]^b`Y[aa^bdeeedffcge`dgcabcabb[XWVZ[YUUTTTOKJMPOKNLHFFFEEECHIGDDGHDCAAB@?BCBBCCBBBCA@@@AA@BCDGJKKKKIHFFCA@@@@BBD@?BC@@@DCA@AABFEABHGDIKHGHIIJJKIRWUTUWV_cb__aa`aaccedcbbhhgfbabb`]_[XWVWZZZWWRQPOQOLMPKIJKGGHGFHECBGIFAB@DJIHFDCBBEDCCABBAA@AAABCCEGIKJJJIGFECA@@@??@AA?@BACACD@BFCCA@@CJHAEFHIJHLLLLLPRUUWYX_`Z]][^_b`begebadhfb^[]_[[]_[[YVXWUXVTOJNQPMQOPJHJHGEHIFFBC@EEBC@?AEHC@@BAABCCBA@ACB@AAA@BCEEHKKKJIGECBA@@@@@@@@?@???B@???@AA?AA@@DEJHHHLIKKKHKOPRUWXWWZ[_^WY`e^_cc^^``b_Z`caa_____[^Y]YSVUTRMPNOPOKNIFEDA@DGGDAACB@DB??@FGC@?ACBABCCB@@@AB@@@@ACFFIKLKKKIFDCBAA@@?@DDBHCAFECDA?@DHHEDDGLJILMMNOMOSTSPRSX[^YYad`__`ehbadgec`bfecfebbcfea`aa]^```^VQQSSVPNMQOLMLFDEFKKEDGEBABEEFGGCCFDDCBCDCBBA@@A@AB@@CFHHKMMLKJHDCA@@@@?AFE@@@????A?>?DB??@@ADEKIDIJHJLMNSSONVY[[WZ]_`_^]c`^^db_^aa_`cddc`^[[V[_WVZWSURPTUPMLLGLJFFECBBFFDA?AB@ADD@@IIFCCCCBACDCAAABA@@@@@BCEFHKLKLJHFECA@??@B@@??@BBA@@EA@ADDEDFEFHGHHLNMIINQOPUSRVZ_`^^`dba`_``cdgcdcac`bc^bea`_c^cf][[[WVWUTVVTOPOMIHLHDDDHGGBAHG@?BDBCFGCDCCDDDCCCDCBAAAABB@ADFGJLNMKIFEEDB@@?@A@@@AFDCB@@FEBCDGKHGABFHMKJMMNPUTROTVVSV_`^_bbbcd`^acehafhc_]b_]dhccaa[a`][]YX[[UQTPOMOQPJJICEIGGFGFFHDADCCA@@BDBACECCEEEDCBA@AAAA@BDEGJKLLLJIHFDCB@??>>??@A@@?>@D@?@@@ABB?@@?BDC@DIJOOLLNQTRUVWY_`]^ZZZW[bcdaba_`]`YW]ab_ZWX]][XVUUTTPOUQPLMLHFFIEBDAACB???B?@B@?BBA@BBBB@@DDCBBBA@@@AA@ABCGKLMMLJIGDBAA@??@?@?@C@>??A@AA@DB@DDDHH@DFFAFLLIHJMQSSRTZZ]`aW]]^]Z]badbbeab]`^]^[XX[^[[`^WTWYWSLOSPPOQMNLDHFHIGGDCA@?CB@D@@CECB@?AABBBCBCBBA@@ABA@BDEHKNONLJIFDCA@@???>?ADFE@A@>>???@@?ACADFAEFJIJJKNHIJORSSX]WUWZY`eca_]``a_acbbYWY[[ZZ][`_]^ZXVWUUPLMQMLMNJKMHGEEECDAB@?@CCA@B@BC@@ACBCCBCCACBAA@@ABAABCEHJLMLLKKHEBA@@??>AB@BC@BCC@@FEFFFHEGFFGEHGIHKKMOMNMPSUVX_`[XZ^`adedabcfddcgjc`]]_``ccc`]Z^_^[YURSPONRUSONKEGHHJKHEGFEEEABGF??@DDCEDBBCCDACCA@@@@BB@BCEIKMNONMKHECA@@@?AEDHFB@AEGDDCAFKJKIJKIEIPLMPPOSUOPRTW]^bggec]^cdghhhgccaaddfff`[`bbcagdaa[Z]]]ZUVVTRSSQQRMILLLNNHEDDEEGHEDF@BDHIGDDDDCEFDDCCBCA@BBBCDFIJMNNNLIFDCB@@@@?@BGGE@AFFFDDDFHKKGLJJKIJIOSRNSUTTTXX[^]``ba^^b^_`ejhhheccfeabeaabac`cecaa^ZY__ZXWSOQOOPQMMRRRPMHFGHHGLJFBEDBCEFEFEEDCDDEECAAAA@ABCEEGIJLMNMLIEDCB@@@@@>???>?@BBA?>?@DDBCEDFFFJJNKHIKMKMPSTXYXWWYZYVVVWY[]]][Z_]a]W]_^^YY^[[ZWX^]YWUSROPOOLIKJIFEHJFBCD@??BEEDB@@@BC@@ACBCCBBACDBCA@AAABABCEHKKMNLJIFDC@@@?????AEEFDBEBDD@?@FIEEHIIILKMLGGNPNUXYZ]XVXUY`YW[_ZZ[Y`bb`d_a_[[ZYW[]_b^ZXX[XPRUURNRVRRMPNLPPPKGEDCCGFAB@@@BGCBA@@@CCDCBBBBECA@@AABAABEGIJLNNMKIGEDB@??@EABGE@DJFFEGKIGGFFECDHMOMKNPPOMLMUXXXY[[YW^a`[]acb]Xafeaa[Z``_aa__cddc__]aaXUY[YRSUTSOQRRTPQJEGIFEHMLFABBBFIE@BFFJFEDCCDDEDD@@@@A@ADEEILNONMLKHFDA@???JDCJIDDECDDFHFDBDDHGFGILPOSTTTQONTXZY[_]VW^ca]^b`]]`fecbb`ad_^^dfdfgedb[Zaa_[XZYXXWRUSSRSRONJJKMMIGILJFDBDGHFCFCEJFFEDDEEFDCBBBAA@@BDFGKNPOLKJHECA@@??BDDFCACCAEEDEAA@BEBAEFHGJMMLPTSRQPTXUX[YUTYc_Y]c`_cccc__b^^aZZ[ceec__bb]Z[`^XTURQSRPQQQNKIILGAFKMLIGGGEEBCEFA?ACDDCDDDDEEDCBACBBA@@BEHIKOONMLJGFDA@@@?A?@@FFGEA@ADHDA@@@CBDDFFKKLPPPONPQPWUUSVXUV][]`b_X`acdb`ca^^VY[__bd`_ZZ[WY_]TMPQSWQMJKOPMKFFEDDEIDCAAA@DDBBCC@@EEFCCCBACCCBBA@@@@@ADEFHJNNONKJHEC@@@??F?@CCBCEB@@CFFFBEFFCFIGGKKNQRUQKKOPVXURUYWYZ[]^`a^bb`aa``ZY_ZY]abdd^`^[X[Z]ZWSWYXUSRPORPNMKIJJECIEEEA@@FBCCEFEFHFEDEEDBCCDCCBAAA@@ACEHJLOOQPJJIFD@@@??DBCEAABDFFDDEACBCECBGJGFINPOPUPMKLOSUY^][URY[[[_`^]Z^YY[]]Y]XY``^__[^XXY[ZWWVVVVWUSQRQRSNMJIKJDCFDFDE@BFBB@BFBB@@ACDCBDEDDA@@ACAABBDEHILPOQOKJIHEA@@@?C@AC@AEFEHEBBCCCCCFFFHJIIMLKLOQPJMRUUUWWY]Y]]]^^YZ^X^]Z^aa^YTYZZ[Z[Y_[XY[[[VTSUSQMONLLMNGFHGIHCFGBFHHFFHCA@CE@?@@BBDCBBCDDBAA@BBA@ADDHJLPQROMJGFC@@@??FB@@@?BCA@ADCCEABEIHDBGGGILKJLRNILRUSQUY[X[^[^ea]_^UZ^^X]`[[Z_[XXXZ^___[Z[ZVUSTRUSSOKMMOMKJIMH@AECCFEAAD@A@AGFEBBFCCBCBCDDCA@ABA@AADCGJJMOPPMKJGB@@?@@EGBBBDHHFCGGFHHBCGJJDEHIHIKJKOTTPPOSTPQRUUWY^bgd``^]_`b^``_baaca`bb]^^ZUPV[]XUYSSSRNPOLLMONKMHCCJKKGEACCAEDAFEGFCHDDDEDEEFDBAAAA@@@DCFIKNNPPMKJFB@@@@@DFADHHIFFHJGDFECCFGFCFGGGJMQTTTSTUQTVSSY[[]ZYZbb___WX[ZZ`db[X]```b^Z]^[WSRUXVSTRWSPQMHKPOLNKLJFDJHFDD?BGCCFDECIICABCDEDEDDCBA@@A@BBDDFJLNOPOMLKGC@@@@@@@@ACFIFEFHHFC@@AEJD@HLGIKLMQPPPTVRXXSWZ]WV^[W]a^[ZXXWY[Z]bdaab`[^_^_]YTUUNQPNMNTVTPKNPQNLPJJIGDFDHLIAAECBEEGFIGBDDDDDCDCCBABCBA@AACEFJMPPQQNKIFCA@@@@@@AADADDDHMFFIGEADHEEKIBFHJKOPRNPTSXWUUY^_]XWU[_[XYZ_c`YUWX_]__ZX[]__ZVSSTWVWVPJORMPOPSRMHHHPFCIJGKLFACDBADFIFGGDDCCBABDDECABBA@@AADEGJMPPQQMJIFBAAA@@CCB@@ADFD@EHFEHGEFEEEFEEGHJOSQNKOSTWSRUTTVVVUTY]YZ^XZ`[VUUV[[[YVUWTZ^XSORTSSQOPOQMJNLLLMKGEBGGDEFBFGD@CA@?BACEHIFBACDCDECBAAA@AA@ABEEGJLNOPQNJJGDA@@@@DBBCA@ABFGIFEHHIFEFGBCEEJKMUWSRQTVVYTQTXZ[UWZXZZ]b_SX_[WZXWZ[^aaY_]`a^[WTUUUTTWURNJLJKKLJIKKOKGGKGIGE@CC@??@GBFHGDBDDDDFDDBAA@@@@BBCEGILPPQQNJIFCA@???CBCECBBCIHNLJMLHFINNIJLMPPSTURTSUUWYWSWXWXZWXZ_b^^`]`_XU^a^b_Z^]V]ada`_YUUVUXVUXXQKLNMNTQKNJKMIJKHLLJGHFCACIHBGIHGDEFFEECCCBBA@@@ABEFHKNPRSROLKGEB@????@@BFCBFHEGHGHJECKLJEGIJLLLMRPQRUUUWXTW^_YVWWV[```_Z[]YZ[_[]]Z^]W^[[YWWUUPOOPPRSQNMOOKOQLHJIMNMMMIIHJDED@??BF@CEHHDEEDCDDCBACBA@@BDFGILNPQSSOKJGCAA@@??@@@@@AABDHGGGECDJJJHFFEHHFHMPUORSSVYXYYYZZ[XXVYWVXVXYUVXYUY]]]]WY[[ZXVXUQSNMORPMIILNJKNLIGDHEEHHGJKJCCA?@@CG@@CLIACCCCCCBBBBAA@@AADFILMNPRQMIHFDBA@??AGHE@ACEGGHJJIIJHMMMJNNMNJLSWRWWZUVY[YZ[Z_a^[YY___ZYZ[Y[Z][^`a_[SW`^ZVZYVXYVWW[WURRUOLPVQGFEJLONNJIJHFFGDCAILDADGGDDCBDDCCBBBACB@BBEGILNQSRQNLJHD@@@@@FHGEEDCFKMNKHFFHFJKLILLKMKLQUTTUXPWZZVSX[ZZ]XZZ[ZZXXY[YZXYZ]]``^VW][]WTTRPVTUWWVSOLPPNQTNIIHIGLJLJCEHGGFE@?DFGIFGECEFDDFDCBABAAAACDCEIMNOPPPOLIECAA@??IEGHLMKHGGLJGILOMOOPOQOLPPOSXXZXWTY]cd][_]^a^Z[ade`^_a]__[Y__bfaX[]_b[[XUX_ZWXWVROQYTPRUNLKIIGLINOHGLONIKJGNKJIFGECDFEEFDCCBB@ABABCDEINOPQRQQMJGDBA@@@EFJGCEGHHJHEHIIMLLNJHLKJNMLOSOOMNOST[XRU[Z]_^]]^]^]ZXZVYXZ[]`b_VQVVVWRRTXWTNNRSTRRSSOPOOLEGGKHKIKHGEHEDBBEBCCCHHJC@BDEDDCCCBA@BBABCDEILMPRRQOKIFCBA@??CFHGDBDFHMLEGJHJFFJLFIIHMPONRNPQPOVRY[VX]Z^[[^Z[Y[[TV[WUVYYYZ[[VQUVUSPVXUQSRSTTVQLPSPOPQLHGFEAFGJGDBCEHFAC@BBCFBGDBCDDDDECCBB@AA@CCCEHMOPPQQOKHFDCB@@@@D@@CBCGEIJDBFGIEEEGHJJMIFEKUQSRUPRRVVUYZUW[YYUUUVSTQWTTSSTXYRWYSSVUWSVVTSSOSVUTSJHHEFIIJJLFF@BCKGBEFFFHDECFFDCDGEABDCCCCBBCC@AAABCCDGLNOQPQOKJHDA@@@@FLJGFIMKHKOIDFFKNLJNKMMNNLKP]XXXYU_`_`[]]Y_`_ede^Y]a_aWXXZZ^aZ]ZW]^]^Y```]]ZXWUVUQROQRURJKOIHIJJOJFJJFEJHEFKIKIGHDCDDEFEEEDDDA@@ABCCFILNPQPPOMLHFCA@@@KPNJLKLOMNOLHGGKJORQMMNPOTPU`^[URT]acaX[^_hkfghb__`]]]^``b`[^^][Z_``e^]]_Z]YZXVVXQRTSRRUOLNHIGILVOHLJDDLJIKOGCDGHFDCDDDFFEDBCA@ABBCEGJMOQRRSROLHEBA@@@DKGC@EIGFKGBACFGIKKLKMKJIMNT[WQPRSYYUVQRUZcb``[^][WUTSRVY[XUSRSQSUTSWTSUTTTSTRTWVSSRKMNJEKJB@@B@DGDFH@@DBEDEDBEIGDCDCCCDDCCCCABA@ABCGJLNQRSRPNJHFC@@@?BECBBEFC@FHDDEFJHJKGGIHKNOOPVQMPOR]WW]UU[[`_YVSWYVTSSXVXXUTSUVUWWXWQTSUTRQXXVQQSXSOPJIMLHHMKDDGEHIGFEDDIF@@C?BAEGEBDCBBCCBBBBAABAABDGJMOQSSQQNKHEB@@@@HKJFCFJJGLLIIJHHJMNNNPOLLPQRXTRSOW_XW[WY^^`^Z][^^]]XY_X[]WSV[_[YWSWXXTUTVTUSURSXZTOPLKNONNLGFGGJMKGGF@EMLEBC@CCCIDBCDCDEEDCCBABBBBBDGHKOPRSSRNKHEB@?@?DHJGEBHJDEFDCHEEEKQQOOMLJKMOSNJKNUYPQSQSZYZ]ZUW[ZXYY[]TUZYTXVUWYZXZYVRUTPQVTVPOQUVROKKKJGHHCEFFBGHHJGAAECAA@BFB@ECCCDBCEFEDCB@@BCBBEGILOQRSQPNKIFC@???EIEBBDGECFGGGGFGKOOLNPQOOPPQVSPQOQTUVVPQYXY]ZYYTUW^bb^URSWZ^ZZYVZUTV[XWTRSUSRPTVWTPLGMMHCEDCFED@FHHIH@BHGGBADFB@CDCABCCDCCCCB@BCCBBEHJLORRSQNKJIEBBA@@QOKHEDE@AHEADCEDAGMKKMORQQLOSTSSORUTX^XSVY]_^]VQUV[^[XSTVUUXYWSV[WTVYUVRSUWTTPVWXRRVONMFBDDFHFEDHIGGF@CGFIDEFC??ABBAACCBDCDDB@ABA@AEHKMPRRSQQMKIECB@@?JGGIHHKGHMKGGGGHGJLIHIMQROQUTSRWUTXZ[b]VY^^^[[_`a[ZZ]ZUUZWVYWYWXZSQUUTWWUVWQTQUZ[WWTJJMLEFGFHEEHHEEEGBBDDHGFBA@BEDBBCCCEECBBA@AAABBDGIKOQSTSQMKIGCB@@@IKMLJHKCGKNMMLKMKKJHIMMQQRRWYXUTSUYY[^ZY_`_^ZXZ^ca_^^^XWYZ]_][Z]YTUUXWZ[WWYTVUX]YWSSKLJKEEEFKJHFGGFGIAAEHKECBDFB@ACDEDDEFCCDBABAAAADGKNQSTTRPOLHFDB@@@EMPFAEICGGKIHGILLLOPPTPQPQTQTVSQPVWSUY_^``[Z][XZ[W[[XWYXYYX[YZVZ[WVQSUVSUUTSWVUURRQIAHLKHEELLKHA@CGDEFGDADEDFDDCA@CBBCCDDCBCA@BBBAADFIMQTTSSQMKGDDB@@AFGHDCHEAGGFGJHMPJLQSSSNUVRUWVUXZWXYUT[^YW[a`____[XZ`]YW[ZUV[XXX[WTYUPUUSXXYVVWVXWSPLFIMMGEFLJJEACDBEFGGGDKLKHCCA@?DDCDEDDDBBBACBB@ACGJMQSSTTRNKGEDA??@GIKEGKHCJLKFEGLJILNKLKOTVSRSQRSRQW[XW^^VUXbc^]_YYXY[YXWWRTW[WXWURRXWVYXWXSPUYWZYURQOGEIGFCDIHEECFFBDCCFBBKIDEA@@BCDCCCDEDCBBAAA@@@@BFJMQSTTRQMJGEC@@??MLMLLNLGJLIFHGGEFIIKMLQRPNSTPSTPORWVXXWYXV]]XTXY[VW[^[YXTW]^VTTWVUSRRRSTTTTSSQYWRTRNFFLKJHHJFHHHFDBEE@CGJJB?@A@@CEDDEDCDDCA@AAAA@@@CFJMNQSSSRMIGFCB@@?IGHGGKHACHGCACHKGGIHIGHHGLPLLMPQRTWUTSTTTVWUUVTVYQR[]XVTPV]YNOPRSQPPLRVQMPUSKKOPRRIDCFFCFDBFEEB@CGDCB@CCDID???@@@ABCBBCBDECBBAAAA@ABFHLORSTRQMIHFB@@?@DCCEEGC>?GFEF@FIEFHLLLLMJLNMLNRRTVVTVUUSTY_[XXURUWWY]UQWRTXXNOKPRMPROOUVRPTSNLQOMNMKHHEDGDGLKHD@@A???@CE@EF@?DFBD@BBBDDEEDDCCACCBBCEIJLPTUTSQMIFEC@@?@NMIDGKJA@CHJHDGJLNLNRRQQPSUTRWZZYY[ZY[^XWX^YWY]Z^^``ZVVYVUVZSURUUWXXTTVVWTSVUSURQQOONLHFKILMGDECBFBCBBDGCFIE@ACDECDDEHFFEEDCCACCBBBDFIORVUUTQNKIEB@@@@KJGAEMJDFGHIJIGHKKLMONQOMTTQSZ]^_[YXWZ]YXY[VWZ^]YUZ_]WXZWVUWRTRTWYVSSVTUVW[[RPUQQURRLIHEIGHJ@DHEEGDHECBC@DEEFFCADCCCDEDEFECCBAA@@@ADGKOQVVUTROLHDA@@@@JILLKNLDDHHGEGNNPJLMQRRRRSWUQV[ZZXXXZ^^]^]YWZ`d_^W[bc]X]YWXZWUSUYYUSQWWTUUX[SMTSRXRQMHGHIDHHCJFDDDCGHFC@@DECBDCBFECDEEDFFDDDB@BAA@ADHLOQUVUSQPLGDA@@??INRMKJFDEIJMIHINTMKMOPQRVUVURUY^YXWWY]``b`ZXY]^XZWS]]WXYVW[^[VPRRSTUNSWRQQRSOHRVUWQURMLNOJHGDLIEEFEFHKIDADC@ADEEFCCDEEDFECBCCABBBABCHKNPUVVTQNKHFCA@??TRNJRMBADHKJILKKSMLQTTSXVSTWTUX^Z[ZYXZ_be_^]Z[b]^[Y[XVWYWXZ_[XWZXUXVOQSTSTWUSOSPMUTQLKLNMLOLHOLIEDDKJLKEDGGGCAADFDDDDFFFDCBBCCCCBBBDHKNPSTTTROJGFDBA@@QMLJQLFEAEKJJMLOWQLMPPQ][XYZWUVURVU[]Yaeb`^_[]`Y]XXXVWWXWWX]YVSTTTVZWWVUTWYWRNQOQWRSQOKOQOMFENOGILIHKJIFEGHFDCBEGABDDEFHEDBAABDCABCEIKNPUTTUSOKGFEB@??JMJISOGEFDGJLMLLRPOQPRRXXUUVWUVVRTW^^^a`^]`]`]]Z^ZYYVTTYUPW`ZYVUUV[]RRVYWUWYUQVROXTSMMOPSOOJHNLFIPMKMHEDCDDGFIGFFCBDFGFFDDEDBACCBDDEHJNQUTTUTPLHGDA@@@MJKIRJEEECIJIKIKOLMMMPQVTTQQUSPPSVVZYX^[WUYXXWXU]YUWUTUYVTSXUUWUTVXWRSRUSUUTMLRQPVSOKMMMOMJABMKB@IIDBBDCAA@B@@BDCBBDEFDDDEDCBCDCABDEGLOQUUUUSPLIGCA@??GILGOIFFIIHHJKIFMLKOOSTWUQOSTRLLPSTY]XVUWWZ[WX]ZYVRSVUTVWPPUTUWPPRVVRSRQOTTPKKKRPQLIEIIHIIF@DJIE@DDEA@@?@CBEEDAB?>ABDDCDDFEDCBBA@ADDHLNQUUUVROKHECBA??@DKDPJDBGJKIIIHJOMNPLNOYYVORRRQRNOQXZZY][Z^]ZV`]ZRQSVVS]_SSZZRRQRUWWRTROQSTRMJLOMQNMDJNMMKH?BFHFBCDEEDA@@??@EFBCAADDDDDEDFEDAAAA@BCEILNRVVUURPMHEA@@??GCDDVJECIIHGLMHFNOPONONWVVTUUSOQSUZ]]_]_`[[Y][[X[XUUUUPU[SRZXRVTRRVVJMRSVWRONNJLHPMJEJNKKKJACIMGAGFCEFDB@@@DEFBD@@CCCEDFDDDCABBAABBDGLPRTTSTROKFEB@@??JBIJSEFED@EGLJAAKONMNOMWTSQPQPMQSTUTUWYaaXUYYVUWZVRSWUNS[VUXWPRPPOPQKQUOJLJJJRPKDGDFGNRMMLJDHJKB>@B@AD??>@CACJFF?>ABDEDFEFEB@A@AAAACHKOPTUSSQOJEEC@@?@"};
for(var k in D){var c=document.getElementById('h'+k);var g=c.getContext('2d');var w=c.width,h=c.height;var im=g.createImageData(w,h);var s=D[k];var two=s.length>=2*w*h;
for(var j=0;j<w*h;j++){var t=two?(M[s.charAt(2*j)]*N+M[s.charAt(2*j+1)])/(N*N-1):M[s.charAt(j)]/(N-1);var q=col(t);im.data[4*j]=Math.round(q[0]);im.data[4*j+1]=Math.round(q[1]);im.data[4*j+2]=Math.round(q[2]);im.data[4*j+3]=255;}
g.putImageData(im,0,0);}
})();
</script>
</body></html>
